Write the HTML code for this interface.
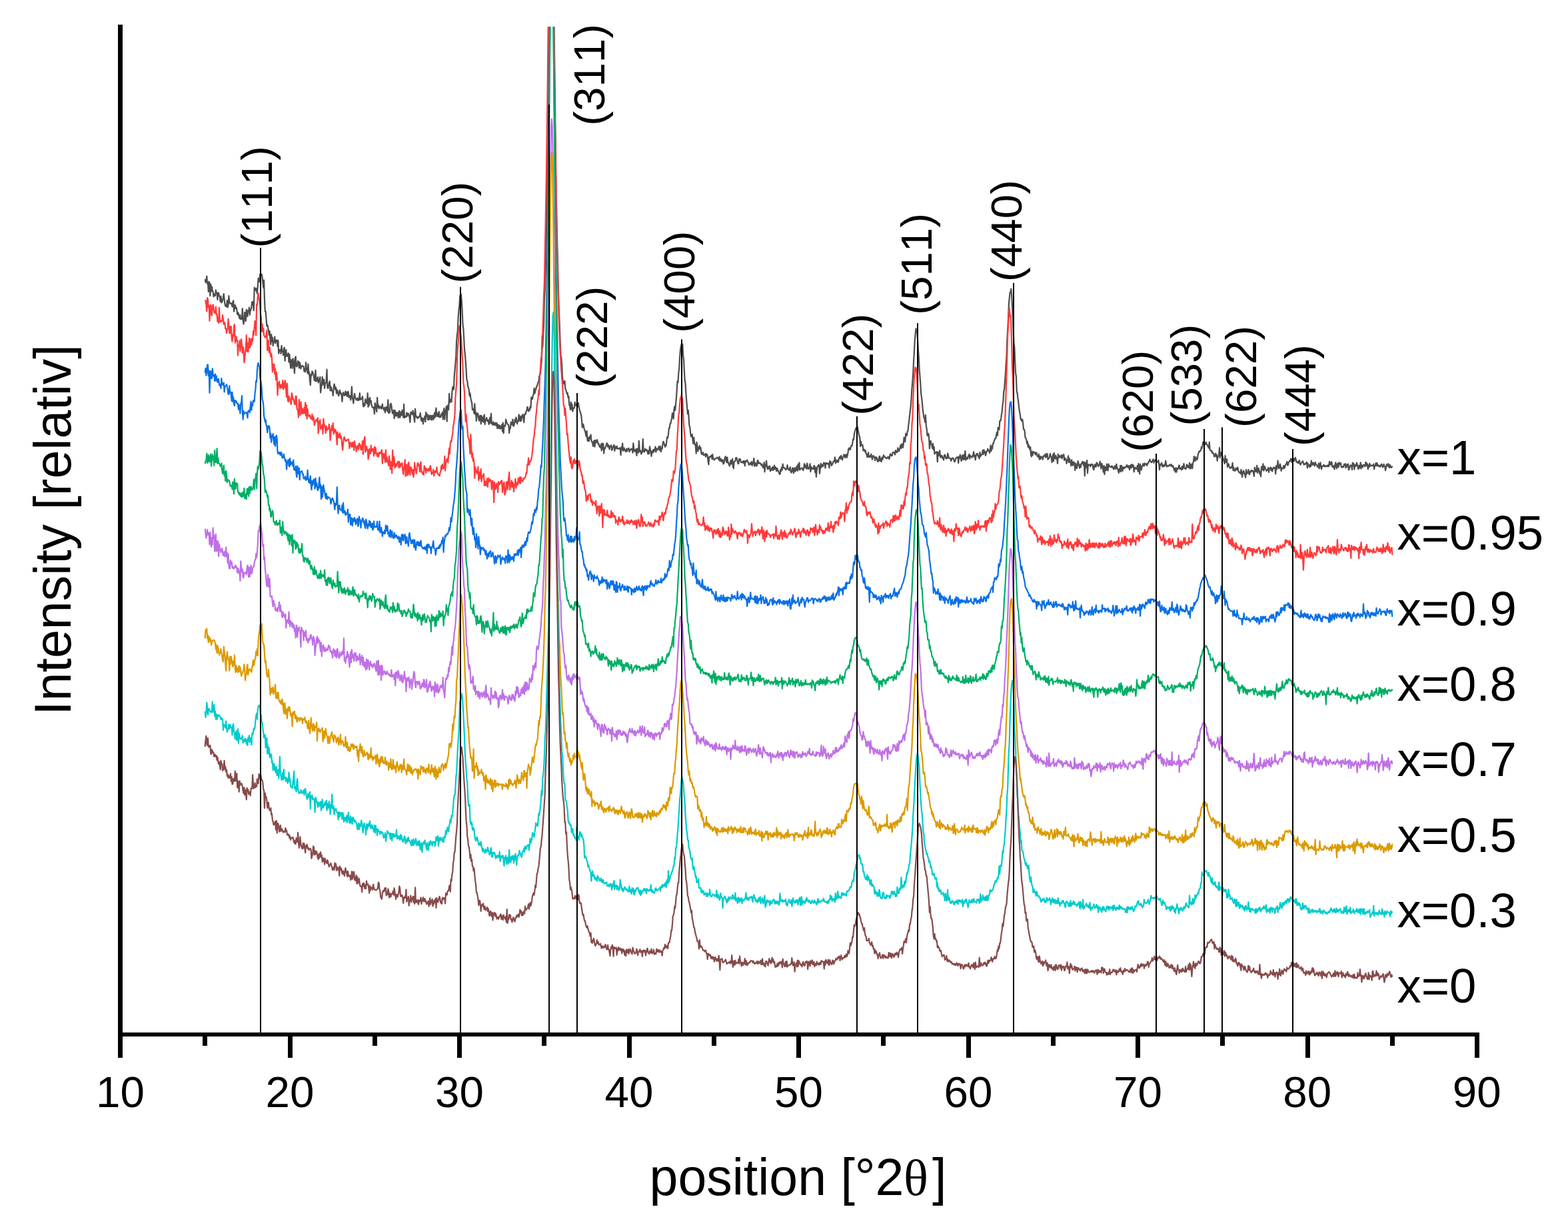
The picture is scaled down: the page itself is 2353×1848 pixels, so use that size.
<!DOCTYPE html><html><head><meta charset="utf-8"><title>XRD</title>
<style>html,body{margin:0;padding:0;background:#fff;overflow:hidden}svg{display:block;font-family:"Liberation Sans",Arial,sans-serif;font-kerning:none}text{font-kerning:none}</style></head><body>
<svg width="2353" height="1848" viewBox="0 0 2353 1848">
<rect width="2353" height="1848" fill="#fff"/>
<defs><clipPath id="pc"><rect x="0" y="40" width="2353" height="1520"/></clipPath></defs>
<g clip-path="url(#pc)" fill="none" stroke-width="2.2" stroke-linejoin="round">
<polyline points="307.7,419.1 308.6,424.0 309.4,420.6 310.3,414.5 311.1,426.0 312.0,424.0 312.8,437.9 313.7,422.7 314.5,425.3 315.4,444.1 316.2,426.7 317.1,437.5 317.9,430.3 318.8,436.5 319.6,437.4 320.5,445.5 321.3,441.6 322.2,442.7 323.0,444.0 323.9,435.4 324.7,440.7 325.6,439.9 326.4,449.8 327.3,439.4 328.1,440.0 329.0,444.3 329.8,445.7 330.7,452.9 331.5,444.7 332.4,454.4 333.2,453.3 334.1,450.2 334.9,446.7 335.8,441.0 336.6,449.5 337.5,456.8 338.3,459.4 339.2,457.9 340.0,460.7 340.9,450.9 341.7,461.3 342.6,457.6 343.4,444.2 344.3,453.4 345.1,455.4 346.0,455.8 346.8,455.1 347.7,456.6 348.5,460.5 349.4,453.5 350.2,451.3 351.1,467.7 351.9,462.1 352.8,457.8 353.6,463.0 354.5,461.3 355.3,464.8 356.2,472.2 357.0,469.1 357.9,470.5 358.7,475.7 359.6,478.1 360.4,472.9 361.3,479.3 362.1,477.3 363.0,478.9 363.8,463.1 364.7,481.2 365.5,486.5 366.4,481.5 367.2,468.8 368.1,473.3 368.9,481.9 369.8,464.9 370.6,469.9 371.5,475.0 372.3,466.2 373.2,468.3 374.0,461.6 374.9,472.7 375.7,465.3 376.6,465.1 377.4,460.1 378.3,453.1 379.1,453.0 380.0,458.2 380.8,466.2 381.7,431.7 382.5,435.3 383.4,435.6 384.2,432.7 385.1,436.9 385.9,440.6 386.8,430.2 387.6,417.9 388.5,421.3 389.3,422.9 390.2,411.5 391.0,411.5 391.9,411.5 392.7,411.5 393.6,415.9 394.4,424.5 395.3,431.8 396.1,420.7 397.0,450.3 397.8,467.5 398.7,467.6 399.5,478.3 400.4,489.4 401.2,487.8 402.1,491.7 402.9,495.7 403.8,503.2 404.6,497.1 405.5,508.8 406.3,517.2 407.2,502.1 408.0,512.6 408.9,506.7 409.7,519.0 410.6,512.1 411.4,512.0 412.3,505.7 413.1,515.4 414.0,510.8 414.8,513.0 415.7,510.7 416.5,519.8 417.4,511.2 418.2,530.7 419.1,526.7 419.9,525.1 420.8,524.9 421.6,530.9 422.5,518.9 423.3,527.2 424.2,526.3 425.0,533.2 425.9,523.7 426.7,521.7 427.6,541.7 428.4,531.0 429.3,525.1 430.1,535.0 431.0,534.5 431.8,532.4 432.7,530.2 433.5,543.7 434.4,532.2 435.2,541.2 436.1,552.4 436.9,540.2 437.8,541.1 438.6,552.8 439.5,538.3 440.3,540.9 441.2,551.1 442.0,560.3 442.9,537.5 443.7,535.3 444.6,549.6 445.4,550.3 446.3,547.4 447.1,542.0 448.0,543.1 448.8,552.5 449.7,544.0 450.5,546.9 451.4,553.5 452.2,550.6 453.1,549.7 453.9,548.8 454.8,550.0 455.6,550.2 456.5,557.5 457.3,554.4 458.2,558.2 459.0,544.1 459.9,554.5 460.7,554.3 461.6,560.3 462.4,546.5 463.3,561.7 464.1,558.8 465.0,570.9 465.8,578.2 466.7,562.1 467.5,564.1 468.4,557.4 469.2,558.8 470.1,561.0 470.9,564.8 471.8,571.2 472.6,571.3 473.5,555.8 474.3,572.5 475.2,568.2 476.0,571.7 476.9,566.1 477.7,574.5 478.6,571.7 479.4,569.6 480.3,565.9 481.1,589.4 482.0,581.7 482.8,578.8 483.7,565.8 484.5,574.5 485.4,577.3 486.2,569.6 487.1,582.9 487.9,576.3 488.8,574.5 489.6,573.4 490.5,554.7 491.3,580.9 492.2,583.1 493.0,579.5 493.9,575.3 494.7,572.3 495.6,586.4 496.4,580.4 497.3,582.8 498.1,587.1 499.0,587.5 499.8,594.0 500.7,581.5 501.5,576.5 502.4,579.6 503.2,584.9 504.1,581.9 504.9,590.7 505.8,585.3 506.6,586.8 507.5,592.1 508.3,594.3 509.2,588.7 510.0,585.8 510.9,591.1 511.7,590.0 512.6,593.0 513.4,603.0 514.3,592.8 515.1,589.0 516.0,592.4 516.8,593.8 517.7,591.2 518.5,587.4 519.4,593.4 520.2,588.8 521.1,595.1 521.9,588.0 522.8,588.3 523.6,596.7 524.5,594.0 525.3,594.9 526.2,600.5 527.0,594.4 527.9,580.5 528.7,596.6 529.6,599.9 530.4,605.5 531.3,596.4 532.1,590.8 533.0,596.6 533.8,598.1 534.7,600.6 535.5,599.2 536.4,597.7 537.2,601.3 538.1,597.9 538.9,600.5 539.8,590.1 540.6,600.1 541.5,598.1 542.3,598.9 543.2,599.1 544.0,595.1 544.9,608.5 545.7,610.5 546.6,605.9 547.4,608.8 548.3,599.2 549.1,602.4 550.0,604.2 550.8,605.9 551.7,590.2 552.5,611.0 553.4,598.6 554.2,608.3 555.1,596.8 555.9,603.9 556.8,601.8 557.6,607.8 558.5,610.8 559.3,612.0 560.2,611.3 561.0,612.1 561.9,621.4 562.7,605.1 563.6,608.9 564.4,612.0 565.3,618.1 566.1,596.9 567.0,611.2 567.8,607.8 568.7,613.4 569.5,610.2 570.4,611.5 571.2,610.3 572.1,613.6 572.9,612.6 573.8,606.5 574.6,612.8 575.5,613.1 576.3,615.9 577.2,611.8 578.0,619.3 578.9,614.8 579.7,610.8 580.6,611.9 581.4,617.6 582.3,600.3 583.1,620.0 584.0,618.2 584.8,619.7 585.7,607.3 586.5,605.6 587.4,608.9 588.2,616.4 589.1,620.7 589.9,618.4 590.8,615.7 591.6,628.1 592.5,616.2 593.3,618.6 594.2,624.7 595.0,619.3 595.9,624.0 596.7,619.6 597.6,627.1 598.4,618.7 599.3,616.7 600.1,626.9 601.0,623.2 601.8,618.6 602.7,623.4 603.5,615.9 604.4,620.2 605.2,626.5 606.1,606.9 606.9,627.3 607.8,625.2 608.6,625.3 609.5,626.0 610.3,619.6 611.2,624.6 612.0,620.7 612.9,620.9 613.7,623.3 614.6,627.1 615.4,633.9 616.3,619.2 617.1,618.7 618.0,620.3 618.8,622.4 619.7,616.4 620.5,619.9 621.4,627.5 622.2,633.7 623.1,613.9 623.9,624.0 624.8,626.0 625.6,625.3 626.5,628.2 627.3,626.7 628.2,627.0 629.0,624.9 629.9,625.1 630.7,619.8 631.6,627.0 632.4,631.9 633.3,627.4 634.1,628.3 635.0,636.3 635.8,629.2 636.7,628.0 637.5,624.7 638.4,633.2 639.2,618.9 640.1,624.5 640.9,621.9 641.8,629.6 642.6,623.2 643.5,630.5 644.3,626.9 645.2,623.8 646.0,629.1 646.9,623.8 647.7,630.7 648.6,625.5 649.4,623.6 650.3,629.9 651.1,627.6 652.0,619.9 652.8,626.6 653.7,617.0 654.5,612.7 655.4,625.2 656.2,624.2 657.1,620.4 657.9,625.3 658.8,617.8 659.6,626.4 660.5,625.3 661.3,626.3 662.2,621.6 663.0,623.3 663.9,619.1 664.7,629.4 665.6,617.1 666.4,612.9 667.3,629.8 668.1,616.9 669.0,616.6 669.8,610.2 670.7,632.6 671.5,610.5 672.4,607.9 673.2,615.1 674.1,590.8 674.9,604.5 675.8,599.9 676.6,599.8 677.5,603.5 678.3,589.9 679.2,581.4 680.0,580.5 680.9,584.6 681.7,565.7 682.6,555.1 683.4,545.7 684.3,535.3 685.1,512.1 686.0,502.9 686.8,496.1 687.7,475.9 688.5,465.4 689.4,459.1 690.2,443.8 691.1,447.6 691.9,441.5 692.8,452.2 693.6,465.8 694.5,487.0 695.3,493.0 696.2,507.8 697.0,524.1 697.9,531.8 698.7,542.1 699.6,555.1 700.4,570.1 701.3,571.9 702.1,580.0 703.0,582.0 703.8,585.6 704.7,594.3 705.5,590.3 706.4,597.9 707.2,601.9 708.1,604.4 708.9,615.1 709.8,613.7 710.6,615.0 711.5,620.6 712.3,606.2 713.2,622.0 714.0,618.6 714.9,631.9 715.7,620.8 716.6,620.4 717.4,621.4 718.3,628.5 719.1,631.7 720.0,624.7 720.8,623.8 721.7,636.4 722.5,624.1 723.4,626.0 724.2,632.6 725.1,633.6 725.9,625.8 726.8,622.7 727.6,637.2 728.5,630.7 729.3,630.7 730.2,627.1 731.0,631.9 731.9,630.5 732.7,632.3 733.6,637.0 734.4,630.3 735.3,626.8 736.1,635.2 737.0,620.8 737.8,636.2 738.7,634.8 739.5,638.0 740.4,633.3 741.2,636.2 742.1,638.3 742.9,635.2 743.8,634.7 744.6,639.1 745.5,635.1 746.3,643.1 747.2,637.5 748.0,638.1 748.9,643.1 749.7,638.6 750.6,643.5 751.4,643.4 752.3,639.9 753.1,637.6 754.0,647.7 754.8,634.7 755.7,650.5 756.5,638.9 757.4,638.8 758.2,639.6 759.1,629.5 759.9,632.2 760.8,635.1 761.6,636.9 762.5,637.3 763.3,638.4 764.2,650.2 765.0,641.8 765.9,642.9 766.7,633.8 767.6,636.0 768.4,637.6 769.3,629.7 770.1,638.9 771.0,639.8 771.8,636.5 772.7,629.5 773.5,633.9 774.4,626.5 775.2,629.9 776.1,636.3 776.9,633.1 777.8,632.2 778.6,622.3 779.5,625.2 780.3,632.2 781.2,625.2 782.0,632.0 782.9,627.3 783.7,623.3 784.6,622.4 785.4,627.9 786.3,634.1 787.1,622.5 788.0,621.0 788.8,621.6 789.7,617.1 790.5,616.2 791.4,610.8 792.2,612.4 793.1,617.5 793.9,615.1 794.8,616.1 795.6,610.4 796.5,612.4 797.3,596.3 798.2,598.0 799.0,599.2 799.9,593.2 800.7,591.6 801.6,582.8 802.4,590.7 803.3,587.2 804.1,584.6 805.0,580.4 805.8,580.0 806.7,576.7 807.5,573.9 808.4,573.6 809.2,564.5 810.1,563.0 810.9,561.1 811.8,550.7 812.6,543.8 813.5,522.8 814.3,520.4 815.2,502.5 816.0,487.8 816.9,452.0 817.7,435.5 818.6,409.0 819.4,371.9 820.3,330.6 821.1,281.6 822.0,233.4 822.8,176.5 823.7,98.1 824.5,20.9 825.4,-37.4 826.2,-90.3 827.1,-131.2 827.9,-147.6 828.8,-138.0 829.6,-104.0 830.5,-35.4 831.3,25.7 832.2,94.4 833.0,161.2 833.9,230.8 834.7,292.9 835.6,334.8 836.4,371.1 837.3,408.6 838.1,445.4 839.0,469.2 839.8,489.3 840.7,515.4 841.5,533.4 842.4,538.0 843.2,547.8 844.1,567.5 844.9,571.8 845.8,576.1 846.6,573.6 847.5,572.0 848.3,583.4 849.2,584.9 850.0,588.0 850.9,591.3 851.7,590.0 852.6,596.9 853.4,595.0 854.3,607.9 855.1,609.4 856.0,614.8 856.8,603.6 857.7,614.4 858.5,606.8 859.4,617.6 860.2,612.5 861.1,613.1 861.9,611.9 862.8,603.7 863.6,609.1 864.5,606.7 865.3,606.3 866.2,610.3 867.0,610.3 867.9,604.8 868.7,610.7 869.6,614.7 870.4,617.6 871.3,620.0 872.1,623.1 873.0,630.6 873.8,641.7 874.7,636.5 875.5,637.9 876.4,642.5 877.2,645.8 878.1,647.6 878.9,651.2 879.8,655.2 880.6,646.8 881.5,660.8 882.3,662.1 883.2,657.0 884.0,662.0 884.9,655.4 885.7,658.4 886.6,652.5 887.4,661.2 888.3,663.7 889.1,664.1 890.0,669.9 890.8,662.9 891.7,661.3 892.5,670.6 893.4,661.0 894.2,664.4 895.1,664.0 895.9,660.1 896.8,662.6 897.6,666.6 898.5,666.2 899.3,670.0 900.2,671.0 901.0,671.8 901.9,666.9 902.7,676.5 903.6,665.5 904.4,674.0 905.3,666.1 906.1,680.6 907.0,672.6 907.8,673.6 908.7,671.2 909.5,669.2 910.4,665.7 911.2,665.3 912.1,670.7 912.9,668.0 913.8,670.9 914.6,674.4 915.5,669.7 916.3,670.0 917.2,668.3 918.0,675.8 918.9,674.9 919.7,670.8 920.6,670.0 921.4,667.9 922.3,677.0 923.1,670.0 924.0,673.7 924.8,672.4 925.7,669.8 926.5,673.7 927.4,673.7 928.2,673.2 929.1,673.7 929.9,672.3 930.8,673.6 931.6,683.1 932.5,671.2 933.3,674.9 934.2,665.7 935.0,676.7 935.9,675.7 936.7,672.5 937.6,676.2 938.4,676.9 939.3,678.1 940.1,673.8 941.0,677.4 941.8,674.0 942.7,674.2 943.5,672.7 944.4,678.3 945.2,675.2 946.1,675.9 946.9,674.1 947.8,673.6 948.6,674.5 949.5,679.7 950.3,665.3 951.2,673.1 952.0,677.1 952.9,677.9 953.7,675.6 954.6,674.2 955.4,683.9 956.3,673.7 957.1,678.3 958.0,679.5 958.8,661.8 959.7,674.1 960.5,678.3 961.4,676.3 962.2,681.6 963.1,679.5 963.9,678.6 964.8,659.1 965.6,676.1 966.5,678.4 967.3,678.4 968.2,673.5 969.0,675.9 969.9,676.1 970.7,675.2 971.6,678.5 972.4,681.4 973.3,676.3 974.1,681.2 975.0,670.4 975.8,673.9 976.7,678.4 977.5,684.8 978.4,677.7 979.2,679.9 980.1,675.4 980.9,678.6 981.8,674.6 982.6,676.4 983.5,670.6 984.3,678.6 985.2,673.3 986.0,675.0 986.9,675.4 987.7,673.7 988.6,670.2 989.4,674.0 990.3,676.4 991.1,669.8 992.0,678.1 992.8,672.5 993.7,673.7 994.5,666.8 995.4,662.8 996.2,664.7 997.1,667.1 997.9,670.8 998.8,668.0 999.6,669.1 1000.5,661.3 1001.3,656.0 1002.2,657.1 1003.0,652.1 1003.9,642.4 1004.7,642.6 1005.6,635.8 1006.4,635.8 1007.3,631.2 1008.1,628.0 1009.0,620.2 1009.8,621.8 1010.7,628.6 1011.5,614.8 1012.4,610.0 1013.2,616.0 1014.1,606.7 1014.9,598.0 1015.8,584.1 1016.6,572.4 1017.5,574.1 1018.3,559.5 1019.2,554.1 1020.0,537.5 1020.9,526.7 1021.7,520.5 1022.6,516.9 1023.4,521.1 1024.3,516.9 1025.1,532.8 1026.0,539.8 1026.8,557.1 1027.7,571.3 1028.5,575.0 1029.4,590.5 1030.2,601.0 1031.1,611.6 1031.9,621.3 1032.8,616.2 1033.6,626.8 1034.5,639.6 1035.3,641.4 1036.2,650.7 1037.0,655.3 1037.9,654.7 1038.7,652.1 1039.6,660.4 1040.4,666.0 1041.3,656.9 1042.1,666.6 1043.0,666.4 1043.8,669.7 1044.7,680.6 1045.5,663.8 1046.4,670.6 1047.2,677.3 1048.1,671.5 1048.9,674.0 1049.8,669.1 1050.6,674.1 1051.5,672.1 1052.3,679.6 1053.2,682.0 1054.0,680.1 1054.9,679.1 1055.7,683.3 1056.6,683.4 1057.4,682.8 1058.3,681.4 1059.1,685.9 1060.0,681.3 1060.8,682.0 1061.7,683.8 1062.5,692.0 1063.4,697.3 1064.2,686.2 1065.1,686.5 1065.9,685.0 1066.8,685.8 1067.6,683.5 1068.5,688.8 1069.3,682.1 1070.2,689.0 1071.0,689.4 1071.9,690.6 1072.7,688.7 1073.6,688.3 1074.4,688.4 1075.3,687.6 1076.1,686.6 1077.0,687.4 1077.8,688.6 1078.7,690.2 1079.5,685.5 1080.4,692.2 1081.2,690.9 1082.1,688.8 1082.9,693.1 1083.8,692.2 1084.6,690.4 1085.5,696.5 1086.3,695.6 1087.2,690.5 1088.0,686.7 1088.9,685.2 1089.7,691.9 1090.6,694.3 1091.4,686.6 1092.3,694.6 1093.1,694.1 1094.0,697.8 1094.8,699.6 1095.7,695.9 1096.5,691.1 1097.4,696.6 1098.2,693.4 1099.1,688.9 1099.9,699.7 1100.8,703.2 1101.6,693.1 1102.5,692.7 1103.3,692.1 1104.2,687.5 1105.0,686.9 1105.9,688.7 1106.7,692.7 1107.6,696.2 1108.4,695.7 1109.3,689.0 1110.1,688.8 1111.0,689.6 1111.8,693.8 1112.7,694.1 1113.5,693.5 1114.4,693.0 1115.2,695.2 1116.1,691.9 1116.9,692.6 1117.8,699.4 1118.6,692.2 1119.5,693.0 1120.3,691.5 1121.2,690.6 1122.0,693.7 1122.9,693.8 1123.7,697.9 1124.6,697.4 1125.4,696.1 1126.3,694.7 1127.1,697.5 1128.0,693.1 1128.8,698.9 1129.7,695.8 1130.5,693.8 1131.4,688.0 1132.2,699.9 1133.1,694.8 1133.9,695.8 1134.8,699.2 1135.6,699.6 1136.5,692.6 1137.3,691.0 1138.2,695.8 1139.0,694.3 1139.9,695.5 1140.7,695.2 1141.6,696.4 1142.4,698.4 1143.3,696.7 1144.1,698.7 1145.0,702.2 1145.8,701.5 1146.7,694.2 1147.5,708.4 1148.4,698.1 1149.2,699.2 1150.1,691.9 1150.9,700.8 1151.8,704.2 1152.6,700.6 1153.5,703.8 1154.3,701.3 1155.2,699.5 1156.0,707.3 1156.9,704.1 1157.7,705.9 1158.6,702.2 1159.4,701.2 1160.3,706.0 1161.1,703.7 1162.0,698.6 1162.8,704.2 1163.7,701.1 1164.5,703.7 1165.4,707.4 1166.2,702.9 1167.1,705.8 1167.9,707.0 1168.8,709.0 1169.6,711.3 1170.5,712.0 1171.3,705.1 1172.2,707.4 1173.0,701.5 1173.9,705.1 1174.7,696.6 1175.6,702.0 1176.4,701.8 1177.3,703.1 1178.1,703.0 1179.0,705.1 1179.8,704.8 1180.7,703.8 1181.5,698.1 1182.4,703.7 1183.2,704.1 1184.1,705.9 1184.9,704.4 1185.8,701.2 1186.6,708.1 1187.5,709.5 1188.3,707.9 1189.2,702.6 1190.0,702.9 1190.9,710.4 1191.7,704.7 1192.6,702.3 1193.4,707.8 1194.3,702.3 1195.1,705.8 1196.0,699.5 1196.8,706.9 1197.7,696.8 1198.5,704.5 1199.4,694.5 1200.2,705.6 1201.1,703.8 1201.9,703.5 1202.8,703.2 1203.6,702.3 1204.5,704.2 1205.3,706.0 1206.2,703.2 1207.0,696.1 1207.9,701.5 1208.7,698.3 1209.6,702.5 1210.4,703.8 1211.3,695.5 1212.1,700.5 1213.0,704.1 1213.8,702.2 1214.7,703.0 1215.5,696.4 1216.4,708.2 1217.2,700.7 1218.1,704.3 1218.9,702.5 1219.8,702.8 1220.6,704.2 1221.5,699.2 1222.3,699.4 1223.2,709.1 1224.0,701.8 1224.9,715.9 1225.7,705.6 1226.6,700.5 1227.4,700.0 1228.3,697.8 1229.1,698.8 1230.0,711.0 1230.8,702.7 1231.7,695.8 1232.5,701.7 1233.4,697.5 1234.2,700.2 1235.1,700.0 1235.9,694.8 1236.8,695.8 1237.6,695.1 1238.5,702.6 1239.3,695.1 1240.2,696.2 1241.0,695.1 1241.9,696.6 1242.7,696.7 1243.6,695.3 1244.4,702.3 1245.3,691.9 1246.1,695.4 1247.0,693.6 1247.8,699.1 1248.7,697.2 1249.5,696.5 1250.4,692.9 1251.2,692.6 1252.1,692.4 1252.9,686.3 1253.8,695.5 1254.6,690.7 1255.5,693.5 1256.3,691.3 1257.2,691.1 1258.0,694.0 1258.9,688.3 1259.7,687.3 1260.6,685.3 1261.4,688.8 1262.3,683.9 1263.1,686.6 1264.0,690.5 1264.8,687.0 1265.7,685.7 1266.5,682.3 1267.4,683.0 1268.2,687.1 1269.1,683.2 1269.9,682.2 1270.8,686.9 1271.6,683.8 1272.5,679.5 1273.3,674.0 1274.2,672.5 1275.0,674.7 1275.9,674.9 1276.7,671.5 1277.6,668.8 1278.4,669.4 1279.3,665.4 1280.1,659.7 1281.0,660.1 1281.8,652.1 1282.7,647.9 1283.5,645.9 1284.4,642.6 1285.2,642.9 1286.1,644.5 1286.9,640.8 1287.8,647.0 1288.6,650.5 1289.5,655.3 1290.3,656.3 1291.2,670.1 1292.0,662.9 1292.9,668.3 1293.7,667.9 1294.6,668.2 1295.4,676.4 1296.3,675.3 1297.1,674.8 1298.0,678.1 1298.8,676.5 1299.7,681.1 1300.5,682.0 1301.4,686.4 1302.2,683.5 1303.1,679.3 1303.9,686.2 1304.8,684.6 1305.6,686.3 1306.5,684.4 1307.3,681.7 1308.2,686.6 1309.0,689.8 1309.9,684.6 1310.7,684.2 1311.6,685.5 1312.4,687.3 1313.3,691.2 1314.1,686.2 1315.0,687.8 1315.8,687.0 1316.7,692.7 1317.5,690.5 1318.4,692.7 1319.2,686.3 1320.1,684.8 1320.9,692.0 1321.8,688.9 1322.6,693.1 1323.5,686.5 1324.3,689.8 1325.2,687.0 1326.0,683.2 1326.9,685.2 1327.7,686.3 1328.6,686.4 1329.4,687.1 1330.3,688.2 1331.1,688.1 1332.0,686.6 1332.8,685.7 1333.7,687.5 1334.5,689.2 1335.4,683.5 1336.2,681.4 1337.1,682.9 1337.9,684.3 1338.8,683.9 1339.6,679.4 1340.5,678.6 1341.3,679.1 1342.2,680.1 1343.0,682.6 1343.9,676.1 1344.7,679.4 1345.6,677.3 1346.4,678.9 1347.3,672.3 1348.1,675.5 1349.0,677.3 1349.8,674.8 1350.7,671.5 1351.5,668.1 1352.4,673.1 1353.2,666.9 1354.1,666.4 1354.9,672.0 1355.8,666.4 1356.6,656.7 1357.5,659.8 1358.3,663.2 1359.2,650.9 1360.0,653.8 1360.9,653.8 1361.7,647.4 1362.6,646.4 1363.4,637.4 1364.3,631.1 1365.1,623.4 1366.0,615.8 1366.8,609.2 1367.7,595.9 1368.5,582.4 1369.4,572.2 1370.2,561.0 1371.1,541.7 1371.9,528.1 1372.8,511.4 1373.6,501.6 1374.5,493.3 1375.3,498.4 1376.2,497.3 1377.0,508.4 1377.9,524.5 1378.7,535.9 1379.6,553.4 1380.4,564.1 1381.3,576.8 1382.1,590.1 1383.0,596.6 1383.8,603.5 1384.7,614.1 1385.5,619.5 1386.4,626.9 1387.2,627.6 1388.1,633.9 1388.9,623.1 1389.8,638.9 1390.6,643.4 1391.5,654.0 1392.3,654.0 1393.2,650.9 1394.0,655.3 1394.9,673.4 1395.7,664.2 1396.6,661.8 1397.4,666.1 1398.3,668.3 1399.1,672.8 1400.0,666.2 1400.8,675.2 1401.7,670.8 1402.5,681.6 1403.4,680.2 1404.2,678.9 1405.1,679.3 1405.9,678.1 1406.8,693.3 1407.6,678.9 1408.5,683.9 1409.3,682.0 1410.2,676.3 1411.0,686.4 1411.9,686.4 1412.7,683.8 1413.6,684.2 1414.4,688.1 1415.3,686.9 1416.1,690.6 1417.0,683.7 1417.8,682.6 1418.7,685.2 1419.5,688.2 1420.4,687.1 1421.2,688.4 1422.1,680.7 1422.9,683.0 1423.8,687.7 1424.6,687.8 1425.5,688.2 1426.3,688.2 1427.2,691.9 1428.0,690.2 1428.9,687.5 1429.7,687.5 1430.6,688.1 1431.4,690.2 1432.3,693.5 1433.1,692.2 1434.0,688.9 1434.8,688.0 1435.7,686.4 1436.5,686.9 1437.4,686.2 1438.2,695.1 1439.1,685.5 1439.9,687.9 1440.8,682.7 1441.6,685.2 1442.5,692.1 1443.3,690.3 1444.2,683.6 1445.0,689.3 1445.9,682.9 1446.7,690.0 1447.6,687.1 1448.4,677.2 1449.3,690.8 1450.1,687.9 1451.0,687.2 1451.8,688.9 1452.7,685.2 1453.5,684.1 1454.4,681.9 1455.2,688.6 1456.1,683.9 1456.9,685.5 1457.8,685.2 1458.6,686.8 1459.5,684.9 1460.3,682.3 1461.2,678.2 1462.0,685.8 1462.9,683.6 1463.7,690.4 1464.6,684.5 1465.4,681.4 1466.3,682.9 1467.1,680.9 1468.0,685.2 1468.8,686.1 1469.7,688.5 1470.5,678.8 1471.4,685.1 1472.2,682.8 1473.1,682.9 1473.9,680.9 1474.8,675.8 1475.6,682.1 1476.5,675.3 1477.3,679.9 1478.2,678.0 1479.0,684.0 1479.9,680.5 1480.7,677.7 1481.6,676.4 1482.4,673.7 1483.3,676.9 1484.1,676.7 1485.0,680.0 1485.8,675.7 1486.7,668.4 1487.5,677.2 1488.4,670.2 1489.2,673.6 1490.1,665.5 1490.9,665.6 1491.8,662.3 1492.6,659.6 1493.5,657.9 1494.3,658.0 1495.2,652.7 1496.0,648.9 1496.9,653.7 1497.7,641.8 1498.6,643.1 1499.4,645.2 1500.3,631.9 1501.1,631.9 1502.0,630.3 1502.8,622.8 1503.7,618.4 1504.5,608.1 1505.4,603.4 1506.2,587.9 1507.1,584.3 1507.9,573.6 1508.8,562.6 1509.6,547.4 1510.5,535.7 1511.3,510.9 1512.2,495.1 1513.0,479.9 1513.9,456.4 1514.7,448.1 1515.6,439.4 1516.4,438.0 1517.3,433.5 1518.1,442.9 1519.0,459.8 1519.8,476.7 1520.7,497.6 1521.5,515.5 1522.4,522.0 1523.2,542.2 1524.1,560.1 1524.9,565.3 1525.8,588.4 1526.6,589.9 1527.5,598.2 1528.3,603.5 1529.2,612.5 1530.0,618.0 1530.9,623.0 1531.7,629.7 1532.6,629.1 1533.4,632.2 1534.3,629.7 1535.1,635.4 1536.0,644.3 1536.8,644.3 1537.7,647.1 1538.5,657.0 1539.4,657.5 1540.2,660.0 1541.1,666.0 1541.9,662.9 1542.8,671.2 1543.6,667.5 1544.5,671.9 1545.3,674.7 1546.2,671.0 1547.0,682.9 1547.9,685.5 1548.7,677.7 1549.6,683.5 1550.4,678.3 1551.3,678.4 1552.1,679.7 1553.0,679.1 1553.8,682.5 1554.7,679.8 1555.5,679.4 1556.4,684.4 1557.2,685.3 1558.1,686.0 1558.9,681.8 1559.8,689.6 1560.6,685.0 1561.5,689.1 1562.3,685.3 1563.2,686.8 1564.0,686.3 1564.9,689.8 1565.7,684.4 1566.6,685.0 1567.4,685.0 1568.3,681.8 1569.1,686.8 1570.0,685.6 1570.8,680.9 1571.7,681.7 1572.5,689.9 1573.4,687.9 1574.2,688.2 1575.1,685.2 1575.9,681.1 1576.8,685.3 1577.6,685.7 1578.5,694.1 1579.3,687.6 1580.2,682.2 1581.0,692.3 1581.9,680.2 1582.7,686.6 1583.6,688.4 1584.4,684.0 1585.3,689.0 1586.1,687.2 1587.0,696.0 1587.8,681.9 1588.7,687.5 1589.5,684.3 1590.4,684.3 1591.2,686.3 1592.1,686.9 1592.9,683.2 1593.8,688.3 1594.6,685.1 1595.5,683.0 1596.3,682.1 1597.2,691.1 1598.0,687.5 1598.9,688.2 1599.7,690.3 1600.6,695.8 1601.4,692.1 1602.3,689.6 1603.1,684.4 1604.0,694.2 1604.8,688.4 1605.7,692.2 1606.5,694.5 1607.4,699.2 1608.2,690.4 1609.1,695.9 1609.9,698.7 1610.8,693.5 1611.6,693.7 1612.5,697.6 1613.3,706.0 1614.2,695.7 1615.0,700.8 1615.9,703.2 1616.7,698.8 1617.6,692.1 1618.4,695.1 1619.3,698.9 1620.1,702.9 1621.0,697.8 1621.8,701.3 1622.7,695.8 1623.5,696.2 1624.4,692.8 1625.2,694.9 1626.1,698.6 1626.9,693.6 1627.8,714.4 1628.6,694.7 1629.5,702.1 1630.3,696.6 1631.2,691.2 1632.0,710.3 1632.9,697.3 1633.7,698.3 1634.6,697.7 1635.4,697.8 1636.3,700.4 1637.1,696.9 1638.0,698.2 1638.8,697.1 1639.7,697.5 1640.5,703.5 1641.4,705.3 1642.2,699.2 1643.1,697.3 1643.9,700.8 1644.8,700.6 1645.6,694.5 1646.5,694.9 1647.3,698.3 1648.2,700.2 1649.0,698.6 1649.9,696.7 1650.7,692.5 1651.6,699.8 1652.4,703.5 1653.3,695.9 1654.1,698.8 1655.0,703.0 1655.8,708.7 1656.7,699.0 1657.5,712.1 1658.4,701.1 1659.2,703.6 1660.1,706.1 1660.9,696.6 1661.8,701.9 1662.6,706.3 1663.5,696.6 1664.3,700.1 1665.2,699.6 1666.0,700.8 1666.9,700.6 1667.7,701.7 1668.6,699.4 1669.4,701.6 1670.3,701.4 1671.1,704.4 1672.0,701.9 1672.8,699.7 1673.7,704.0 1674.5,699.5 1675.4,696.8 1676.2,703.5 1677.1,703.2 1677.9,706.0 1678.8,710.0 1679.6,704.2 1680.5,707.3 1681.3,698.9 1682.2,708.1 1683.0,699.2 1683.9,701.4 1684.7,706.9 1685.6,701.8 1686.4,701.3 1687.3,703.2 1688.1,701.4 1689.0,701.4 1689.8,701.5 1690.7,698.2 1691.5,698.3 1692.4,701.7 1693.2,701.7 1694.1,699.2 1694.9,705.2 1695.8,700.3 1696.6,698.4 1697.5,702.7 1698.3,697.1 1699.2,700.9 1700.0,697.9 1700.9,699.1 1701.7,708.3 1702.6,702.8 1703.4,701.6 1704.3,703.8 1705.1,703.5 1706.0,704.0 1706.8,699.0 1707.7,708.0 1708.5,695.9 1709.4,703.8 1710.2,711.4 1711.1,696.9 1711.9,702.9 1712.8,705.5 1713.6,699.9 1714.5,699.8 1715.3,696.0 1716.2,699.3 1717.0,699.4 1717.9,695.4 1718.7,697.5 1719.6,697.4 1720.4,696.2 1721.3,698.9 1722.1,696.0 1723.0,695.6 1723.8,692.7 1724.7,692.5 1725.5,689.5 1726.4,693.1 1727.2,693.7 1728.1,694.4 1728.9,692.7 1729.8,691.0 1730.6,689.5 1731.5,694.9 1732.3,692.9 1733.2,690.6 1734.0,690.8 1734.9,692.9 1735.7,692.5 1736.6,694.0 1737.4,693.0 1738.3,690.9 1739.1,695.5 1740.0,705.2 1740.8,697.6 1741.7,696.7 1742.5,697.8 1743.4,694.9 1744.2,700.3 1745.1,698.5 1745.9,700.5 1746.8,698.0 1747.6,699.8 1748.5,696.5 1749.3,691.9 1750.2,698.1 1751.0,700.6 1751.9,698.9 1752.7,699.7 1753.6,699.8 1754.4,698.5 1755.3,697.5 1756.1,697.3 1757.0,699.5 1757.8,697.3 1758.7,699.7 1759.5,700.8 1760.4,699.4 1761.2,702.8 1762.1,706.2 1762.9,703.1 1763.8,708.5 1764.6,702.3 1765.5,708.7 1766.3,703.2 1767.2,704.4 1768.0,703.5 1768.9,699.4 1769.7,698.4 1770.6,704.0 1771.4,703.6 1772.3,702.5 1773.1,705.5 1774.0,700.0 1774.8,704.2 1775.7,701.5 1776.5,696.0 1777.4,702.3 1778.2,703.5 1779.1,704.3 1779.9,703.4 1780.8,697.5 1781.6,697.9 1782.5,701.5 1783.3,699.4 1784.2,702.4 1785.0,694.9 1785.9,703.5 1786.7,703.5 1787.6,696.7 1788.4,700.7 1789.3,703.3 1790.1,695.4 1791.0,692.6 1791.8,685.1 1792.7,689.5 1793.5,692.4 1794.4,686.2 1795.2,689.3 1796.1,690.2 1796.9,688.9 1797.8,681.7 1798.6,680.1 1799.5,677.4 1800.3,678.3 1801.2,676.6 1802.0,676.1 1802.9,671.1 1803.7,672.9 1804.6,668.1 1805.4,663.5 1806.3,664.6 1807.1,664.9 1808.0,666.5 1808.8,667.0 1809.7,663.5 1810.5,666.1 1811.4,667.9 1812.2,668.7 1813.1,671.1 1813.9,672.6 1814.8,663.5 1815.6,675.1 1816.5,676.2 1817.3,677.0 1818.2,676.3 1819.0,680.1 1819.9,679.3 1820.7,680.4 1821.6,682.7 1822.4,685.6 1823.3,683.4 1824.1,680.8 1825.0,685.3 1825.8,682.6 1826.7,691.8 1827.5,686.1 1828.4,685.2 1829.2,681.4 1830.1,672.0 1830.9,687.1 1831.8,679.2 1832.6,679.7 1833.5,683.5 1834.3,684.3 1835.2,687.5 1836.0,690.0 1836.9,693.0 1837.7,696.0 1838.6,684.1 1839.4,693.6 1840.3,693.5 1841.1,689.4 1842.0,700.9 1842.8,698.1 1843.7,696.4 1844.5,700.2 1845.4,701.9 1846.2,703.0 1847.1,702.2 1847.9,700.7 1848.8,702.0 1849.6,694.8 1850.5,706.0 1851.3,701.6 1852.2,706.3 1853.0,707.0 1853.9,705.9 1854.7,702.9 1855.6,702.8 1856.4,705.4 1857.3,701.5 1858.1,706.3 1859.0,708.9 1859.8,708.5 1860.7,709.5 1861.5,711.2 1862.4,705.0 1863.2,709.5 1864.1,716.0 1864.9,710.6 1865.8,706.7 1866.6,707.5 1867.5,711.5 1868.3,712.9 1869.2,716.7 1870.0,705.0 1870.9,711.4 1871.7,710.1 1872.6,709.2 1873.4,705.2 1874.3,711.8 1875.1,712.2 1876.0,707.5 1876.8,708.8 1877.7,705.8 1878.5,707.5 1879.4,706.7 1880.2,706.9 1881.1,710.1 1881.9,714.9 1882.8,701.8 1883.6,705.2 1884.5,707.8 1885.3,707.8 1886.2,698.9 1887.0,710.0 1887.9,705.9 1888.7,702.9 1889.6,706.8 1890.4,711.6 1891.3,708.1 1892.1,715.4 1893.0,701.2 1893.8,700.2 1894.7,705.3 1895.5,696.3 1896.4,706.7 1897.2,702.3 1898.1,700.2 1898.9,704.3 1899.8,704.9 1900.6,707.2 1901.5,705.9 1902.3,704.9 1903.2,702.0 1904.0,709.0 1904.9,703.9 1905.7,703.7 1906.6,701.4 1907.4,705.9 1908.3,702.7 1909.1,707.7 1910.0,704.7 1910.8,702.9 1911.7,701.4 1912.5,702.7 1913.4,702.1 1914.2,711.4 1915.1,699.4 1915.9,704.4 1916.8,701.4 1917.6,691.6 1918.5,698.6 1919.3,703.3 1920.2,702.0 1921.0,696.7 1921.9,700.8 1922.7,707.0 1923.6,702.7 1924.4,703.0 1925.3,703.3 1926.1,699.1 1927.0,702.9 1927.8,702.5 1928.7,698.4 1929.5,697.1 1930.4,696.5 1931.2,693.0 1932.1,698.3 1932.9,698.2 1933.8,693.5 1934.6,693.6 1935.5,691.5 1936.3,691.1 1937.2,688.5 1938.0,693.6 1938.9,691.2 1939.7,688.3 1940.6,688.0 1941.4,690.6 1942.3,692.1 1943.1,688.2 1944.0,686.9 1944.8,690.4 1945.7,694.1 1946.5,693.2 1947.4,693.5 1948.2,695.5 1949.1,692.7 1949.9,691.1 1950.8,696.5 1951.6,697.7 1952.5,695.3 1953.3,694.7 1954.2,692.7 1955.0,692.3 1955.9,694.9 1956.7,697.7 1957.6,696.5 1958.4,697.1 1959.3,696.0 1960.1,694.6 1961.0,693.8 1961.8,702.5 1962.7,695.7 1963.5,699.3 1964.4,698.6 1965.2,701.3 1966.1,697.2 1966.9,700.4 1967.8,691.6 1968.6,697.1 1969.5,698.2 1970.3,694.6 1971.2,695.2 1972.0,697.7 1972.9,699.5 1973.7,693.9 1974.6,697.2 1975.4,697.5 1976.3,698.8 1977.1,700.7 1978.0,701.2 1978.8,695.6 1979.7,703.3 1980.5,700.3 1981.4,694.3 1982.2,699.1 1983.1,704.2 1983.9,700.1 1984.8,699.9 1985.6,699.4 1986.5,697.8 1987.3,700.4 1988.2,698.8 1989.0,700.2 1989.9,700.2 1990.7,699.4 1991.6,699.1 1992.4,700.4 1993.3,698.0 1994.1,700.2 1995.0,692.8 1995.8,696.9 1996.7,697.7 1997.5,693.9 1998.4,693.5 1999.2,700.3 2000.1,701.5 2000.9,701.2 2001.8,698.9 2002.6,704.5 2003.5,697.9 2004.3,694.3 2005.2,699.7 2006.0,703.4 2006.9,696.3 2007.7,695.7 2008.6,701.4 2009.4,694.3 2010.3,696.2 2011.1,697.5 2012.0,695.1 2012.8,701.2 2013.7,701.7 2014.5,701.4 2015.4,699.9 2016.2,701.2 2017.1,696.8 2017.9,697.9 2018.8,696.2 2019.6,702.5 2020.5,699.0 2021.3,697.3 2022.2,700.7 2023.0,696.5 2023.9,705.3 2024.7,704.0 2025.6,700.6 2026.4,698.4 2027.3,698.5 2028.1,699.5 2029.0,705.1 2029.8,694.7 2030.7,698.5 2031.5,696.1 2032.4,704.6 2033.2,698.0 2034.1,699.3 2034.9,699.7 2035.8,694.6 2036.6,697.1 2037.5,700.3 2038.3,704.4 2039.2,698.9 2040.0,702.8 2040.9,701.2 2041.7,694.3 2042.6,703.6 2043.4,698.2 2044.3,699.2 2045.1,701.5 2046.0,697.9 2046.8,698.1 2047.7,698.0 2048.5,700.4 2049.4,694.0 2050.2,694.4 2051.1,699.4 2051.9,696.3 2052.8,704.2 2053.6,698.7 2054.5,701.4 2055.3,695.7 2056.2,699.8 2057.0,699.3 2057.9,698.4 2058.7,699.0 2059.6,699.3 2060.4,698.8 2061.3,696.6 2062.1,704.4 2063.0,699.5 2063.8,698.9 2064.7,695.1 2065.5,699.5 2066.4,695.1 2067.2,698.4 2068.1,699.6 2068.9,698.4 2069.8,700.4 2070.6,699.2 2071.5,700.7 2072.3,697.8 2073.2,696.6 2074.0,698.2 2074.9,701.4 2075.7,700.5 2076.6,696.8 2077.4,699.2 2078.3,700.8 2079.1,706.3 2080.0,701.4 2080.8,697.2 2081.7,699.7 2082.5,697.7 2083.4,696.1 2084.2,700.9 2085.1,702.0 2085.9,697.8 2086.8,700.8 2087.6,702.0 2088.5,701.6 2089.3,699.6" stroke="#4D4D4D"/>
<polyline points="307.7,450.3 308.6,451.7 309.4,457.5 310.3,467.5 311.1,447.1 312.0,449.3 312.8,461.5 313.7,458.7 314.5,481.7 315.4,458.5 316.2,457.7 317.1,470.7 317.9,473.6 318.8,459.4 319.6,457.3 320.5,461.6 321.3,469.2 322.2,469.8 323.0,470.1 323.9,460.6 324.7,472.3 325.6,471.7 326.4,482.7 327.3,476.3 328.1,485.0 329.0,461.8 329.8,482.4 330.7,483.4 331.5,481.4 332.4,482.4 333.2,481.6 334.1,473.0 334.9,478.8 335.8,486.9 336.6,483.6 337.5,485.9 338.3,493.4 339.2,493.2 340.0,500.1 340.9,495.0 341.7,493.6 342.6,478.8 343.4,488.8 344.3,499.9 345.1,490.4 346.0,500.2 346.8,490.0 347.7,508.1 348.5,512.7 349.4,502.4 350.2,504.7 351.1,490.2 351.9,487.0 352.8,514.7 353.6,511.6 354.5,505.3 355.3,511.3 356.2,511.0 357.0,533.4 357.9,518.0 358.7,519.8 359.6,511.3 360.4,527.3 361.3,518.0 362.1,509.2 363.0,519.8 363.8,529.9 364.7,520.8 365.5,525.1 366.4,544.3 367.2,537.5 368.1,529.5 368.9,522.6 369.8,503.2 370.6,527.5 371.5,515.1 372.3,528.5 373.2,520.4 374.0,507.6 374.9,521.9 375.7,520.3 376.6,508.7 377.4,517.4 378.3,508.3 379.1,511.6 380.0,497.2 380.8,502.8 381.7,491.5 382.5,481.8 383.4,487.1 384.2,503.5 385.1,456.9 385.9,458.2 386.8,445.4 387.6,440.5 388.5,446.8 389.3,450.8 390.2,459.4 391.0,471.9 391.9,476.5 392.7,497.0 393.6,486.5 394.4,498.4 395.3,493.1 396.1,503.3 397.0,505.1 397.8,506.6 398.7,506.3 399.5,502.4 400.4,495.9 401.2,525.9 402.1,520.1 402.9,511.2 403.8,529.1 404.6,521.4 405.5,528.4 406.3,535.6 407.2,530.9 408.0,537.5 408.9,558.5 409.7,546.9 410.6,554.9 411.4,546.5 412.3,561.3 413.1,553.9 414.0,570.3 414.8,558.5 415.7,566.8 416.5,593.2 417.4,575.1 418.2,578.4 419.1,572.7 419.9,582.6 420.8,582.7 421.6,577.6 422.5,581.7 423.3,581.6 424.2,571.0 425.0,584.5 425.9,575.1 426.7,581.8 427.6,571.0 428.4,573.7 429.3,587.2 430.1,596.1 431.0,575.8 431.8,600.7 432.7,603.1 433.5,594.9 434.4,596.9 435.2,600.2 436.1,604.0 436.9,606.9 437.8,590.1 438.6,593.7 439.5,599.5 440.3,599.1 441.2,602.2 442.0,606.5 442.9,607.1 443.7,595.0 444.6,594.8 445.4,612.2 446.3,615.3 447.1,616.3 448.0,626.6 448.8,599.8 449.7,613.8 450.5,623.3 451.4,603.3 452.2,611.4 453.1,621.2 453.9,613.5 454.8,620.0 455.6,620.5 456.5,611.8 457.3,620.4 458.2,604.3 459.0,623.8 459.9,608.0 460.7,628.7 461.6,614.1 462.4,623.1 463.3,624.5 464.1,625.2 465.0,623.1 465.8,627.0 466.7,628.7 467.5,628.8 468.4,621.8 469.2,630.7 470.1,625.3 470.9,628.3 471.8,638.3 472.6,634.8 473.5,632.1 474.3,630.5 475.2,629.7 476.0,632.8 476.9,627.4 477.7,650.6 478.6,632.9 479.4,634.6 480.3,630.1 481.1,644.1 482.0,640.0 482.8,642.3 483.7,637.3 484.5,651.2 485.4,628.7 486.2,638.6 487.1,638.1 487.9,643.9 488.8,650.2 489.6,639.5 490.5,646.2 491.3,643.4 492.2,643.3 493.0,643.8 493.9,636.8 494.7,642.6 495.6,661.0 496.4,649.0 497.3,643.9 498.1,639.2 499.0,646.0 499.8,635.2 500.7,651.6 501.5,643.8 502.4,648.7 503.2,645.2 504.1,647.1 504.9,655.4 505.8,667.6 506.6,648.5 507.5,654.2 508.3,657.0 509.2,652.9 510.0,650.3 510.9,657.9 511.7,654.9 512.6,659.1 513.4,670.0 514.3,675.7 515.1,665.5 516.0,657.3 516.8,656.2 517.7,659.3 518.5,662.0 519.4,662.3 520.2,660.9 521.1,660.1 521.9,660.5 522.8,659.3 523.6,663.4 524.5,673.2 525.3,664.4 526.2,664.7 527.0,669.2 527.9,671.0 528.7,664.0 529.6,670.0 530.4,664.4 531.3,675.8 532.1,662.0 533.0,670.7 533.8,669.4 534.7,678.0 535.5,670.8 536.4,672.5 537.2,668.8 538.1,674.8 538.9,665.6 539.8,668.2 540.6,667.6 541.5,675.1 542.3,675.1 543.2,670.2 544.0,662.2 544.9,682.0 545.7,662.9 546.6,659.3 547.4,655.7 548.3,678.7 549.1,672.1 550.0,670.1 550.8,676.2 551.7,674.7 552.5,689.3 553.4,684.6 554.2,674.1 555.1,675.7 555.9,680.9 556.8,668.5 557.6,677.5 558.5,675.8 559.3,673.8 560.2,676.3 561.0,684.4 561.9,670.7 562.7,681.0 563.6,671.8 564.4,679.4 565.3,681.4 566.1,684.9 567.0,680.0 567.8,685.6 568.7,683.1 569.5,679.4 570.4,680.0 571.2,678.3 572.1,681.3 572.9,675.2 573.8,695.9 574.6,681.1 575.5,687.2 576.3,681.2 577.2,688.5 578.0,693.7 578.9,675.3 579.7,693.3 580.6,686.6 581.4,691.0 582.3,694.5 583.1,698.8 584.0,684.5 584.8,692.1 585.7,704.7 586.5,693.2 587.4,694.5 588.2,710.4 589.1,675.9 589.9,699.3 590.8,685.3 591.6,687.9 592.5,702.4 593.3,699.5 594.2,696.8 595.0,700.0 595.9,695.1 596.7,695.2 597.6,692.7 598.4,702.0 599.3,693.1 600.1,701.5 601.0,700.2 601.8,696.2 602.7,698.2 603.5,695.2 604.4,706.2 605.2,712.1 606.1,703.1 606.9,700.5 607.8,690.2 608.6,714.6 609.5,714.5 610.3,697.4 611.2,700.9 612.0,713.4 612.9,694.2 613.7,697.8 614.6,711.7 615.4,712.8 616.3,701.1 617.1,702.0 618.0,706.3 618.8,711.8 619.7,705.1 620.5,716.0 621.4,709.7 622.2,694.6 623.1,703.8 623.9,704.8 624.8,710.9 625.6,704.0 626.5,695.7 627.3,695.1 628.2,699.0 629.0,698.3 629.9,708.2 630.7,696.2 631.6,693.5 632.4,709.0 633.3,707.6 634.1,711.5 635.0,710.8 635.8,712.9 636.7,699.4 637.5,701.7 638.4,703.8 639.2,710.0 640.1,703.4 640.9,706.6 641.8,704.7 642.6,706.5 643.5,703.4 644.3,706.8 645.2,701.1 646.0,699.2 646.9,707.1 647.7,712.1 648.6,709.1 649.4,710.1 650.3,704.6 651.1,714.5 652.0,708.6 652.8,707.2 653.7,709.4 654.5,708.1 655.4,701.3 656.2,709.3 657.1,710.9 657.9,713.2 658.8,712.8 659.6,714.4 660.5,709.0 661.3,708.2 662.2,699.3 663.0,704.5 663.9,697.0 664.7,702.8 665.6,703.1 666.4,702.4 667.3,684.9 668.1,706.6 669.0,695.0 669.8,692.8 670.7,689.1 671.5,688.7 672.4,694.2 673.2,681.4 674.1,672.9 674.9,681.3 675.8,665.3 676.6,661.5 677.5,663.0 678.3,655.5 679.2,651.9 680.0,639.6 680.9,636.8 681.7,630.1 682.6,621.0 683.4,596.8 684.3,585.3 685.1,576.0 686.0,541.5 686.8,523.5 687.7,514.2 688.5,502.0 689.4,489.2 690.2,492.7 691.1,500.9 691.9,505.5 692.8,519.2 693.6,532.9 694.5,549.2 695.3,573.7 696.2,580.1 697.0,588.7 697.9,612.4 698.7,632.8 699.6,622.0 700.4,635.3 701.3,643.0 702.1,654.1 703.0,658.5 703.8,659.6 704.7,670.1 705.5,681.1 706.4,652.0 707.2,671.1 708.1,686.5 708.9,680.0 709.8,691.8 710.6,687.9 711.5,694.5 712.3,717.8 713.2,701.3 714.0,704.1 714.9,708.2 715.7,710.8 716.6,709.6 717.4,700.6 718.3,721.3 719.1,708.8 720.0,718.4 720.8,713.1 721.7,704.0 722.5,722.9 723.4,717.5 724.2,713.8 725.1,714.1 725.9,711.2 726.8,729.0 727.6,727.7 728.5,722.6 729.3,729.2 730.2,724.9 731.0,718.6 731.9,730.9 732.7,717.7 733.6,720.4 734.4,723.2 735.3,719.4 736.1,720.9 737.0,721.8 737.8,734.6 738.7,726.5 739.5,721.6 740.4,730.6 741.2,754.1 742.1,723.8 742.9,729.7 743.8,734.4 744.6,729.8 745.5,725.6 746.3,729.6 747.2,739.2 748.0,723.0 748.9,727.4 749.7,727.3 750.6,724.8 751.4,722.5 752.3,725.3 753.1,721.4 754.0,738.9 754.8,733.7 755.7,725.5 756.5,723.9 757.4,743.0 758.2,740.4 759.1,735.5 759.9,724.4 760.8,723.2 761.6,735.0 762.5,726.3 763.3,717.7 764.2,708.9 765.0,735.3 765.9,731.6 766.7,726.3 767.6,721.3 768.4,730.8 769.3,724.1 770.1,726.6 771.0,738.1 771.8,729.8 772.7,726.6 773.5,718.7 774.4,732.7 775.2,727.4 776.1,724.7 776.9,727.7 777.8,717.6 778.6,721.6 779.5,725.2 780.3,715.8 781.2,725.3 782.0,716.6 782.9,721.6 783.7,721.1 784.6,722.6 785.4,718.0 786.3,718.9 787.1,717.3 788.0,717.2 788.8,714.2 789.7,709.4 790.5,709.9 791.4,696.8 792.2,697.5 793.1,687.7 793.9,698.2 794.8,694.9 795.6,692.2 796.5,692.2 797.3,688.7 798.2,684.9 799.0,677.0 799.9,668.4 800.7,658.5 801.6,654.7 802.4,645.2 803.3,639.4 804.1,626.6 805.0,618.2 805.8,609.0 806.7,602.6 807.5,597.9 808.4,586.4 809.2,592.9 810.1,562.5 810.9,555.7 811.8,539.0 812.6,536.1 813.5,505.0 814.3,501.3 815.2,473.7 816.0,444.1 816.9,424.8 817.7,382.9 818.6,337.3 819.4,293.1 820.3,238.7 821.1,178.4 822.0,104.0 822.8,27.3 823.7,-51.3 824.5,-131.8 825.4,-197.4 826.2,-240.7 827.1,-245.1 827.9,-227.2 828.8,-174.7 829.6,-111.0 830.5,-22.5 831.3,37.4 832.2,128.5 833.0,191.4 833.9,253.7 834.7,313.6 835.6,358.4 836.4,390.3 837.3,432.3 838.1,460.9 839.0,487.3 839.8,510.8 840.7,529.8 841.5,541.7 842.4,558.2 843.2,568.3 844.1,576.9 844.9,593.1 845.8,609.1 846.6,609.3 847.5,623.4 848.3,613.0 849.2,627.0 850.0,635.3 850.9,652.7 851.7,651.0 852.6,664.2 853.4,674.5 854.3,682.6 855.1,690.9 856.0,695.3 856.8,686.2 857.7,701.7 858.5,703.6 859.4,700.1 860.2,691.6 861.1,694.9 861.9,689.0 862.8,696.3 863.6,691.9 864.5,691.7 865.3,695.4 866.2,690.1 867.0,704.1 867.9,697.9 868.7,691.7 869.6,694.0 870.4,701.5 871.3,706.7 872.1,708.1 873.0,714.4 873.8,713.4 874.7,725.5 875.5,721.5 876.4,725.6 877.2,733.5 878.1,735.3 878.9,739.4 879.8,752.4 880.6,746.6 881.5,744.2 882.3,750.6 883.2,744.1 884.0,742.2 884.9,742.5 885.7,741.9 886.6,751.3 887.4,754.0 888.3,750.3 889.1,758.5 890.0,754.5 890.8,753.5 891.7,755.4 892.5,755.6 893.4,759.1 894.2,751.9 895.1,764.5 895.9,770.9 896.8,760.5 897.6,759.8 898.5,760.9 899.3,774.5 900.2,759.7 901.0,770.3 901.9,768.8 902.7,756.1 903.6,767.7 904.4,791.9 905.3,765.2 906.1,773.5 907.0,765.9 907.8,773.4 908.7,772.0 909.5,772.5 910.4,774.3 911.2,766.0 912.1,774.7 912.9,773.1 913.8,776.6 914.6,774.4 915.5,774.8 916.3,777.1 917.2,766.8 918.0,776.6 918.9,770.1 919.7,770.2 920.6,775.5 921.4,773.6 922.3,776.3 923.1,774.7 924.0,785.3 924.8,780.4 925.7,782.6 926.5,782.3 927.4,787.9 928.2,778.2 929.1,776.3 929.9,782.5 930.8,780.2 931.6,783.3 932.5,781.7 933.3,779.8 934.2,775.2 935.0,785.3 935.9,781.6 936.7,787.8 937.6,784.4 938.4,785.5 939.3,785.2 940.1,783.6 941.0,780.6 941.8,785.8 942.7,782.5 943.5,782.2 944.4,786.6 945.2,785.3 946.1,781.7 946.9,784.3 947.8,780.7 948.6,782.2 949.5,784.2 950.3,787.5 951.2,782.9 952.0,781.9 952.9,787.2 953.7,787.1 954.6,781.0 955.4,792.9 956.3,786.4 957.1,782.5 958.0,780.2 958.8,784.9 959.7,789.5 960.5,790.5 961.4,786.1 962.2,772.4 963.1,783.6 963.9,776.3 964.8,790.2 965.6,786.7 966.5,783.8 967.3,783.5 968.2,785.5 969.0,789.9 969.9,788.6 970.7,789.4 971.6,787.7 972.4,787.1 973.3,783.9 974.1,785.4 975.0,789.6 975.8,787.0 976.7,784.8 977.5,789.6 978.4,787.9 979.2,788.3 980.1,791.2 980.9,786.2 981.8,788.8 982.6,781.6 983.5,780.6 984.3,782.8 985.2,783.5 986.0,783.1 986.9,781.5 987.7,783.0 988.6,788.4 989.4,775.2 990.3,780.8 991.1,775.1 992.0,775.8 992.8,774.2 993.7,769.2 994.5,774.6 995.4,781.5 996.2,774.9 997.1,769.7 997.9,771.9 998.8,770.2 999.6,763.4 1000.5,763.8 1001.3,758.5 1002.2,756.2 1003.0,750.4 1003.9,746.2 1004.7,746.0 1005.6,741.7 1006.4,737.3 1007.3,729.1 1008.1,720.1 1009.0,721.0 1009.8,722.6 1010.7,707.2 1011.5,710.9 1012.4,709.3 1013.2,704.6 1014.1,692.2 1014.9,677.5 1015.8,675.3 1016.6,654.2 1017.5,639.0 1018.3,623.6 1019.2,619.1 1020.0,607.5 1020.9,597.5 1021.7,598.3 1022.6,592.8 1023.4,595.9 1024.3,600.8 1025.1,620.2 1026.0,636.4 1026.8,648.1 1027.7,658.7 1028.5,673.9 1029.4,688.1 1030.2,694.9 1031.1,698.1 1031.9,707.2 1032.8,715.0 1033.6,721.7 1034.5,722.8 1035.3,726.5 1036.2,729.5 1037.0,737.4 1037.9,744.7 1038.7,745.4 1039.6,751.0 1040.4,755.0 1041.3,751.7 1042.1,763.4 1043.0,758.5 1043.8,767.2 1044.7,770.8 1045.5,779.0 1046.4,783.9 1047.2,779.5 1048.1,787.4 1048.9,784.8 1049.8,787.2 1050.6,786.9 1051.5,787.7 1052.3,788.9 1053.2,788.5 1054.0,787.3 1054.9,784.7 1055.7,776.2 1056.6,789.7 1057.4,785.1 1058.3,796.1 1059.1,789.6 1060.0,793.5 1060.8,793.9 1061.7,789.2 1062.5,796.3 1063.4,790.8 1064.2,796.1 1065.1,797.5 1065.9,792.7 1066.8,794.0 1067.6,792.9 1068.5,798.1 1069.3,799.9 1070.2,807.8 1071.0,796.2 1071.9,798.2 1072.7,795.3 1073.6,799.8 1074.4,801.8 1075.3,797.7 1076.1,795.2 1077.0,800.6 1077.8,793.5 1078.7,800.9 1079.5,805.6 1080.4,797.0 1081.2,806.6 1082.1,805.7 1082.9,800.1 1083.8,803.5 1084.6,791.4 1085.5,793.7 1086.3,798.4 1087.2,802.4 1088.0,801.1 1088.9,797.3 1089.7,801.0 1090.6,798.0 1091.4,804.5 1092.3,804.5 1093.1,791.5 1094.0,798.9 1094.8,810.3 1095.7,803.5 1096.5,806.1 1097.4,786.9 1098.2,801.9 1099.1,793.7 1099.9,795.7 1100.8,798.3 1101.6,799.8 1102.5,799.9 1103.3,797.0 1104.2,798.6 1105.0,799.1 1105.9,804.5 1106.7,808.6 1107.6,799.9 1108.4,802.0 1109.3,799.3 1110.1,799.6 1111.0,801.2 1111.8,804.2 1112.7,800.5 1113.5,804.9 1114.4,805.1 1115.2,803.1 1116.1,798.0 1116.9,794.8 1117.8,796.8 1118.6,799.7 1119.5,798.9 1120.3,796.3 1121.2,802.1 1122.0,815.6 1122.9,803.0 1123.7,803.2 1124.6,807.0 1125.4,803.7 1126.3,801.9 1127.1,798.8 1128.0,786.4 1128.8,796.1 1129.7,805.1 1130.5,799.6 1131.4,799.8 1132.2,798.1 1133.1,797.6 1133.9,804.2 1134.8,799.6 1135.6,797.8 1136.5,799.2 1137.3,795.5 1138.2,794.5 1139.0,800.4 1139.9,803.2 1140.7,796.0 1141.6,799.7 1142.4,799.8 1143.3,791.2 1144.1,799.4 1145.0,808.8 1145.8,796.1 1146.7,798.9 1147.5,812.9 1148.4,804.7 1149.2,798.2 1150.1,806.1 1150.9,796.2 1151.8,801.4 1152.6,800.3 1153.5,801.5 1154.3,802.6 1155.2,802.6 1156.0,806.6 1156.9,803.4 1157.7,803.5 1158.6,802.9 1159.4,803.1 1160.3,801.6 1161.1,808.5 1162.0,801.8 1162.8,801.3 1163.7,804.6 1164.5,789.8 1165.4,803.6 1166.2,805.6 1167.1,809.3 1167.9,803.6 1168.8,803.4 1169.6,809.6 1170.5,805.5 1171.3,800.1 1172.2,795.7 1173.0,802.2 1173.9,809.7 1174.7,799.1 1175.6,802.7 1176.4,804.9 1177.3,796.6 1178.1,806.2 1179.0,799.9 1179.8,803.2 1180.7,807.8 1181.5,805.7 1182.4,804.2 1183.2,801.1 1184.1,801.0 1184.9,799.0 1185.8,802.1 1186.6,794.6 1187.5,796.7 1188.3,798.9 1189.2,802.8 1190.0,799.9 1190.9,799.4 1191.7,796.8 1192.6,793.3 1193.4,799.6 1194.3,806.7 1195.1,804.8 1196.0,799.3 1196.8,801.6 1197.7,801.3 1198.5,794.5 1199.4,799.9 1200.2,798.4 1201.1,806.1 1201.9,799.8 1202.8,798.5 1203.6,796.7 1204.5,797.4 1205.3,793.2 1206.2,800.0 1207.0,794.6 1207.9,799.5 1208.7,799.4 1209.6,803.4 1210.4,797.6 1211.3,796.0 1212.1,795.7 1213.0,803.0 1213.8,804.3 1214.7,798.1 1215.5,800.4 1216.4,792.6 1217.2,793.8 1218.1,795.4 1218.9,793.4 1219.8,799.0 1220.6,795.5 1221.5,791.4 1222.3,803.6 1223.2,796.7 1224.0,787.6 1224.9,797.6 1225.7,797.3 1226.6,802.9 1227.4,795.0 1228.3,799.0 1229.1,799.4 1230.0,788.0 1230.8,793.7 1231.7,791.5 1232.5,796.5 1233.4,795.3 1234.2,798.1 1235.1,801.2 1235.9,796.5 1236.8,799.1 1237.6,800.3 1238.5,796.9 1239.3,792.9 1240.2,796.0 1241.0,793.5 1241.9,795.9 1242.7,785.1 1243.6,793.4 1244.4,797.9 1245.3,790.3 1246.1,792.3 1247.0,782.9 1247.8,792.0 1248.7,789.6 1249.5,792.4 1250.4,799.2 1251.2,788.8 1252.1,793.5 1252.9,784.0 1253.8,787.1 1254.6,782.7 1255.5,782.5 1256.3,784.9 1257.2,786.5 1258.0,788.9 1258.9,776.4 1259.7,778.9 1260.6,778.5 1261.4,768.7 1262.3,777.5 1263.1,773.5 1264.0,769.7 1264.8,771.1 1265.7,771.2 1266.5,770.2 1267.4,782.8 1268.2,766.2 1269.1,764.6 1269.9,755.0 1270.8,770.1 1271.6,761.2 1272.5,765.7 1273.3,761.9 1274.2,756.7 1275.0,755.8 1275.9,753.9 1276.7,752.8 1277.6,753.3 1278.4,742.7 1279.3,738.8 1280.1,743.8 1281.0,722.3 1281.8,725.4 1282.7,729.2 1283.5,722.3 1284.4,722.3 1285.2,724.7 1286.1,723.0 1286.9,730.3 1287.8,738.0 1288.6,729.0 1289.5,735.5 1290.3,738.5 1291.2,746.3 1292.0,749.7 1292.9,751.6 1293.7,752.4 1294.6,755.0 1295.4,759.0 1296.3,757.2 1297.1,753.1 1298.0,760.1 1298.8,760.0 1299.7,762.1 1300.5,772.2 1301.4,774.1 1302.2,768.7 1303.1,769.0 1303.9,771.3 1304.8,769.6 1305.6,768.4 1306.5,773.8 1307.3,777.4 1308.2,776.0 1309.0,778.8 1309.9,784.8 1310.7,779.5 1311.6,779.6 1312.4,785.3 1313.3,788.4 1314.1,791.4 1315.0,787.7 1315.8,791.0 1316.7,790.5 1317.5,801.4 1318.4,785.3 1319.2,799.4 1320.1,789.7 1320.9,793.1 1321.8,790.1 1322.6,788.3 1323.5,788.6 1324.3,787.7 1325.2,785.3 1326.0,792.9 1326.9,788.3 1327.7,786.4 1328.6,784.8 1329.4,782.2 1330.3,784.9 1331.1,789.8 1332.0,784.7 1332.8,787.9 1333.7,786.9 1334.5,787.1 1335.4,791.2 1336.2,782.0 1337.1,780.6 1337.9,780.2 1338.8,780.8 1339.6,784.4 1340.5,774.4 1341.3,782.0 1342.2,774.4 1343.0,781.6 1343.9,773.4 1344.7,774.8 1345.6,779.0 1346.4,780.6 1347.3,775.6 1348.1,775.5 1349.0,779.4 1349.8,772.9 1350.7,765.8 1351.5,774.9 1352.4,758.0 1353.2,762.9 1354.1,758.8 1354.9,764.3 1355.8,763.0 1356.6,752.4 1357.5,758.8 1358.3,747.2 1359.2,740.0 1360.0,743.1 1360.9,731.9 1361.7,732.7 1362.6,719.4 1363.4,714.8 1364.3,709.3 1365.1,694.3 1366.0,696.4 1366.8,666.5 1367.7,658.8 1368.5,636.9 1369.4,627.0 1370.2,602.7 1371.1,578.9 1371.9,566.4 1372.8,555.9 1373.6,551.5 1374.5,552.6 1375.3,558.7 1376.2,569.4 1377.0,588.6 1377.9,614.8 1378.7,606.9 1379.6,620.6 1380.4,635.9 1381.3,642.1 1382.1,649.5 1383.0,660.3 1383.8,664.4 1384.7,664.9 1385.5,676.4 1386.4,677.2 1387.2,688.9 1388.1,684.8 1388.9,698.1 1389.8,698.9 1390.6,696.3 1391.5,711.0 1392.3,711.5 1393.2,719.9 1394.0,727.7 1394.9,730.0 1395.7,744.3 1396.6,748.3 1397.4,754.4 1398.3,755.1 1399.1,767.3 1400.0,770.3 1400.8,778.4 1401.7,783.1 1402.5,786.3 1403.4,784.5 1404.2,786.1 1405.1,785.6 1405.9,787.0 1406.8,781.9 1407.6,785.5 1408.5,790.6 1409.3,789.7 1410.2,777.3 1411.0,792.9 1411.9,795.4 1412.7,787.9 1413.6,792.9 1414.4,798.6 1415.3,797.7 1416.1,788.5 1417.0,799.7 1417.8,792.9 1418.7,793.6 1419.5,804.8 1420.4,797.0 1421.2,795.8 1422.1,797.9 1422.9,793.3 1423.8,796.4 1424.6,795.0 1425.5,800.5 1426.3,796.7 1427.2,800.5 1428.0,794.3 1428.9,802.4 1429.7,797.2 1430.6,797.6 1431.4,812.8 1432.3,794.2 1433.1,796.5 1434.0,797.1 1434.8,786.3 1435.7,793.5 1436.5,792.5 1437.4,795.2 1438.2,803.9 1439.1,792.6 1439.9,794.5 1440.8,803.2 1441.6,803.4 1442.5,805.7 1443.3,800.1 1444.2,797.8 1445.0,800.0 1445.9,797.5 1446.7,795.0 1447.6,794.8 1448.4,791.2 1449.3,796.7 1450.1,792.7 1451.0,792.5 1451.8,798.8 1452.7,798.4 1453.5,794.2 1454.4,794.0 1455.2,789.9 1456.1,795.7 1456.9,797.5 1457.8,791.7 1458.6,790.1 1459.5,795.9 1460.3,790.2 1461.2,788.9 1462.0,801.2 1462.9,798.1 1463.7,783.2 1464.6,790.3 1465.4,794.8 1466.3,787.1 1467.1,792.1 1468.0,781.4 1468.8,789.8 1469.7,791.1 1470.5,795.7 1471.4,789.5 1472.2,791.6 1473.1,789.7 1473.9,790.6 1474.8,789.3 1475.6,790.6 1476.5,791.4 1477.3,790.6 1478.2,783.2 1479.0,781.9 1479.9,797.5 1480.7,782.1 1481.6,789.1 1482.4,781.1 1483.3,785.0 1484.1,781.0 1485.0,777.0 1485.8,778.8 1486.7,778.2 1487.5,784.5 1488.4,772.0 1489.2,782.1 1490.1,766.4 1490.9,776.7 1491.8,769.1 1492.6,768.7 1493.5,756.0 1494.3,764.5 1495.2,758.7 1496.0,757.6 1496.9,756.9 1497.7,755.4 1498.6,750.0 1499.4,739.0 1500.3,735.9 1501.1,729.3 1502.0,718.5 1502.8,715.6 1503.7,705.3 1504.5,693.9 1505.4,679.8 1506.2,667.9 1507.1,649.1 1507.9,639.7 1508.8,613.6 1509.6,590.1 1510.5,560.8 1511.3,536.5 1512.2,503.0 1513.0,488.7 1513.9,469.7 1514.7,461.9 1515.6,475.4 1516.4,473.0 1517.3,487.6 1518.1,513.9 1519.0,551.1 1519.8,565.5 1520.7,591.9 1521.5,624.9 1522.4,638.5 1523.2,650.5 1524.1,669.0 1524.9,686.3 1525.8,698.7 1526.6,707.6 1527.5,718.3 1528.3,715.3 1529.2,732.2 1530.0,732.1 1530.9,729.9 1531.7,742.1 1532.6,748.0 1533.4,744.4 1534.3,751.9 1535.1,755.0 1536.0,757.6 1536.8,763.0 1537.7,760.7 1538.5,775.8 1539.4,760.0 1540.2,774.1 1541.1,779.2 1541.9,776.3 1542.8,778.1 1543.6,777.7 1544.5,790.6 1545.3,791.1 1546.2,788.8 1547.0,793.2 1547.9,791.9 1548.7,791.3 1549.6,794.6 1550.4,796.0 1551.3,796.8 1552.1,801.4 1553.0,796.2 1553.8,800.2 1554.7,800.1 1555.5,805.2 1556.4,803.9 1557.2,813.6 1558.1,808.7 1558.9,809.9 1559.8,808.5 1560.6,809.8 1561.5,804.7 1562.3,810.4 1563.2,817.5 1564.0,806.3 1564.9,810.0 1565.7,815.1 1566.6,811.8 1567.4,811.0 1568.3,817.3 1569.1,814.4 1570.0,813.3 1570.8,814.2 1571.7,812.5 1572.5,812.7 1573.4,818.9 1574.2,809.5 1575.1,815.0 1575.9,804.4 1576.8,819.9 1577.6,812.2 1578.5,808.7 1579.3,817.5 1580.2,812.4 1581.0,815.6 1581.9,803.0 1582.7,808.9 1583.6,812.6 1584.4,809.8 1585.3,814.6 1586.1,810.1 1587.0,811.8 1587.8,801.6 1588.7,807.2 1589.5,806.5 1590.4,813.3 1591.2,811.9 1592.1,814.8 1592.9,813.5 1593.8,823.1 1594.6,818.1 1595.5,817.4 1596.3,818.7 1597.2,812.7 1598.0,817.1 1598.9,815.5 1599.7,816.0 1600.6,821.5 1601.4,814.1 1602.3,809.4 1603.1,823.7 1604.0,818.3 1604.8,814.5 1605.7,817.3 1606.5,813.0 1607.4,815.5 1608.2,821.6 1609.1,823.1 1609.9,817.7 1610.8,826.5 1611.6,817.8 1612.5,817.6 1613.3,814.2 1614.2,816.9 1615.0,814.1 1615.9,820.7 1616.7,808.1 1617.6,820.4 1618.4,818.2 1619.3,810.4 1620.1,816.5 1621.0,815.3 1621.8,814.6 1622.7,821.1 1623.5,819.4 1624.4,816.7 1625.2,818.2 1626.1,820.5 1626.9,818.9 1627.8,819.7 1628.6,827.0 1629.5,815.5 1630.3,820.7 1631.2,826.0 1632.0,816.8 1632.9,823.9 1633.7,822.0 1634.6,810.0 1635.4,819.8 1636.3,822.2 1637.1,815.8 1638.0,818.2 1638.8,821.0 1639.7,815.0 1640.5,821.4 1641.4,819.8 1642.2,815.3 1643.1,822.1 1643.9,818.6 1644.8,815.3 1645.6,816.0 1646.5,820.0 1647.3,820.0 1648.2,822.5 1649.0,815.3 1649.9,822.7 1650.7,815.2 1651.6,820.6 1652.4,817.3 1653.3,816.3 1654.1,819.4 1655.0,816.2 1655.8,821.9 1656.7,820.4 1657.5,821.6 1658.4,815.5 1659.2,820.9 1660.1,820.4 1660.9,817.7 1661.8,817.5 1662.6,814.9 1663.5,820.1 1664.3,813.0 1665.2,812.9 1666.0,821.5 1666.9,812.1 1667.7,811.6 1668.6,820.0 1669.4,816.7 1670.3,815.7 1671.1,813.7 1672.0,816.6 1672.8,813.4 1673.7,813.9 1674.5,819.1 1675.4,813.2 1676.2,813.1 1677.1,812.1 1677.9,820.5 1678.8,806.8 1679.6,816.8 1680.5,819.4 1681.3,817.2 1682.2,814.5 1683.0,812.8 1683.9,807.3 1684.7,815.6 1685.6,814.1 1686.4,816.5 1687.3,805.4 1688.1,816.1 1689.0,805.3 1689.8,819.2 1690.7,813.7 1691.5,808.9 1692.4,809.5 1693.2,811.9 1694.1,812.6 1694.9,812.6 1695.8,808.4 1696.6,818.7 1697.5,816.5 1698.3,809.1 1699.2,814.0 1700.0,801.8 1700.9,807.1 1701.7,813.0 1702.6,811.0 1703.4,811.1 1704.3,818.1 1705.1,806.3 1706.0,808.9 1706.8,808.1 1707.7,810.0 1708.5,803.7 1709.4,812.3 1710.2,807.9 1711.1,805.7 1711.9,805.9 1712.8,805.6 1713.6,805.7 1714.5,800.7 1715.3,807.4 1716.2,799.8 1717.0,803.2 1717.9,795.0 1718.7,801.0 1719.6,804.0 1720.4,799.5 1721.3,797.9 1722.1,799.3 1723.0,794.5 1723.8,792.9 1724.7,790.4 1725.5,793.9 1726.4,794.5 1727.2,786.0 1728.1,788.7 1728.9,793.6 1729.8,785.9 1730.6,792.4 1731.5,789.0 1732.3,792.8 1733.2,790.0 1734.0,800.7 1734.9,798.6 1735.7,790.9 1736.6,803.5 1737.4,794.7 1738.3,797.5 1739.1,800.2 1740.0,802.3 1740.8,807.5 1741.7,805.9 1742.5,811.4 1743.4,810.0 1744.2,811.1 1745.1,807.9 1745.9,802.3 1746.8,810.8 1747.6,818.7 1748.5,809.2 1749.3,816.2 1750.2,813.5 1751.0,812.2 1751.9,813.0 1752.7,813.1 1753.6,809.1 1754.4,817.9 1755.3,808.4 1756.1,811.6 1757.0,817.0 1757.8,813.9 1758.7,813.8 1759.5,809.0 1760.4,813.8 1761.2,819.7 1762.1,822.8 1762.9,820.8 1763.8,818.8 1764.6,819.3 1765.5,819.0 1766.3,820.6 1767.2,817.8 1768.0,807.5 1768.9,821.8 1769.7,813.8 1770.6,821.6 1771.4,821.7 1772.3,812.0 1773.1,823.3 1774.0,814.1 1774.8,816.5 1775.7,815.2 1776.5,807.5 1777.4,814.8 1778.2,807.5 1779.1,817.5 1779.9,815.6 1780.8,815.8 1781.6,813.7 1782.5,814.5 1783.3,818.1 1784.2,807.1 1785.0,812.2 1785.9,814.7 1786.7,814.0 1787.6,812.6 1788.4,814.2 1789.3,786.9 1790.1,807.3 1791.0,808.9 1791.8,808.4 1792.7,804.1 1793.5,802.4 1794.4,798.3 1795.2,800.3 1796.1,799.1 1796.9,792.7 1797.8,789.4 1798.6,796.5 1799.5,787.2 1800.3,785.6 1801.2,779.9 1802.0,776.0 1802.9,776.6 1803.7,772.4 1804.6,766.4 1805.4,770.3 1806.3,764.5 1807.1,766.2 1808.0,765.8 1808.8,764.1 1809.7,766.2 1810.5,771.1 1811.4,774.4 1812.2,773.6 1813.1,778.8 1813.9,783.7 1814.8,780.0 1815.6,783.5 1816.5,781.8 1817.3,786.2 1818.2,792.3 1819.0,787.9 1819.9,796.1 1820.7,796.8 1821.6,792.3 1822.4,793.3 1823.3,799.0 1824.1,794.9 1825.0,787.2 1825.8,793.6 1826.7,791.9 1827.5,789.5 1828.4,796.0 1829.2,800.6 1830.1,792.0 1830.9,790.3 1831.8,793.0 1832.6,789.1 1833.5,789.2 1834.3,788.7 1835.2,793.5 1836.0,795.3 1836.9,792.1 1837.7,796.1 1838.6,801.7 1839.4,800.7 1840.3,806.1 1841.1,800.3 1842.0,808.4 1842.8,800.5 1843.7,809.5 1844.5,816.4 1845.4,816.1 1846.2,810.2 1847.1,811.3 1847.9,819.0 1848.8,807.8 1849.6,811.3 1850.5,821.2 1851.3,815.4 1852.2,819.0 1853.0,818.6 1853.9,825.1 1854.7,814.9 1855.6,817.6 1856.4,822.2 1857.3,821.1 1858.1,821.1 1859.0,823.8 1859.8,822.6 1860.7,826.0 1861.5,823.4 1862.4,818.3 1863.2,821.8 1864.1,831.1 1864.9,827.9 1865.8,824.1 1866.6,826.2 1867.5,830.6 1868.3,839.5 1869.2,833.9 1870.0,831.4 1870.9,826.7 1871.7,824.4 1872.6,822.1 1873.4,826.5 1874.3,823.7 1875.1,821.8 1876.0,826.8 1876.8,827.4 1877.7,823.5 1878.5,823.7 1879.4,834.2 1880.2,831.5 1881.1,823.9 1881.9,824.0 1882.8,826.9 1883.6,829.7 1884.5,826.8 1885.3,825.2 1886.2,829.4 1887.0,826.2 1887.9,823.3 1888.7,823.8 1889.6,821.5 1890.4,827.4 1891.3,831.1 1892.1,826.7 1893.0,827.0 1893.8,828.8 1894.7,827.1 1895.5,825.1 1896.4,833.2 1897.2,836.7 1898.1,828.3 1898.9,826.8 1899.8,824.1 1900.6,833.4 1901.5,822.2 1902.3,823.1 1903.2,824.0 1904.0,821.4 1904.9,826.4 1905.7,834.4 1906.6,823.9 1907.4,824.7 1908.3,823.4 1909.1,828.1 1910.0,825.7 1910.8,826.1 1911.7,823.6 1912.5,826.1 1913.4,826.0 1914.2,825.9 1915.1,829.2 1915.9,822.2 1916.8,819.4 1917.6,819.8 1918.5,828.8 1919.3,823.2 1920.2,822.4 1921.0,818.6 1921.9,822.2 1922.7,822.8 1923.6,820.2 1924.4,821.7 1925.3,817.3 1926.1,819.2 1927.0,819.8 1927.8,820.6 1928.7,811.0 1929.5,815.1 1930.4,810.5 1931.2,814.1 1932.1,812.9 1932.9,812.2 1933.8,814.4 1934.6,818.2 1935.5,811.5 1936.3,817.6 1937.2,814.9 1938.0,821.7 1938.9,819.0 1939.7,824.2 1940.6,821.3 1941.4,827.2 1942.3,820.8 1943.1,828.3 1944.0,827.6 1944.8,836.9 1945.7,826.7 1946.5,832.5 1947.4,830.0 1948.2,836.9 1949.1,834.0 1949.9,836.1 1950.8,836.8 1951.6,817.5 1952.5,838.6 1953.3,836.3 1954.2,829.5 1955.0,836.7 1955.9,855.7 1956.7,839.0 1957.6,831.1 1958.4,827.0 1959.3,833.3 1960.1,832.2 1961.0,836.7 1961.8,824.9 1962.7,834.8 1963.5,832.6 1964.4,836.6 1965.2,831.4 1966.1,821.6 1966.9,836.2 1967.8,830.9 1968.6,829.1 1969.5,834.2 1970.3,838.0 1971.2,834.1 1972.0,830.1 1972.9,830.4 1973.7,830.8 1974.6,834.1 1975.4,831.9 1976.3,820.0 1977.1,828.4 1978.0,820.9 1978.8,823.7 1979.7,821.5 1980.5,826.7 1981.4,829.7 1982.2,829.2 1983.1,830.4 1983.9,827.1 1984.8,821.5 1985.6,827.3 1986.5,825.5 1987.3,824.9 1988.2,825.0 1989.0,826.9 1989.9,829.7 1990.7,822.8 1991.6,822.1 1992.4,821.5 1993.3,819.1 1994.1,829.2 1995.0,824.2 1995.8,830.1 1996.7,822.2 1997.5,831.0 1998.4,827.4 1999.2,825.2 2000.1,820.7 2000.9,825.9 2001.8,831.3 2002.6,820.5 2003.5,821.3 2004.3,829.6 2005.2,832.7 2006.0,828.0 2006.9,810.2 2007.7,822.9 2008.6,826.7 2009.4,829.8 2010.3,824.1 2011.1,825.1 2012.0,826.4 2012.8,817.4 2013.7,821.8 2014.5,823.3 2015.4,824.7 2016.2,826.7 2017.1,825.8 2017.9,822.3 2018.8,822.4 2019.6,822.0 2020.5,826.5 2021.3,823.7 2022.2,827.8 2023.0,827.9 2023.9,817.9 2024.7,818.3 2025.6,826.6 2026.4,823.8 2027.3,838.0 2028.1,818.8 2029.0,821.9 2029.8,824.9 2030.7,824.2 2031.5,820.6 2032.4,826.1 2033.2,821.0 2034.1,824.4 2034.9,822.0 2035.8,823.2 2036.6,825.2 2037.5,826.7 2038.3,823.5 2039.2,838.5 2040.0,821.2 2040.9,829.7 2041.7,823.7 2042.6,814.0 2043.4,824.7 2044.3,824.9 2045.1,825.0 2046.0,831.8 2046.8,824.6 2047.7,833.4 2048.5,827.4 2049.4,820.6 2050.2,824.8 2051.1,817.6 2051.9,827.0 2052.8,828.9 2053.6,824.3 2054.5,824.7 2055.3,829.1 2056.2,825.2 2057.0,827.2 2057.9,827.6 2058.7,826.3 2059.6,829.7 2060.4,827.2 2061.3,823.9 2062.1,829.6 2063.0,828.6 2063.8,828.8 2064.7,828.9 2065.5,826.2 2066.4,821.4 2067.2,825.3 2068.1,824.7 2068.9,827.9 2069.8,823.6 2070.6,827.2 2071.5,827.8 2072.3,822.6 2073.2,825.8 2074.0,830.8 2074.9,825.7 2075.7,817.4 2076.6,828.7 2077.4,822.6 2078.3,823.7 2079.1,828.6 2080.0,820.3 2080.8,824.3 2081.7,824.7 2082.5,814.8 2083.4,825.7 2084.2,827.2 2085.1,821.1 2085.9,830.4 2086.8,825.7 2087.6,825.0 2088.5,822.1 2089.3,833.4" stroke="#FF3A3A"/>
<polyline points="307.7,559.6 308.6,552.9 309.4,563.6 310.3,559.3 311.1,547.5 312.0,547.8 312.8,563.9 313.7,556.9 314.5,589.7 315.4,562.1 316.2,557.2 317.1,567.3 317.9,568.2 318.8,553.3 319.6,561.2 320.5,564.6 321.3,563.2 322.2,571.9 323.0,561.7 323.9,571.4 324.7,564.4 325.6,570.6 326.4,573.8 327.3,570.1 328.1,568.8 329.0,577.5 329.8,579.1 330.7,577.5 331.5,583.2 332.4,567.8 333.2,577.1 334.1,578.0 334.9,575.4 335.8,574.6 336.6,588.3 337.5,579.7 338.3,579.6 339.2,578.4 340.0,577.2 340.9,580.7 341.7,585.9 342.6,592.1 343.4,592.0 344.3,579.3 345.1,589.4 346.0,588.1 346.8,592.2 347.7,602.2 348.5,588.8 349.4,602.8 350.2,596.4 351.1,606.7 351.9,609.2 352.8,600.9 353.6,602.7 354.5,602.2 355.3,605.3 356.2,605.9 357.0,605.4 357.9,614.9 358.7,607.6 359.6,612.5 360.4,620.6 361.3,605.7 362.1,605.6 363.0,594.0 363.8,618.0 364.7,629.8 365.5,616.9 366.4,621.5 367.2,620.5 368.1,620.1 368.9,618.9 369.8,620.1 370.6,619.6 371.5,627.3 372.3,617.3 373.2,617.4 374.0,615.8 374.9,619.2 375.7,609.9 376.6,602.7 377.4,615.7 378.3,605.7 379.1,609.1 380.0,601.2 380.8,602.5 381.7,602.7 382.5,591.1 383.4,584.9 384.2,571.9 385.1,573.0 385.9,556.2 386.8,547.2 387.6,544.9 388.5,549.3 389.3,549.5 390.2,567.1 391.0,570.6 391.9,575.6 392.7,582.5 393.6,599.1 394.4,601.9 395.3,607.7 396.1,624.4 397.0,628.6 397.8,633.3 398.7,630.4 399.5,637.9 400.4,641.3 401.2,649.5 402.1,639.5 402.9,642.6 403.8,639.3 404.6,642.8 405.5,657.4 406.3,651.0 407.2,664.0 408.0,654.4 408.9,656.2 409.7,651.1 410.6,661.7 411.4,667.2 412.3,655.8 413.1,670.0 414.0,661.1 414.8,653.5 415.7,659.5 416.5,678.1 417.4,681.5 418.2,680.3 419.1,679.0 419.9,681.0 420.8,683.4 421.6,678.9 422.5,680.0 423.3,686.3 424.2,687.5 425.0,686.0 425.9,681.8 426.7,686.9 427.6,689.6 428.4,692.9 429.3,690.3 430.1,704.7 431.0,694.2 431.8,693.0 432.7,690.1 433.5,698.8 434.4,700.5 435.2,688.1 436.1,697.9 436.9,695.1 437.8,693.6 438.6,694.6 439.5,699.6 440.3,690.6 441.2,705.1 442.0,705.0 442.9,706.1 443.7,699.9 444.6,711.1 445.4,716.4 446.3,699.6 447.1,709.7 448.0,711.0 448.8,702.6 449.7,720.2 450.5,708.6 451.4,708.0 452.2,708.1 453.1,707.1 453.9,711.4 454.8,711.4 455.6,718.4 456.5,718.3 457.3,718.8 458.2,715.2 459.0,721.0 459.9,717.9 460.7,719.6 461.6,705.9 462.4,717.8 463.3,723.9 464.1,719.5 465.0,725.5 465.8,714.7 466.7,726.7 467.5,735.2 468.4,721.9 469.2,728.3 470.1,724.7 470.9,719.5 471.8,721.3 472.6,733.7 473.5,717.8 474.3,730.5 475.2,725.0 476.0,732.4 476.9,736.2 477.7,734.2 478.6,725.5 479.4,716.6 480.3,732.8 481.1,727.5 482.0,749.3 482.8,730.3 483.7,746.5 484.5,740.5 485.4,728.2 486.2,734.4 487.1,737.7 487.9,743.2 488.8,748.3 489.6,740.8 490.5,746.0 491.3,749.5 492.2,745.5 493.0,747.0 493.9,747.0 494.7,747.4 495.6,748.9 496.4,756.5 497.3,753.3 498.1,749.2 499.0,747.7 499.8,749.8 500.7,752.2 501.5,757.0 502.4,765.0 503.2,755.9 504.1,758.2 504.9,753.8 505.8,731.4 506.6,757.3 507.5,770.9 508.3,760.4 509.2,758.6 510.0,763.1 510.9,765.4 511.7,765.2 512.6,766.5 513.4,758.3 514.3,769.6 515.1,754.9 516.0,769.8 516.8,769.9 517.7,767.1 518.5,773.4 519.4,771.7 520.2,770.2 521.1,771.6 521.9,764.7 522.8,783.6 523.6,772.4 524.5,773.6 525.3,772.2 526.2,787.6 527.0,778.4 527.9,777.5 528.7,789.3 529.6,781.5 530.4,778.5 531.3,782.7 532.1,777.0 533.0,780.5 533.8,787.5 534.7,784.5 535.5,779.7 536.4,778.4 537.2,790.2 538.1,787.7 538.9,775.3 539.8,780.3 540.6,780.4 541.5,792.3 542.3,784.1 543.2,781.3 544.0,777.9 544.9,778.6 545.7,784.8 546.6,782.4 547.4,790.1 548.3,793.0 549.1,779.6 550.0,782.6 550.8,788.9 551.7,793.4 552.5,787.1 553.4,789.4 554.2,781.5 555.1,789.3 555.9,783.3 556.8,792.0 557.6,790.1 558.5,785.9 559.3,795.5 560.2,794.4 561.0,782.5 561.9,790.0 562.7,791.4 563.6,790.8 564.4,791.2 565.3,788.5 566.1,782.9 567.0,795.2 567.8,793.6 568.7,796.4 569.5,782.5 570.4,799.5 571.2,797.9 572.1,791.8 572.9,797.3 573.8,805.1 574.6,798.5 575.5,799.2 576.3,801.2 577.2,796.4 578.0,800.8 578.9,788.6 579.7,796.0 580.6,797.1 581.4,789.6 582.3,801.6 583.1,800.1 584.0,805.3 584.8,798.2 585.7,795.4 586.5,806.8 587.4,801.9 588.2,797.4 589.1,805.1 589.9,807.8 590.8,808.1 591.6,799.6 592.5,803.4 593.3,806.8 594.2,803.6 595.0,803.6 595.9,806.1 596.7,808.6 597.6,807.8 598.4,805.4 599.3,813.9 600.1,807.0 601.0,810.0 601.8,817.8 602.7,802.9 603.5,810.0 604.4,802.2 605.2,811.9 606.1,803.8 606.9,806.4 607.8,802.4 608.6,816.1 609.5,810.5 610.3,806.0 611.2,815.2 612.0,814.5 612.9,819.7 613.7,803.0 614.6,800.0 615.4,807.6 616.3,811.6 617.1,816.1 618.0,811.0 618.8,815.3 619.7,811.1 620.5,810.4 621.4,821.5 622.2,810.7 623.1,821.5 623.9,825.6 624.8,817.6 625.6,813.5 626.5,817.8 627.3,813.1 628.2,819.0 629.0,814.4 629.9,819.7 630.7,815.0 631.6,811.5 632.4,820.1 633.3,820.6 634.1,823.3 635.0,823.3 635.8,822.2 636.7,824.4 637.5,821.1 638.4,821.9 639.2,825.6 640.1,818.4 640.9,830.7 641.8,816.8 642.6,822.0 643.5,817.6 644.3,820.5 645.2,822.2 646.0,821.4 646.9,830.9 647.7,821.4 648.6,821.8 649.4,817.5 650.3,812.2 651.1,822.9 652.0,823.0 652.8,824.4 653.7,833.1 654.5,827.2 655.4,822.5 656.2,823.3 657.1,822.7 657.9,823.2 658.8,819.7 659.6,823.2 660.5,817.5 661.3,819.6 662.2,816.4 663.0,811.4 663.9,815.5 664.7,806.5 665.6,828.9 666.4,815.4 667.3,809.3 668.1,804.2 669.0,805.4 669.8,802.2 670.7,802.2 671.5,802.4 672.4,799.8 673.2,797.8 674.1,792.0 674.9,796.4 675.8,789.4 676.6,777.4 677.5,783.5 678.3,775.3 679.2,769.3 680.0,761.2 680.9,755.5 681.7,750.0 682.6,739.7 683.4,729.1 684.3,707.3 685.1,699.1 686.0,685.4 686.8,675.4 687.7,653.5 688.5,635.5 689.4,627.9 690.2,621.2 691.1,615.1 691.9,615.1 692.8,634.7 693.6,644.4 694.5,640.1 695.3,670.6 696.2,686.0 697.0,703.8 697.9,715.4 698.7,731.2 699.6,736.9 700.4,740.8 701.3,769.0 702.1,763.9 703.0,764.7 703.8,771.3 704.7,773.7 705.5,765.3 706.4,780.3 707.2,788.7 708.1,778.2 708.9,792.6 709.8,802.2 710.6,792.4 711.5,799.8 712.3,810.3 713.2,807.6 714.0,822.0 714.9,801.3 715.7,807.9 716.6,817.7 717.4,823.6 718.3,805.7 719.1,815.1 720.0,819.5 720.8,832.5 721.7,821.4 722.5,825.0 723.4,822.6 724.2,822.7 725.1,822.1 725.9,826.1 726.8,824.5 727.6,827.9 728.5,832.6 729.3,826.5 730.2,833.6 731.0,838.8 731.9,831.9 732.7,830.6 733.6,835.6 734.4,828.7 735.3,828.4 736.1,827.2 737.0,836.2 737.8,834.2 738.7,832.5 739.5,829.2 740.4,836.1 741.2,837.2 742.1,846.5 742.9,835.3 743.8,834.5 744.6,844.9 745.5,837.3 746.3,838.6 747.2,833.5 748.0,835.5 748.9,836.3 749.7,835.8 750.6,833.4 751.4,847.1 752.3,842.3 753.1,838.9 754.0,836.4 754.8,839.3 755.7,838.5 756.5,840.7 757.4,838.2 758.2,845.5 759.1,834.5 759.9,836.0 760.8,835.5 761.6,844.9 762.5,825.6 763.3,838.0 764.2,844.4 765.0,833.0 765.9,841.1 766.7,836.0 767.6,839.6 768.4,839.6 769.3,835.8 770.1,836.0 771.0,842.4 771.8,831.5 772.7,834.1 773.5,831.5 774.4,831.6 775.2,833.7 776.1,830.0 776.9,826.2 777.8,833.4 778.6,824.8 779.5,827.3 780.3,828.8 781.2,821.9 782.0,836.8 782.9,824.7 783.7,818.5 784.6,821.8 785.4,818.4 786.3,821.0 787.1,816.8 788.0,813.1 788.8,818.8 789.7,814.7 790.5,807.7 791.4,812.5 792.2,802.7 793.1,798.8 793.9,799.1 794.8,800.3 795.6,798.7 796.5,795.1 797.3,790.4 798.2,783.3 799.0,786.5 799.9,779.0 800.7,770.8 801.6,774.0 802.4,765.2 803.3,768.9 804.1,769.0 805.0,761.6 805.8,764.9 806.7,752.0 807.5,746.1 808.4,733.8 809.2,731.7 810.1,721.0 810.9,712.1 811.8,698.3 812.6,701.5 813.5,682.1 814.3,668.0 815.2,647.2 816.0,627.8 816.9,597.9 817.7,575.0 818.6,543.7 819.4,501.0 820.3,452.8 821.1,402.0 822.0,323.1 822.8,268.9 823.7,194.4 824.5,109.5 825.4,32.8 826.2,-30.4 827.1,-80.0 827.9,-101.5 828.8,-86.7 829.6,-48.4 830.5,32.3 831.3,117.6 832.2,205.8 833.0,280.9 833.9,350.7 834.7,418.3 835.6,474.6 836.4,518.5 837.3,558.8 838.1,600.6 839.0,633.4 839.8,656.8 840.7,690.0 841.5,704.8 842.4,722.3 843.2,737.2 844.1,745.5 844.9,753.5 845.8,778.7 846.6,782.0 847.5,778.1 848.3,784.2 849.2,793.2 850.0,804.1 850.9,805.4 851.7,810.8 852.6,802.5 853.4,813.7 854.3,812.9 855.1,811.7 856.0,805.0 856.8,814.0 857.7,805.0 858.5,813.1 859.4,809.4 860.2,812.7 861.1,813.7 861.9,805.5 862.8,811.0 863.6,808.9 864.5,802.9 865.3,792.0 866.2,807.2 867.0,807.1 867.9,810.5 868.7,807.7 869.6,798.4 870.4,817.3 871.3,818.2 872.1,823.1 873.0,828.3 873.8,828.1 874.7,837.4 875.5,839.6 876.4,848.6 877.2,847.5 878.1,852.2 878.9,852.0 879.8,857.2 880.6,854.9 881.5,865.4 882.3,863.6 883.2,870.8 884.0,863.2 884.9,860.0 885.7,857.3 886.6,859.4 887.4,870.0 888.3,862.4 889.1,864.6 890.0,866.0 890.8,873.0 891.7,863.2 892.5,868.0 893.4,867.3 894.2,866.8 895.1,868.6 895.9,864.7 896.8,867.5 897.6,868.5 898.5,872.2 899.3,878.7 900.2,872.2 901.0,872.3 901.9,875.6 902.7,872.2 903.6,866.3 904.4,874.6 905.3,873.4 906.1,869.6 907.0,872.3 907.8,871.0 908.7,871.2 909.5,876.0 910.4,870.4 911.2,884.1 912.1,874.5 912.9,874.8 913.8,879.5 914.6,883.6 915.5,878.7 916.3,872.4 917.2,877.2 918.0,872.4 918.9,877.9 919.7,872.1 920.6,873.6 921.4,885.5 922.3,877.9 923.1,882.6 924.0,888.9 924.8,873.1 925.7,874.5 926.5,889.2 927.4,880.2 928.2,881.0 929.1,882.1 929.9,875.9 930.8,885.9 931.6,886.8 932.5,882.6 933.3,879.5 934.2,877.6 935.0,881.4 935.9,881.8 936.7,886.0 937.6,879.9 938.4,885.3 939.3,885.5 940.1,884.7 941.0,879.8 941.8,886.9 942.7,888.8 943.5,880.5 944.4,881.6 945.2,882.1 946.1,883.2 946.9,883.4 947.8,892.6 948.6,884.6 949.5,887.4 950.3,885.6 951.2,889.5 952.0,883.0 952.9,888.1 953.7,888.1 954.6,883.2 955.4,880.2 956.3,884.4 957.1,885.9 958.0,884.9 958.8,880.1 959.7,881.9 960.5,885.8 961.4,884.7 962.2,887.0 963.1,881.3 963.9,879.6 964.8,886.9 965.6,893.8 966.5,880.4 967.3,884.7 968.2,879.8 969.0,882.0 969.9,886.2 970.7,879.2 971.6,883.4 972.4,880.1 973.3,879.4 974.1,879.5 975.0,881.3 975.8,875.9 976.7,871.8 977.5,877.5 978.4,875.8 979.2,876.4 980.1,879.7 980.9,878.3 981.8,879.9 982.6,877.2 983.5,875.3 984.3,870.7 985.2,875.7 986.0,876.8 986.9,874.0 987.7,871.5 988.6,874.6 989.4,873.7 990.3,874.5 991.1,874.2 992.0,868.1 992.8,874.9 993.7,871.0 994.5,871.5 995.4,868.9 996.2,870.5 997.1,869.1 997.9,861.0 998.8,867.3 999.6,863.4 1000.5,865.4 1001.3,861.2 1002.2,854.5 1003.0,853.5 1003.9,856.4 1004.7,841.6 1005.6,851.4 1006.4,851.4 1007.3,844.7 1008.1,841.5 1009.0,839.7 1009.8,832.2 1010.7,833.9 1011.5,825.3 1012.4,816.4 1013.2,812.9 1014.1,803.4 1014.9,787.6 1015.8,774.5 1016.6,757.4 1017.5,752.7 1018.3,733.0 1019.2,722.7 1020.0,711.4 1020.9,702.4 1021.7,696.8 1022.6,697.7 1023.4,702.9 1024.3,716.0 1025.1,730.9 1026.0,744.9 1026.8,757.5 1027.7,773.3 1028.5,784.5 1029.4,792.8 1030.2,807.6 1031.1,812.4 1031.9,819.3 1032.8,818.2 1033.6,834.3 1034.5,840.4 1035.3,842.3 1036.2,847.7 1037.0,845.6 1037.9,853.0 1038.7,853.2 1039.6,863.9 1040.4,845.3 1041.3,859.5 1042.1,861.5 1043.0,861.6 1043.8,867.3 1044.7,856.2 1045.5,876.2 1046.4,870.6 1047.2,870.0 1048.1,877.1 1048.9,875.5 1049.8,872.2 1050.6,879.4 1051.5,879.3 1052.3,881.6 1053.2,875.8 1054.0,870.1 1054.9,882.9 1055.7,879.6 1056.6,884.5 1057.4,883.0 1058.3,880.0 1059.1,886.2 1060.0,885.3 1060.8,885.8 1061.7,882.6 1062.5,881.1 1063.4,886.9 1064.2,887.2 1065.1,885.0 1065.9,884.1 1066.8,885.9 1067.6,884.6 1068.5,890.9 1069.3,888.4 1070.2,891.3 1071.0,891.8 1071.9,893.9 1072.7,896.4 1073.6,900.8 1074.4,888.2 1075.3,899.5 1076.1,896.5 1077.0,902.6 1077.8,900.7 1078.7,896.8 1079.5,896.7 1080.4,903.4 1081.2,899.1 1082.1,893.7 1082.9,897.9 1083.8,900.8 1084.6,901.3 1085.5,893.3 1086.3,902.0 1087.2,897.1 1088.0,903.2 1088.9,897.8 1089.7,902.4 1090.6,896.5 1091.4,902.0 1092.3,896.7 1093.1,897.0 1094.0,897.0 1094.8,898.7 1095.7,898.3 1096.5,902.1 1097.4,897.4 1098.2,892.6 1099.1,895.7 1099.9,898.8 1100.8,895.6 1101.6,896.4 1102.5,894.1 1103.3,897.8 1104.2,897.8 1105.0,900.5 1105.9,896.9 1106.7,887.9 1107.6,897.9 1108.4,899.3 1109.3,898.4 1110.1,896.9 1111.0,894.2 1111.8,893.2 1112.7,900.4 1113.5,890.9 1114.4,897.0 1115.2,892.4 1116.1,897.7 1116.9,894.3 1117.8,895.9 1118.6,899.4 1119.5,899.8 1120.3,899.3 1121.2,910.1 1122.0,903.7 1122.9,896.5 1123.7,898.7 1124.6,904.7 1125.4,899.7 1126.3,889.4 1127.1,899.0 1128.0,898.1 1128.8,898.2 1129.7,899.4 1130.5,899.8 1131.4,900.1 1132.2,895.8 1133.1,904.6 1133.9,894.5 1134.8,900.3 1135.6,906.0 1136.5,895.5 1137.3,906.2 1138.2,899.4 1139.0,901.8 1139.9,898.4 1140.7,900.4 1141.6,893.0 1142.4,905.9 1143.3,899.2 1144.1,897.4 1145.0,895.9 1145.8,900.1 1146.7,905.9 1147.5,901.5 1148.4,905.4 1149.2,897.2 1150.1,903.8 1150.9,900.3 1151.8,908.9 1152.6,905.6 1153.5,908.2 1154.3,906.5 1155.2,902.1 1156.0,900.4 1156.9,900.3 1157.7,900.0 1158.6,903.7 1159.4,908.1 1160.3,897.5 1161.1,905.8 1162.0,904.1 1162.8,902.0 1163.7,903.5 1164.5,905.0 1165.4,907.5 1166.2,903.2 1167.1,901.7 1167.9,904.1 1168.8,900.0 1169.6,906.5 1170.5,900.6 1171.3,902.9 1172.2,903.9 1173.0,905.8 1173.9,906.4 1174.7,902.4 1175.6,901.9 1176.4,907.6 1177.3,902.4 1178.1,906.4 1179.0,904.5 1179.8,902.5 1180.7,906.4 1181.5,902.3 1182.4,909.5 1183.2,902.3 1184.1,904.9 1184.9,899.4 1185.8,913.0 1186.6,914.3 1187.5,907.3 1188.3,898.0 1189.2,906.5 1190.0,893.4 1190.9,904.0 1191.7,902.9 1192.6,901.5 1193.4,905.9 1194.3,904.9 1195.1,904.3 1196.0,903.0 1196.8,902.9 1197.7,896.9 1198.5,903.9 1199.4,909.6 1200.2,905.5 1201.1,904.4 1201.9,899.7 1202.8,904.6 1203.6,896.9 1204.5,899.5 1205.3,900.6 1206.2,899.9 1207.0,907.3 1207.9,911.3 1208.7,903.7 1209.6,902.5 1210.4,900.5 1211.3,897.3 1212.1,897.8 1213.0,904.3 1213.8,901.7 1214.7,900.9 1215.5,901.4 1216.4,901.4 1217.2,899.6 1218.1,898.1 1218.9,899.0 1219.8,898.3 1220.6,906.2 1221.5,901.1 1222.3,898.9 1223.2,898.5 1224.0,899.4 1224.9,899.8 1225.7,902.0 1226.6,901.0 1227.4,903.2 1228.3,899.3 1229.1,899.2 1230.0,899.2 1230.8,904.1 1231.7,903.3 1232.5,899.6 1233.4,900.4 1234.2,898.1 1235.1,896.6 1235.9,899.2 1236.8,894.6 1237.6,898.5 1238.5,895.6 1239.3,902.6 1240.2,902.6 1241.0,896.9 1241.9,898.5 1242.7,901.0 1243.6,896.5 1244.4,896.1 1245.3,900.7 1246.1,899.9 1247.0,898.6 1247.8,894.1 1248.7,899.2 1249.5,893.4 1250.4,890.5 1251.2,900.8 1252.1,899.8 1252.9,897.2 1253.8,896.5 1254.6,891.6 1255.5,893.5 1256.3,889.3 1257.2,888.2 1258.0,881.3 1258.9,894.0 1259.7,882.5 1260.6,887.0 1261.4,884.3 1262.3,884.4 1263.1,886.6 1264.0,883.5 1264.8,892.6 1265.7,882.1 1266.5,884.1 1267.4,881.2 1268.2,883.9 1269.1,875.3 1269.9,883.5 1270.8,874.0 1271.6,876.2 1272.5,875.7 1273.3,875.7 1274.2,874.0 1275.0,875.7 1275.9,865.8 1276.7,869.4 1277.6,861.9 1278.4,868.2 1279.3,865.0 1280.1,854.9 1281.0,843.8 1281.8,847.7 1282.7,845.5 1283.5,833.9 1284.4,839.5 1285.2,834.3 1286.1,831.9 1286.9,834.6 1287.8,840.2 1288.6,843.7 1289.5,843.3 1290.3,851.6 1291.2,852.2 1292.0,856.4 1292.9,855.6 1293.7,864.5 1294.6,866.2 1295.4,873.1 1296.3,875.2 1297.1,867.5 1298.0,873.9 1298.8,882.2 1299.7,883.7 1300.5,880.9 1301.4,883.7 1302.2,885.0 1303.1,881.1 1303.9,884.4 1304.8,903.8 1305.6,882.5 1306.5,889.5 1307.3,888.2 1308.2,889.2 1309.0,889.8 1309.9,891.1 1310.7,897.2 1311.6,892.5 1312.4,896.0 1313.3,897.0 1314.1,893.5 1315.0,894.3 1315.8,900.4 1316.7,898.4 1317.5,899.1 1318.4,896.2 1319.2,895.6 1320.1,901.9 1320.9,898.3 1321.8,906.4 1322.6,893.8 1323.5,898.8 1324.3,896.9 1325.2,904.1 1326.0,894.7 1326.9,895.8 1327.7,894.9 1328.6,891.2 1329.4,897.8 1330.3,894.0 1331.1,896.0 1332.0,893.9 1332.8,897.3 1333.7,897.9 1334.5,893.4 1335.4,893.8 1336.2,891.1 1337.1,899.0 1337.9,894.7 1338.8,894.3 1339.6,895.0 1340.5,890.5 1341.3,887.5 1342.2,883.4 1343.0,894.7 1343.9,894.4 1344.7,889.5 1345.6,890.5 1346.4,896.3 1347.3,891.0 1348.1,888.4 1349.0,891.3 1349.8,885.3 1350.7,884.8 1351.5,884.6 1352.4,883.2 1353.2,879.5 1354.1,876.9 1354.9,875.3 1355.8,873.3 1356.6,868.9 1357.5,866.1 1358.3,863.5 1359.2,854.1 1360.0,850.3 1360.9,848.2 1361.7,841.4 1362.6,836.1 1363.4,831.8 1364.3,820.9 1365.1,808.0 1366.0,796.9 1366.8,787.5 1367.7,769.8 1368.5,759.2 1369.4,740.4 1370.2,727.1 1371.1,717.9 1371.9,699.5 1372.8,690.1 1373.6,688.3 1374.5,686.3 1375.3,690.7 1376.2,702.3 1377.0,712.3 1377.9,728.2 1378.7,733.1 1379.6,750.5 1380.4,758.7 1381.3,769.8 1382.1,770.2 1383.0,777.7 1383.8,786.4 1384.7,788.4 1385.5,788.6 1386.4,795.0 1387.2,801.4 1388.1,803.4 1388.9,806.1 1389.8,799.7 1390.6,808.3 1391.5,818.2 1392.3,819.8 1393.2,823.8 1394.0,826.9 1394.9,840.3 1395.7,845.7 1396.6,853.1 1397.4,861.2 1398.3,860.3 1399.1,869.1 1400.0,872.4 1400.8,890.3 1401.7,882.6 1402.5,883.8 1403.4,887.2 1404.2,891.7 1405.1,888.5 1405.9,890.2 1406.8,891.8 1407.6,884.3 1408.5,889.4 1409.3,892.2 1410.2,900.3 1411.0,890.5 1411.9,900.8 1412.7,893.9 1413.6,896.0 1414.4,896.1 1415.3,901.1 1416.1,897.2 1417.0,895.6 1417.8,905.7 1418.7,900.1 1419.5,897.5 1420.4,900.0 1421.2,900.4 1422.1,902.4 1422.9,905.6 1423.8,899.2 1424.6,898.5 1425.5,894.3 1426.3,901.1 1427.2,908.4 1428.0,904.5 1428.9,900.0 1429.7,905.9 1430.6,904.6 1431.4,907.5 1432.3,901.3 1433.1,899.2 1434.0,905.6 1434.8,896.2 1435.7,902.2 1436.5,902.1 1437.4,896.9 1438.2,911.2 1439.1,899.3 1439.9,904.4 1440.8,905.7 1441.6,900.9 1442.5,900.5 1443.3,904.2 1444.2,900.9 1445.0,903.6 1445.9,902.2 1446.7,903.1 1447.6,901.3 1448.4,904.6 1449.3,905.4 1450.1,904.0 1451.0,896.3 1451.8,901.7 1452.7,905.0 1453.5,901.8 1454.4,903.1 1455.2,903.0 1456.1,901.9 1456.9,898.7 1457.8,903.4 1458.6,904.4 1459.5,905.6 1460.3,904.3 1461.2,907.1 1462.0,898.4 1462.9,902.7 1463.7,899.8 1464.6,898.2 1465.4,903.9 1466.3,905.9 1467.1,901.9 1468.0,901.6 1468.8,903.9 1469.7,900.2 1470.5,906.0 1471.4,900.0 1472.2,895.6 1473.1,900.5 1473.9,903.4 1474.8,900.0 1475.6,903.0 1476.5,895.6 1477.3,897.9 1478.2,897.1 1479.0,901.5 1479.9,903.1 1480.7,895.3 1481.6,897.1 1482.4,893.7 1483.3,897.8 1484.1,890.9 1485.0,890.3 1485.8,889.8 1486.7,885.0 1487.5,883.4 1488.4,882.4 1489.2,880.6 1490.1,889.2 1490.9,874.2 1491.8,873.5 1492.6,867.4 1493.5,868.0 1494.3,868.4 1495.2,870.3 1496.0,865.6 1496.9,866.5 1497.7,862.3 1498.6,846.6 1499.4,851.0 1500.3,847.7 1501.1,840.2 1502.0,843.0 1502.8,827.8 1503.7,823.4 1504.5,820.7 1505.4,810.8 1506.2,803.3 1507.1,786.8 1507.9,773.8 1508.8,759.9 1509.6,744.3 1510.5,722.5 1511.3,704.6 1512.2,678.2 1513.0,657.9 1513.9,633.6 1514.7,616.6 1515.6,606.1 1516.4,603.5 1517.3,603.4 1518.1,615.1 1519.0,632.4 1519.8,653.5 1520.7,682.8 1521.5,700.3 1522.4,721.6 1523.2,745.4 1524.1,763.1 1524.9,775.6 1525.8,794.4 1526.6,810.5 1527.5,811.3 1528.3,827.3 1529.2,829.5 1530.0,837.2 1530.9,841.7 1531.7,852.1 1532.6,855.8 1533.4,850.4 1534.3,860.5 1535.1,857.7 1536.0,866.1 1536.8,869.3 1537.7,873.2 1538.5,880.3 1539.4,882.6 1540.2,883.7 1541.1,886.1 1541.9,887.5 1542.8,889.5 1543.6,890.8 1544.5,894.9 1545.3,893.2 1546.2,894.5 1547.0,897.8 1547.9,897.8 1548.7,901.3 1549.6,901.3 1550.4,903.8 1551.3,900.6 1552.1,900.3 1553.0,903.9 1553.8,903.0 1554.7,903.5 1555.5,914.2 1556.4,902.9 1557.2,909.4 1558.1,907.9 1558.9,903.5 1559.8,906.5 1560.6,906.9 1561.5,908.3 1562.3,909.1 1563.2,916.5 1564.0,902.4 1564.9,907.6 1565.7,906.9 1566.6,901.9 1567.4,910.2 1568.3,913.5 1569.1,908.7 1570.0,909.2 1570.8,904.3 1571.7,906.8 1572.5,907.5 1573.4,900.4 1574.2,906.9 1575.1,908.0 1575.9,904.9 1576.8,904.0 1577.6,906.4 1578.5,908.6 1579.3,910.0 1580.2,911.9 1581.0,903.7 1581.9,911.1 1582.7,906.9 1583.6,908.4 1584.4,902.9 1585.3,905.0 1586.1,911.1 1587.0,907.5 1587.8,908.5 1588.7,908.5 1589.5,907.2 1590.4,909.2 1591.2,909.6 1592.1,909.6 1592.9,907.7 1593.8,911.2 1594.6,906.2 1595.5,908.4 1596.3,911.3 1597.2,915.5 1598.0,911.9 1598.9,911.9 1599.7,914.8 1600.6,913.7 1601.4,911.8 1602.3,923.0 1603.1,907.3 1604.0,907.1 1604.8,909.5 1605.7,908.4 1606.5,912.5 1607.4,912.0 1608.2,909.5 1609.1,911.8 1609.9,903.0 1610.8,913.4 1611.6,917.1 1612.5,908.6 1613.3,914.9 1614.2,902.1 1615.0,913.4 1615.9,912.7 1616.7,914.9 1617.6,914.2 1618.4,914.9 1619.3,914.6 1620.1,912.6 1621.0,927.3 1621.8,915.7 1622.7,908.6 1623.5,916.4 1624.4,916.3 1625.2,918.9 1626.1,918.8 1626.9,923.7 1627.8,920.7 1628.6,919.4 1629.5,921.2 1630.3,917.4 1631.2,918.1 1632.0,918.2 1632.9,920.3 1633.7,923.1 1634.6,917.6 1635.4,916.0 1636.3,919.1 1637.1,923.3 1638.0,919.6 1638.8,911.0 1639.7,919.8 1640.5,923.3 1641.4,917.2 1642.2,915.6 1643.1,914.0 1643.9,920.1 1644.8,908.5 1645.6,916.7 1646.5,917.7 1647.3,918.3 1648.2,916.6 1649.0,920.1 1649.9,916.5 1650.7,918.1 1651.6,916.5 1652.4,917.1 1653.3,919.0 1654.1,908.1 1655.0,914.2 1655.8,914.2 1656.7,913.9 1657.5,913.0 1658.4,918.3 1659.2,914.2 1660.1,916.5 1660.9,915.0 1661.8,915.5 1662.6,913.0 1663.5,918.7 1664.3,915.8 1665.2,916.5 1666.0,918.4 1666.9,917.7 1667.7,920.7 1668.6,917.6 1669.4,916.5 1670.3,908.9 1671.1,916.0 1672.0,924.6 1672.8,918.0 1673.7,918.4 1674.5,909.7 1675.4,921.3 1676.2,909.7 1677.1,920.0 1677.9,919.1 1678.8,917.0 1679.6,914.8 1680.5,917.2 1681.3,918.6 1682.2,919.5 1683.0,919.2 1683.9,913.5 1684.7,922.7 1685.6,916.1 1686.4,918.0 1687.3,913.5 1688.1,914.8 1689.0,912.9 1689.8,914.7 1690.7,909.6 1691.5,916.9 1692.4,915.3 1693.2,917.2 1694.1,916.2 1694.9,914.8 1695.8,912.8 1696.6,914.3 1697.5,917.3 1698.3,912.6 1699.2,920.0 1700.0,912.3 1700.9,916.0 1701.7,909.9 1702.6,911.4 1703.4,914.4 1704.3,920.7 1705.1,914.2 1706.0,914.6 1706.8,915.0 1707.7,911.6 1708.5,916.1 1709.4,914.9 1710.2,907.4 1711.1,924.8 1711.9,908.4 1712.8,914.2 1713.6,912.4 1714.5,907.2 1715.3,907.3 1716.2,910.5 1717.0,910.2 1717.9,913.3 1718.7,906.3 1719.6,903.8 1720.4,907.4 1721.3,906.5 1722.1,905.6 1723.0,900.1 1723.8,902.9 1724.7,904.8 1725.5,900.1 1726.4,905.8 1727.2,899.2 1728.1,900.7 1728.9,900.2 1729.8,899.3 1730.6,899.9 1731.5,903.6 1732.3,900.3 1733.2,902.2 1734.0,901.1 1734.9,902.7 1735.7,904.0 1736.6,908.4 1737.4,903.7 1738.3,905.6 1739.1,910.2 1740.0,902.6 1740.8,912.9 1741.7,918.2 1742.5,917.2 1743.4,908.8 1744.2,912.0 1745.1,916.0 1745.9,916.2 1746.8,911.6 1747.6,920.5 1748.5,915.4 1749.3,913.4 1750.2,920.0 1751.0,919.9 1751.9,922.7 1752.7,916.3 1753.6,917.5 1754.4,921.2 1755.3,912.4 1756.1,914.4 1757.0,915.8 1757.8,914.8 1758.7,903.7 1759.5,916.3 1760.4,915.7 1761.2,913.5 1762.1,919.6 1762.9,917.3 1763.8,915.4 1764.6,911.6 1765.5,919.3 1766.3,907.2 1767.2,910.5 1768.0,919.2 1768.9,923.2 1769.7,919.0 1770.6,915.6 1771.4,909.6 1772.3,915.8 1773.1,913.3 1774.0,917.6 1774.8,915.4 1775.7,915.0 1776.5,917.8 1777.4,916.7 1778.2,918.6 1779.1,917.6 1779.9,908.0 1780.8,909.9 1781.6,916.4 1782.5,917.7 1783.3,922.2 1784.2,918.2 1785.0,917.8 1785.9,927.7 1786.7,912.3 1787.6,911.8 1788.4,913.6 1789.3,917.2 1790.1,911.1 1791.0,913.5 1791.8,904.8 1792.7,908.5 1793.5,906.5 1794.4,903.4 1795.2,903.6 1796.1,900.3 1796.9,901.2 1797.8,898.2 1798.6,893.5 1799.5,888.1 1800.3,883.3 1801.2,880.2 1802.0,874.9 1802.9,874.3 1803.7,871.0 1804.6,869.8 1805.4,867.2 1806.3,869.0 1807.1,865.8 1808.0,863.1 1808.8,864.3 1809.7,867.0 1810.5,869.9 1811.4,871.2 1812.2,874.7 1813.1,878.7 1813.9,880.4 1814.8,882.2 1815.6,881.0 1816.5,885.1 1817.3,889.3 1818.2,892.4 1819.0,887.3 1819.9,894.0 1820.7,890.0 1821.6,891.1 1822.4,896.0 1823.3,897.6 1824.1,906.1 1825.0,894.7 1825.8,893.5 1826.7,903.6 1827.5,900.2 1828.4,894.0 1829.2,898.1 1830.1,893.8 1830.9,893.7 1831.8,891.0 1832.6,880.1 1833.5,884.0 1834.3,896.7 1835.2,898.2 1836.0,898.4 1836.9,887.5 1837.7,896.0 1838.6,908.6 1839.4,899.6 1840.3,904.2 1841.1,902.6 1842.0,907.6 1842.8,912.8 1843.7,914.9 1844.5,914.2 1845.4,915.8 1846.2,917.0 1847.1,917.3 1847.9,917.1 1848.8,918.1 1849.6,917.1 1850.5,924.8 1851.3,921.8 1852.2,916.1 1853.0,924.3 1853.9,922.2 1854.7,925.1 1855.6,926.5 1856.4,916.2 1857.3,923.2 1858.1,922.9 1859.0,928.7 1859.8,927.6 1860.7,928.2 1861.5,929.1 1862.4,928.9 1863.2,929.5 1864.1,937.6 1864.9,928.4 1865.8,929.6 1866.6,920.7 1867.5,928.3 1868.3,929.1 1869.2,930.0 1870.0,930.4 1870.9,926.0 1871.7,929.7 1872.6,929.7 1873.4,930.5 1874.3,928.0 1875.1,930.6 1876.0,933.4 1876.8,931.0 1877.7,930.0 1878.5,929.8 1879.4,927.3 1880.2,929.8 1881.1,928.5 1881.9,925.6 1882.8,929.1 1883.6,931.7 1884.5,931.7 1885.3,927.7 1886.2,934.4 1887.0,927.5 1887.9,927.9 1888.7,929.7 1889.6,937.0 1890.4,935.7 1891.3,931.5 1892.1,925.6 1893.0,930.5 1893.8,934.0 1894.7,925.6 1895.5,925.6 1896.4,929.0 1897.2,926.0 1898.1,927.4 1898.9,925.5 1899.8,933.1 1900.6,930.1 1901.5,929.8 1902.3,929.6 1903.2,931.7 1904.0,933.0 1904.9,926.8 1905.7,925.7 1906.6,924.3 1907.4,927.8 1908.3,922.5 1909.1,928.1 1910.0,925.8 1910.8,922.4 1911.7,927.8 1912.5,929.7 1913.4,933.6 1914.2,929.1 1915.1,919.0 1915.9,925.7 1916.8,921.4 1917.6,918.4 1918.5,921.7 1919.3,924.0 1920.2,921.7 1921.0,919.4 1921.9,912.8 1922.7,919.6 1923.6,912.0 1924.4,915.5 1925.3,916.0 1926.1,914.3 1927.0,908.4 1927.8,917.0 1928.7,909.5 1929.5,907.5 1930.4,907.8 1931.2,908.4 1932.1,908.6 1932.9,905.0 1933.8,905.8 1934.6,912.1 1935.5,907.3 1936.3,913.2 1937.2,912.3 1938.0,909.6 1938.9,912.6 1939.7,916.3 1940.6,912.5 1941.4,916.4 1942.3,922.3 1943.1,919.2 1944.0,920.0 1944.8,920.2 1945.7,922.0 1946.5,920.7 1947.4,921.1 1948.2,924.5 1949.1,924.8 1949.9,924.3 1950.8,927.3 1951.6,924.4 1952.5,916.6 1953.3,926.0 1954.2,922.3 1955.0,922.9 1955.9,927.1 1956.7,921.6 1957.6,920.4 1958.4,925.1 1959.3,922.0 1960.1,926.6 1961.0,927.0 1961.8,921.9 1962.7,922.0 1963.5,928.5 1964.4,926.1 1965.2,929.5 1966.1,925.2 1966.9,922.6 1967.8,924.0 1968.6,927.0 1969.5,925.8 1970.3,928.9 1971.2,930.1 1972.0,931.3 1972.9,929.9 1973.7,924.9 1974.6,922.2 1975.4,925.5 1976.3,931.7 1977.1,929.4 1978.0,922.2 1978.8,921.8 1979.7,927.0 1980.5,923.4 1981.4,928.7 1982.2,932.1 1983.1,928.0 1983.9,933.4 1984.8,926.7 1985.6,924.8 1986.5,926.6 1987.3,926.7 1988.2,927.1 1989.0,925.5 1989.9,928.5 1990.7,927.1 1991.6,926.9 1992.4,928.9 1993.3,928.3 1994.1,934.1 1995.0,921.7 1995.8,933.7 1996.7,926.4 1997.5,923.3 1998.4,931.4 1999.2,928.2 2000.1,921.7 2000.9,927.6 2001.8,923.6 2002.6,930.0 2003.5,920.7 2004.3,924.9 2005.2,923.3 2006.0,927.6 2006.9,921.6 2007.7,922.6 2008.6,924.0 2009.4,925.5 2010.3,926.7 2011.1,921.6 2012.0,923.7 2012.8,923.7 2013.7,928.4 2014.5,923.5 2015.4,920.0 2016.2,925.9 2017.1,923.4 2017.9,922.2 2018.8,920.6 2019.6,924.4 2020.5,927.7 2021.3,928.4 2022.2,919.1 2023.0,925.8 2023.9,919.8 2024.7,923.0 2025.6,925.4 2026.4,922.1 2027.3,931.9 2028.1,932.9 2029.0,928.3 2029.8,922.5 2030.7,925.8 2031.5,919.4 2032.4,924.6 2033.2,923.8 2034.1,923.7 2034.9,928.2 2035.8,922.4 2036.6,921.3 2037.5,924.6 2038.3,920.9 2039.2,923.4 2040.0,923.2 2040.9,926.8 2041.7,921.5 2042.6,922.4 2043.4,924.6 2044.3,924.8 2045.1,925.2 2046.0,906.5 2046.8,921.6 2047.7,919.3 2048.5,919.3 2049.4,928.3 2050.2,923.6 2051.1,925.0 2051.9,916.5 2052.8,921.0 2053.6,918.7 2054.5,924.9 2055.3,923.8 2056.2,927.4 2057.0,920.0 2057.9,923.0 2058.7,919.4 2059.6,920.7 2060.4,923.5 2061.3,920.5 2062.1,924.1 2063.0,920.3 2063.8,921.6 2064.7,924.9 2065.5,912.6 2066.4,920.2 2067.2,920.8 2068.1,921.6 2068.9,917.8 2069.8,916.6 2070.6,914.3 2071.5,915.5 2072.3,922.9 2073.2,919.6 2074.0,918.2 2074.9,918.3 2075.7,918.4 2076.6,917.4 2077.4,919.7 2078.3,917.6 2079.1,922.6 2080.0,923.9 2080.8,918.7 2081.7,914.1 2082.5,918.9 2083.4,918.1 2084.2,917.1 2085.1,921.1 2085.9,916.3 2086.8,917.1 2087.6,919.7 2088.5,916.5 2089.3,926.1" stroke="#0A70E4"/>
<polyline points="307.7,696.3 308.6,691.9 309.4,691.6 310.3,680.8 311.1,694.9 312.0,693.2 312.8,683.1 313.7,687.2 314.5,693.3 315.4,686.7 316.2,681.7 317.1,699.8 317.9,691.5 318.8,682.4 319.6,690.1 320.5,685.4 321.3,698.9 322.2,676.1 323.0,692.7 323.9,694.2 324.7,687.6 325.6,673.3 326.4,695.8 327.3,687.8 328.1,695.4 329.0,695.7 329.8,697.7 330.7,700.2 331.5,698.3 332.4,695.5 333.2,705.4 334.1,711.2 334.9,708.6 335.8,698.7 336.6,714.3 337.5,708.6 338.3,722.0 339.2,706.8 340.0,712.3 340.9,724.2 341.7,721.9 342.6,720.2 343.4,721.4 344.3,722.1 345.1,727.2 346.0,730.2 346.8,728.8 347.7,728.5 348.5,734.4 349.4,723.7 350.2,730.7 351.1,741.4 351.9,718.8 352.8,731.3 353.6,733.9 354.5,725.1 355.3,726.3 356.2,726.2 357.0,738.7 357.9,739.1 358.7,742.3 359.6,739.7 360.4,743.7 361.3,745.0 362.1,740.8 363.0,746.1 363.8,739.4 364.7,745.2 365.5,741.9 366.4,733.1 367.2,748.3 368.1,746.0 368.9,741.6 369.8,749.5 370.6,734.2 371.5,741.9 372.3,733.2 373.2,744.9 374.0,730.9 374.9,740.6 375.7,731.3 376.6,730.3 377.4,735.9 378.3,735.5 379.1,732.9 380.0,731.1 380.8,720.0 381.7,734.9 382.5,719.1 383.4,718.5 384.2,710.8 385.1,733.3 385.9,710.9 386.8,700.1 387.6,704.5 388.5,699.2 389.3,694.1 390.2,677.2 391.0,680.0 391.9,678.8 392.7,688.4 393.6,695.9 394.4,700.3 395.3,712.1 396.1,713.5 397.0,721.7 397.8,739.0 398.7,735.4 399.5,737.6 400.4,740.4 401.2,746.3 402.1,744.0 402.9,758.2 403.8,758.0 404.6,767.0 405.5,763.4 406.3,775.8 407.2,775.8 408.0,769.2 408.9,766.5 409.7,769.9 410.6,783.4 411.4,782.8 412.3,786.0 413.1,787.9 414.0,783.5 414.8,781.7 415.7,787.7 416.5,788.6 417.4,785.3 418.2,787.0 419.1,786.4 419.9,781.0 420.8,800.2 421.6,791.6 422.5,792.1 423.3,803.8 424.2,783.0 425.0,794.3 425.9,797.5 426.7,801.8 427.6,798.0 428.4,798.0 429.3,799.5 430.1,803.6 431.0,800.2 431.8,808.4 432.7,812.0 433.5,802.1 434.4,817.4 435.2,803.7 436.1,810.5 436.9,804.4 437.8,819.5 438.6,802.5 439.5,830.3 440.3,813.5 441.2,810.7 442.0,814.7 442.9,812.4 443.7,824.5 444.6,821.8 445.4,814.0 446.3,820.7 447.1,817.3 448.0,826.2 448.8,829.9 449.7,823.6 450.5,830.3 451.4,824.9 452.2,828.2 453.1,816.2 453.9,833.7 454.8,834.0 455.6,841.9 456.5,843.6 457.3,837.1 458.2,839.3 459.0,838.2 459.9,841.1 460.7,844.1 461.6,838.1 462.4,839.1 463.3,846.7 464.1,842.4 465.0,842.1 465.8,851.5 466.7,854.7 467.5,849.0 468.4,852.7 469.2,854.5 470.1,862.2 470.9,862.3 471.8,850.5 472.6,862.0 473.5,858.3 474.3,856.0 475.2,862.7 476.0,864.9 476.9,868.3 477.7,867.7 478.6,861.7 479.4,868.4 480.3,866.1 481.1,856.6 482.0,868.1 482.8,862.4 483.7,865.2 484.5,863.2 485.4,865.0 486.2,866.3 487.1,855.7 487.9,872.6 488.8,870.8 489.6,878.1 490.5,870.2 491.3,879.0 492.2,867.6 493.0,866.7 493.9,871.7 494.7,875.7 495.6,867.9 496.4,867.7 497.3,877.2 498.1,880.6 499.0,883.5 499.8,870.8 500.7,876.9 501.5,878.8 502.4,875.5 503.2,881.0 504.1,880.1 504.9,880.5 505.8,877.9 506.6,858.0 507.5,878.9 508.3,889.7 509.2,873.2 510.0,878.8 510.9,873.7 511.7,887.2 512.6,882.3 513.4,890.7 514.3,885.9 515.1,884.5 516.0,890.2 516.8,882.6 517.7,885.9 518.5,892.1 519.4,887.5 520.2,886.0 521.1,887.6 521.9,882.3 522.8,893.1 523.6,891.1 524.5,885.5 525.3,893.2 526.2,887.6 527.0,890.8 527.9,892.3 528.7,887.2 529.6,881.1 530.4,894.6 531.3,891.1 532.1,885.4 533.0,891.4 533.8,894.0 534.7,892.4 535.5,894.2 536.4,896.6 537.2,898.8 538.1,892.0 538.9,903.5 539.8,897.2 540.6,896.3 541.5,894.5 542.3,895.6 543.2,894.0 544.0,895.1 544.9,887.8 545.7,891.2 546.6,892.4 547.4,891.3 548.3,898.7 549.1,890.3 550.0,898.4 550.8,899.4 551.7,912.1 552.5,898.3 553.4,901.5 554.2,894.5 555.1,899.5 555.9,894.6 556.8,897.4 557.6,902.6 558.5,898.7 559.3,891.2 560.2,895.0 561.0,896.0 561.9,895.6 562.7,911.5 563.6,901.0 564.4,903.5 565.3,900.2 566.1,898.8 567.0,900.1 567.8,901.6 568.7,902.6 569.5,898.7 570.4,914.5 571.2,908.0 572.1,900.9 572.9,908.4 573.8,904.7 574.6,903.3 575.5,910.9 576.3,908.6 577.2,913.3 578.0,899.5 578.9,893.4 579.7,913.1 580.6,913.3 581.4,908.8 582.3,916.1 583.1,915.8 584.0,918.5 584.8,918.6 585.7,911.3 586.5,913.3 587.4,913.9 588.2,911.1 589.1,919.4 589.9,904.9 590.8,916.2 591.6,910.5 592.5,917.8 593.3,918.7 594.2,915.5 595.0,916.7 595.9,917.5 596.7,905.3 597.6,914.5 598.4,907.0 599.3,917.6 600.1,917.3 601.0,917.0 601.8,921.4 602.7,916.6 603.5,925.5 604.4,921.7 605.2,920.9 606.1,916.0 606.9,917.0 607.8,919.4 608.6,918.4 609.5,925.3 610.3,919.8 611.2,921.6 612.0,919.5 612.9,914.4 613.7,917.3 614.6,917.6 615.4,917.7 616.3,926.6 617.1,927.2 618.0,921.7 618.8,927.9 619.7,917.8 620.5,907.3 621.4,916.3 622.2,924.6 623.1,920.6 623.9,925.8 624.8,926.7 625.6,921.9 626.5,931.9 627.3,919.8 628.2,929.2 629.0,926.4 629.9,922.8 630.7,929.3 631.6,927.2 632.4,938.2 633.3,930.9 634.1,923.4 635.0,931.4 635.8,927.5 636.7,921.5 637.5,925.3 638.4,934.5 639.2,930.3 640.1,933.6 640.9,927.1 641.8,924.2 642.6,926.5 643.5,926.7 644.3,928.0 645.2,933.3 646.0,931.7 646.9,948.2 647.7,922.5 648.6,929.7 649.4,932.3 650.3,925.7 651.1,930.4 652.0,927.1 652.8,940.3 653.7,926.6 654.5,939.5 655.4,923.3 656.2,930.1 657.1,931.2 657.9,930.8 658.8,916.9 659.6,927.0 660.5,926.2 661.3,920.0 662.2,924.8 663.0,923.8 663.9,924.6 664.7,917.5 665.6,939.1 666.4,925.4 667.3,927.3 668.1,922.3 669.0,921.5 669.8,907.8 670.7,917.5 671.5,913.7 672.4,923.6 673.2,911.5 674.1,908.3 674.9,905.2 675.8,900.3 676.6,892.2 677.5,892.5 678.3,888.5 679.2,895.0 680.0,880.6 680.9,870.5 681.7,869.7 682.6,849.9 683.4,844.8 684.3,835.9 685.1,825.7 686.0,792.6 686.8,783.1 687.7,765.3 688.5,740.0 689.4,717.6 690.2,704.4 691.1,694.5 691.9,693.4 692.8,700.5 693.6,712.2 694.5,719.6 695.3,745.0 696.2,763.8 697.0,774.0 697.9,802.8 698.7,820.2 699.6,844.2 700.4,850.2 701.3,854.2 702.1,877.5 703.0,888.0 703.8,887.9 704.7,898.7 705.5,890.3 706.4,912.1 707.2,914.2 708.1,913.2 708.9,913.6 709.8,921.0 710.6,907.9 711.5,921.0 712.3,924.0 713.2,926.2 714.0,926.2 714.9,937.6 715.7,924.4 716.6,925.4 717.4,936.1 718.3,935.6 719.1,931.9 720.0,935.4 720.8,926.3 721.7,924.6 722.5,934.8 723.4,949.0 724.2,933.4 725.1,933.2 725.9,937.1 726.8,951.2 727.6,939.6 728.5,941.4 729.3,932.9 730.2,938.0 731.0,941.8 731.9,932.0 732.7,937.2 733.6,940.8 734.4,942.2 735.3,946.6 736.1,950.3 737.0,944.7 737.8,954.3 738.7,945.1 739.5,940.2 740.4,919.8 741.2,947.4 742.1,937.7 742.9,945.2 743.8,942.7 744.6,944.1 745.5,932.8 746.3,945.0 747.2,940.5 748.0,945.8 748.9,947.3 749.7,950.6 750.6,948.0 751.4,942.6 752.3,947.8 753.1,946.8 754.0,940.5 754.8,949.8 755.7,941.6 756.5,950.9 757.4,944.6 758.2,939.5 759.1,953.0 759.9,952.3 760.8,942.2 761.6,942.1 762.5,944.1 763.3,946.1 764.2,941.6 765.0,949.4 765.9,943.8 766.7,940.0 767.6,943.0 768.4,941.1 769.3,939.3 770.1,942.0 771.0,937.0 771.8,943.7 772.7,938.9 773.5,942.1 774.4,937.1 775.2,940.9 776.1,942.7 776.9,938.4 777.8,936.0 778.6,930.7 779.5,930.9 780.3,926.3 781.2,934.9 782.0,940.9 782.9,936.0 783.7,920.6 784.6,936.2 785.4,933.7 786.3,928.6 787.1,927.3 788.0,928.0 788.8,923.6 789.7,928.7 790.5,915.1 791.4,921.0 792.2,914.3 793.1,918.4 793.9,917.2 794.8,916.6 795.6,917.9 796.5,915.3 797.3,911.2 798.2,917.1 799.0,908.9 799.9,902.0 800.7,890.2 801.6,893.1 802.4,895.7 803.3,883.8 804.1,878.6 805.0,877.6 805.8,875.1 806.7,867.4 807.5,862.7 808.4,848.2 809.2,848.9 810.1,834.6 810.9,823.4 811.8,807.5 812.6,801.2 813.5,778.6 814.3,777.1 815.2,740.1 816.0,715.7 816.9,703.4 817.7,663.0 818.6,622.3 819.4,571.9 820.3,529.8 821.1,471.8 822.0,398.5 822.8,310.7 823.7,224.1 824.5,135.8 825.4,52.4 826.2,-24.3 827.1,-64.5 827.9,-101.5 828.8,-82.8 829.6,-35.8 830.5,43.1 831.3,127.6 832.2,223.4 833.0,311.2 833.9,400.7 834.7,475.2 835.6,531.2 836.4,583.0 837.3,631.2 838.1,661.6 839.0,704.4 839.8,731.0 840.7,770.2 841.5,786.6 842.4,803.4 843.2,812.4 844.1,836.9 844.9,824.7 845.8,857.6 846.6,871.5 847.5,872.0 848.3,882.7 849.2,881.9 850.0,891.0 850.9,897.9 851.7,901.9 852.6,900.8 853.4,904.8 854.3,907.6 855.1,909.7 856.0,912.3 856.8,910.5 857.7,908.5 858.5,911.3 859.4,914.8 860.2,912.8 861.1,915.9 861.9,908.7 862.8,903.3 863.6,909.0 864.5,907.7 865.3,903.2 866.2,903.9 867.0,904.2 867.9,910.9 868.7,909.3 869.6,909.8 870.4,913.4 871.3,925.8 872.1,927.5 873.0,932.9 873.8,931.9 874.7,945.7 875.5,948.9 876.4,950.8 877.2,955.8 878.1,953.7 878.9,966.8 879.8,966.7 880.6,966.4 881.5,969.2 882.3,972.3 883.2,965.5 884.0,977.4 884.9,974.4 885.7,976.9 886.6,985.5 887.4,978.5 888.3,979.3 889.1,977.4 890.0,982.1 890.8,981.0 891.7,978.2 892.5,978.5 893.4,969.7 894.2,980.4 895.1,974.6 895.9,983.1 896.8,984.3 897.6,985.8 898.5,987.8 899.3,979.3 900.2,990.9 901.0,984.5 901.9,990.3 902.7,981.4 903.6,990.6 904.4,986.3 905.3,981.5 906.1,984.7 907.0,989.1 907.8,988.5 908.7,990.3 909.5,985.7 910.4,988.0 911.2,987.6 912.1,991.0 912.9,999.6 913.8,990.5 914.6,996.9 915.5,994.4 916.3,992.7 917.2,1005.9 918.0,992.5 918.9,999.9 919.7,996.9 920.6,998.6 921.4,1000.7 922.3,992.0 923.1,996.3 924.0,994.4 924.8,1000.2 925.7,995.8 926.5,987.7 927.4,993.7 928.2,997.5 929.1,991.3 929.9,990.6 930.8,997.4 931.6,999.4 932.5,990.8 933.3,996.2 934.2,1008.5 935.0,997.5 935.9,997.5 936.7,1006.5 937.6,998.3 938.4,999.4 939.3,995.0 940.1,1000.5 941.0,998.2 941.8,995.1 942.7,1002.2 943.5,997.7 944.4,1005.9 945.2,1002.2 946.1,1003.3 946.9,997.9 947.8,998.5 948.6,1010.7 949.5,1007.4 950.3,1007.6 951.2,1002.7 952.0,1002.1 952.9,999.7 953.7,1001.2 954.6,998.5 955.4,1005.5 956.3,1002.9 957.1,999.9 958.0,1000.7 958.8,1002.1 959.7,1000.5 960.5,1007.7 961.4,1003.3 962.2,1003.8 963.1,1002.5 963.9,1003.7 964.8,1006.4 965.6,1002.1 966.5,1002.9 967.3,1004.1 968.2,1004.0 969.0,1000.5 969.9,1004.1 970.7,1000.5 971.6,1004.2 972.4,1003.1 973.3,1005.7 974.1,998.0 975.0,1004.8 975.8,1002.4 976.7,1000.2 977.5,998.1 978.4,1003.2 979.2,1001.3 980.1,997.4 980.9,1008.1 981.8,999.5 982.6,1002.0 983.5,997.4 984.3,1004.6 985.2,1005.7 986.0,996.9 986.9,999.3 987.7,989.1 988.6,998.2 989.4,998.9 990.3,998.1 991.1,992.3 992.0,994.3 992.8,995.2 993.7,986.2 994.5,993.0 995.4,992.0 996.2,991.8 997.1,995.3 997.9,993.2 998.8,995.9 999.6,988.7 1000.5,985.0 1001.3,982.0 1002.2,986.2 1003.0,980.7 1003.9,983.6 1004.7,977.8 1005.6,977.0 1006.4,971.5 1007.3,972.7 1008.1,967.0 1009.0,961.5 1009.8,955.7 1010.7,970.9 1011.5,942.5 1012.4,943.3 1013.2,930.8 1014.1,924.0 1014.9,913.1 1015.8,906.7 1016.6,891.0 1017.5,872.3 1018.3,860.3 1019.2,841.2 1020.0,828.1 1020.9,810.2 1021.7,799.5 1022.6,792.4 1023.4,794.3 1024.3,795.5 1025.1,812.7 1026.0,827.1 1026.8,842.8 1027.7,868.3 1028.5,875.2 1029.4,892.4 1030.2,903.1 1031.1,922.7 1031.9,934.4 1032.8,936.5 1033.6,949.3 1034.5,952.2 1035.3,961.1 1036.2,974.1 1037.0,961.4 1037.9,975.1 1038.7,981.1 1039.6,980.2 1040.4,990.3 1041.3,989.4 1042.1,988.2 1043.0,992.1 1043.8,988.7 1044.7,996.9 1045.5,995.9 1046.4,1001.8 1047.2,997.0 1048.1,999.5 1048.9,1004.5 1049.8,1000.9 1050.6,1001.4 1051.5,1010.7 1052.3,1006.3 1053.2,1005.1 1054.0,1004.5 1054.9,1008.5 1055.7,1011.0 1056.6,1009.6 1057.4,1011.2 1058.3,1009.3 1059.1,1012.5 1060.0,1010.1 1060.8,1010.6 1061.7,1012.7 1062.5,1010.9 1063.4,1014.6 1064.2,1011.4 1065.1,1015.1 1065.9,1017.9 1066.8,1014.1 1067.6,1016.3 1068.5,1025.1 1069.3,1013.0 1070.2,1017.1 1071.0,1007.3 1071.9,1017.1 1072.7,1024.2 1073.6,1010.9 1074.4,1027.5 1075.3,1016.3 1076.1,1021.4 1077.0,1015.9 1077.8,1018.0 1078.7,1014.6 1079.5,1020.7 1080.4,1016.4 1081.2,1017.2 1082.1,1022.0 1082.9,1015.8 1083.8,1020.1 1084.6,1020.1 1085.5,1018.5 1086.3,1020.1 1087.2,1010.2 1088.0,1018.8 1088.9,1017.1 1089.7,1020.2 1090.6,1016.7 1091.4,1017.8 1092.3,1020.6 1093.1,1013.3 1094.0,1010.6 1094.8,1017.9 1095.7,1028.1 1096.5,1015.1 1097.4,1017.7 1098.2,1019.7 1099.1,1022.5 1099.9,1017.7 1100.8,1021.4 1101.6,1019.9 1102.5,1016.3 1103.3,1017.1 1104.2,1020.7 1105.0,1018.2 1105.9,1017.4 1106.7,1015.5 1107.6,1012.4 1108.4,1020.8 1109.3,1022.9 1110.1,1022.2 1111.0,1019.9 1111.8,1023.6 1112.7,1013.3 1113.5,1018.2 1114.4,1020.6 1115.2,1017.0 1116.1,1018.2 1116.9,1017.2 1117.8,1021.4 1118.6,1021.2 1119.5,1021.7 1120.3,1013.8 1121.2,1015.1 1122.0,1019.1 1122.9,1028.1 1123.7,1019.5 1124.6,1018.7 1125.4,1019.1 1126.3,1017.9 1127.1,1009.4 1128.0,1021.6 1128.8,1016.3 1129.7,1019.0 1130.5,1029.1 1131.4,1017.5 1132.2,1018.1 1133.1,1022.8 1133.9,1022.9 1134.8,1020.5 1135.6,1017.3 1136.5,1020.0 1137.3,1021.9 1138.2,1012.3 1139.0,1019.8 1139.9,1023.1 1140.7,1014.1 1141.6,1018.4 1142.4,1022.6 1143.3,1018.8 1144.1,1019.2 1145.0,1018.3 1145.8,1018.8 1146.7,1023.3 1147.5,1028.1 1148.4,1022.6 1149.2,1025.2 1150.1,1020.9 1150.9,1026.3 1151.8,1024.8 1152.6,1021.2 1153.5,1021.2 1154.3,1023.7 1155.2,1025.0 1156.0,1026.9 1156.9,1024.6 1157.7,1022.9 1158.6,1025.7 1159.4,1023.9 1160.3,1027.3 1161.1,1023.7 1162.0,1023.7 1162.8,1024.1 1163.7,1017.2 1164.5,1027.8 1165.4,1025.8 1166.2,1021.3 1167.1,1022.7 1167.9,1029.6 1168.8,1025.8 1169.6,1022.9 1170.5,1024.2 1171.3,1023.1 1172.2,1024.7 1173.0,1017.4 1173.9,1034.0 1174.7,1021.8 1175.6,1022.2 1176.4,1027.0 1177.3,1023.0 1178.1,1022.5 1179.0,1023.7 1179.8,1025.7 1180.7,1026.5 1181.5,1029.7 1182.4,1026.1 1183.2,1026.2 1184.1,1017.7 1184.9,1023.1 1185.8,1027.8 1186.6,1021.6 1187.5,1023.5 1188.3,1021.0 1189.2,1018.2 1190.0,1028.2 1190.9,1025.0 1191.7,1022.7 1192.6,1023.0 1193.4,1031.0 1194.3,1020.2 1195.1,1025.7 1196.0,1025.0 1196.8,1020.2 1197.7,1019.9 1198.5,1024.2 1199.4,1029.4 1200.2,1027.9 1201.1,1026.5 1201.9,1021.9 1202.8,1029.7 1203.6,1025.0 1204.5,1025.3 1205.3,1028.9 1206.2,1025.7 1207.0,1025.8 1207.9,1027.7 1208.7,1020.7 1209.6,1027.1 1210.4,1025.8 1211.3,1027.7 1212.1,1027.4 1213.0,1027.3 1213.8,1026.4 1214.7,1027.5 1215.5,1026.9 1216.4,1025.0 1217.2,1028.4 1218.1,1032.7 1218.9,1021.0 1219.8,1024.5 1220.6,1023.2 1221.5,1028.7 1222.3,1029.0 1223.2,1036.7 1224.0,1025.3 1224.9,1026.4 1225.7,1024.3 1226.6,1022.4 1227.4,1025.9 1228.3,1022.3 1229.1,1028.1 1230.0,1027.2 1230.8,1018.9 1231.7,1025.9 1232.5,1020.1 1233.4,1021.0 1234.2,1026.9 1235.1,1026.4 1235.9,1019.7 1236.8,1025.3 1237.6,1022.1 1238.5,1028.7 1239.3,1020.0 1240.2,1026.7 1241.0,1016.7 1241.9,1025.5 1242.7,1021.4 1243.6,1022.2 1244.4,1021.8 1245.3,1022.9 1246.1,1023.6 1247.0,1025.5 1247.8,1024.0 1248.7,1024.7 1249.5,1023.4 1250.4,1023.0 1251.2,1024.3 1252.1,1024.6 1252.9,1021.8 1253.8,1025.4 1254.6,1022.8 1255.5,1021.6 1256.3,1019.2 1257.2,1021.8 1258.0,1027.4 1258.9,1019.9 1259.7,1018.2 1260.6,1013.0 1261.4,1018.5 1262.3,1019.6 1263.1,1020.5 1264.0,1015.2 1264.8,1025.8 1265.7,1016.0 1266.5,1017.3 1267.4,1017.9 1268.2,1010.2 1269.1,1007.4 1269.9,1004.8 1270.8,1005.1 1271.6,1003.6 1272.5,1002.2 1273.3,999.2 1274.2,1003.3 1275.0,996.5 1275.9,989.9 1276.7,993.2 1277.6,982.3 1278.4,976.0 1279.3,980.4 1280.1,970.7 1281.0,967.8 1281.8,961.0 1282.7,960.1 1283.5,957.2 1284.4,958.1 1285.2,957.4 1286.1,960.1 1286.9,969.1 1287.8,968.4 1288.6,970.5 1289.5,972.9 1290.3,978.3 1291.2,975.3 1292.0,982.3 1292.9,987.1 1293.7,989.8 1294.6,990.4 1295.4,990.2 1296.3,989.4 1297.1,991.9 1298.0,990.5 1298.8,993.0 1299.7,990.2 1300.5,988.1 1301.4,998.5 1302.2,992.0 1303.1,990.6 1303.9,999.9 1304.8,1000.1 1305.6,1004.1 1306.5,1005.2 1307.3,1004.5 1308.2,1010.6 1309.0,1011.4 1309.9,1015.2 1310.7,1016.2 1311.6,1013.8 1312.4,1021.2 1313.3,1019.8 1314.1,1015.3 1315.0,1024.9 1315.8,1022.9 1316.7,1018.0 1317.5,1022.3 1318.4,1024.1 1319.2,1035.4 1320.1,1022.2 1320.9,1024.1 1321.8,1026.9 1322.6,1022.1 1323.5,1030.6 1324.3,1023.5 1325.2,1019.4 1326.0,1022.1 1326.9,1020.4 1327.7,1022.0 1328.6,1026.8 1329.4,1026.1 1330.3,1020.1 1331.1,1022.1 1332.0,1017.9 1332.8,1021.4 1333.7,1016.5 1334.5,1017.0 1335.4,1017.1 1336.2,1018.3 1337.1,1017.8 1337.9,1015.6 1338.8,1016.3 1339.6,1016.0 1340.5,1021.8 1341.3,1019.4 1342.2,1013.0 1343.0,1018.6 1343.9,1018.5 1344.7,1019.6 1345.6,1009.9 1346.4,1007.4 1347.3,1009.0 1348.1,1013.2 1349.0,1011.0 1349.8,1012.4 1350.7,1007.9 1351.5,1007.3 1352.4,1006.1 1353.2,1000.8 1354.1,1004.9 1354.9,1005.8 1355.8,995.5 1356.6,997.0 1357.5,992.9 1358.3,995.7 1359.2,987.4 1360.0,982.6 1360.9,975.7 1361.7,970.4 1362.6,973.1 1363.4,963.4 1364.3,955.4 1365.1,938.5 1366.0,930.0 1366.8,923.2 1367.7,898.5 1368.5,889.5 1369.4,866.3 1370.2,845.9 1371.1,838.4 1371.9,807.1 1372.8,786.0 1373.6,775.8 1374.5,768.9 1375.3,765.0 1376.2,765.4 1377.0,776.7 1377.9,789.7 1378.7,807.2 1379.6,827.1 1380.4,846.7 1381.3,852.9 1382.1,868.0 1383.0,884.1 1383.8,883.2 1384.7,903.7 1385.5,913.3 1386.4,921.7 1387.2,926.9 1388.1,934.5 1388.9,931.7 1389.8,933.7 1390.6,948.3 1391.5,949.5 1392.3,960.6 1393.2,959.8 1394.0,960.9 1394.9,973.3 1395.7,969.4 1396.6,977.4 1397.4,977.3 1398.3,984.4 1399.1,986.4 1400.0,987.9 1400.8,989.4 1401.7,997.0 1402.5,999.8 1403.4,993.2 1404.2,999.7 1405.1,1000.1 1405.9,996.6 1406.8,1007.8 1407.6,1006.4 1408.5,1008.7 1409.3,1011.9 1410.2,1006.4 1411.0,1011.7 1411.9,1005.4 1412.7,1011.2 1413.6,1009.9 1414.4,1011.9 1415.3,1010.8 1416.1,1011.8 1417.0,1015.6 1417.8,1016.2 1418.7,1018.0 1419.5,1014.7 1420.4,1018.6 1421.2,1017.3 1422.1,1018.3 1422.9,1024.6 1423.8,1014.1 1424.6,1020.5 1425.5,1017.4 1426.3,1021.6 1427.2,1019.9 1428.0,1021.3 1428.9,1016.9 1429.7,1015.1 1430.6,1018.6 1431.4,1017.7 1432.3,1018.8 1433.1,1019.6 1434.0,1020.5 1434.8,1021.4 1435.7,1013.5 1436.5,1020.6 1437.4,1022.5 1438.2,1016.8 1439.1,1019.8 1439.9,1022.4 1440.8,1022.7 1441.6,1024.5 1442.5,1023.2 1443.3,1023.1 1444.2,1024.2 1445.0,1015.9 1445.9,1024.7 1446.7,1026.0 1447.6,1020.1 1448.4,1024.8 1449.3,1013.6 1450.1,1024.3 1451.0,1021.6 1451.8,1023.0 1452.7,1017.5 1453.5,1025.7 1454.4,1018.9 1455.2,1023.4 1456.1,1014.5 1456.9,1015.8 1457.8,1025.9 1458.6,1022.0 1459.5,1021.1 1460.3,1016.3 1461.2,1023.0 1462.0,1021.9 1462.9,1021.2 1463.7,1019.0 1464.6,1012.3 1465.4,1023.2 1466.3,1021.3 1467.1,1023.0 1468.0,1019.6 1468.8,1020.2 1469.7,1019.0 1470.5,1016.8 1471.4,1021.2 1472.2,1016.3 1473.1,1018.3 1473.9,1017.5 1474.8,1011.6 1475.6,1019.6 1476.5,1013.0 1477.3,1017.6 1478.2,1015.8 1479.0,1020.0 1479.9,1019.5 1480.7,1011.2 1481.6,1014.5 1482.4,1015.3 1483.3,1007.7 1484.1,1008.0 1485.0,1006.7 1485.8,1010.2 1486.7,1007.9 1487.5,1002.6 1488.4,1008.8 1489.2,998.6 1490.1,1004.0 1490.9,998.8 1491.8,1004.7 1492.6,998.1 1493.5,994.4 1494.3,992.3 1495.2,986.0 1496.0,984.6 1496.9,978.0 1497.7,978.9 1498.6,979.3 1499.4,968.5 1500.3,965.5 1501.1,965.7 1502.0,960.6 1502.8,940.0 1503.7,943.1 1504.5,932.3 1505.4,931.6 1506.2,916.8 1507.1,897.5 1507.9,889.1 1508.8,873.2 1509.6,856.5 1510.5,833.7 1511.3,800.1 1512.2,782.7 1513.0,754.5 1513.9,728.2 1514.7,702.9 1515.6,679.4 1516.4,667.8 1517.3,669.8 1518.1,677.7 1519.0,692.3 1519.8,713.3 1520.7,742.4 1521.5,774.6 1522.4,799.6 1523.2,831.9 1524.1,843.9 1524.9,862.5 1525.8,885.7 1526.6,901.9 1527.5,914.5 1528.3,916.7 1529.2,932.5 1530.0,940.2 1530.9,953.4 1531.7,949.8 1532.6,965.2 1533.4,957.0 1534.3,971.5 1535.1,977.7 1536.0,978.4 1536.8,972.5 1537.7,982.8 1538.5,986.7 1539.4,992.9 1540.2,991.4 1541.1,998.1 1541.9,991.8 1542.8,995.5 1543.6,995.0 1544.5,1000.3 1545.3,1001.4 1546.2,999.5 1547.0,1004.6 1547.9,1005.4 1548.7,999.1 1549.6,1007.5 1550.4,1012.6 1551.3,1010.1 1552.1,1008.8 1553.0,1007.6 1553.8,1009.5 1554.7,1020.4 1555.5,1014.3 1556.4,1012.4 1557.2,1013.6 1558.1,1016.9 1558.9,1008.7 1559.8,1013.8 1560.6,1015.1 1561.5,1020.6 1562.3,1019.3 1563.2,1017.8 1564.0,1019.1 1564.9,1018.2 1565.7,1020.8 1566.6,1015.5 1567.4,1020.3 1568.3,1014.9 1569.1,1023.8 1570.0,1018.4 1570.8,1023.8 1571.7,1018.3 1572.5,1025.9 1573.4,1015.5 1574.2,1028.8 1575.1,1022.8 1575.9,1021.4 1576.8,1020.8 1577.6,1018.6 1578.5,1021.6 1579.3,1019.0 1580.2,1027.5 1581.0,1023.2 1581.9,1023.0 1582.7,1022.8 1583.6,1023.2 1584.4,1023.9 1585.3,1022.1 1586.1,1021.9 1587.0,1017.5 1587.8,1025.5 1588.7,1021.7 1589.5,1021.4 1590.4,1021.1 1591.2,1026.2 1592.1,1021.7 1592.9,1025.6 1593.8,1021.9 1594.6,1023.1 1595.5,1023.9 1596.3,1025.8 1597.2,1025.1 1598.0,1020.0 1598.9,1025.5 1599.7,1030.5 1600.6,1022.1 1601.4,1023.2 1602.3,1024.4 1603.1,1027.2 1604.0,1024.2 1604.8,1025.3 1605.7,1028.7 1606.5,1024.2 1607.4,1020.4 1608.2,1025.1 1609.1,1030.4 1609.9,1025.9 1610.8,1037.6 1611.6,1024.3 1612.5,1026.5 1613.3,1024.6 1614.2,1024.7 1615.0,1030.4 1615.9,1028.4 1616.7,1025.6 1617.6,1029.2 1618.4,1028.5 1619.3,1025.8 1620.1,1034.0 1621.0,1027.4 1621.8,1026.1 1622.7,1034.1 1623.5,1029.5 1624.4,1036.6 1625.2,1028.8 1626.1,1030.5 1626.9,1033.9 1627.8,1032.7 1628.6,1031.2 1629.5,1039.3 1630.3,1036.5 1631.2,1034.2 1632.0,1031.6 1632.9,1038.0 1633.7,1036.5 1634.6,1030.6 1635.4,1036.0 1636.3,1038.9 1637.1,1035.9 1638.0,1033.5 1638.8,1035.9 1639.7,1033.5 1640.5,1040.4 1641.4,1046.7 1642.2,1034.0 1643.1,1036.6 1643.9,1034.0 1644.8,1032.7 1645.6,1034.8 1646.5,1036.8 1647.3,1046.2 1648.2,1035.3 1649.0,1036.5 1649.9,1034.1 1650.7,1035.6 1651.6,1040.2 1652.4,1036.1 1653.3,1034.3 1654.1,1035.5 1655.0,1031.5 1655.8,1034.3 1656.7,1039.2 1657.5,1034.4 1658.4,1034.3 1659.2,1043.5 1660.1,1039.1 1660.9,1035.8 1661.8,1041.6 1662.6,1033.4 1663.5,1035.0 1664.3,1040.8 1665.2,1035.8 1666.0,1038.4 1666.9,1032.8 1667.7,1037.5 1668.6,1036.3 1669.4,1036.8 1670.3,1036.2 1671.1,1036.8 1672.0,1039.2 1672.8,1033.2 1673.7,1032.7 1674.5,1038.2 1675.4,1041.1 1676.2,1033.3 1677.1,1038.2 1677.9,1036.5 1678.8,1033.6 1679.6,1026.4 1680.5,1035.4 1681.3,1039.1 1682.2,1025.3 1683.0,1034.3 1683.9,1029.3 1684.7,1043.0 1685.6,1037.6 1686.4,1044.0 1687.3,1041.7 1688.1,1034.3 1689.0,1041.3 1689.8,1032.8 1690.7,1043.7 1691.5,1030.5 1692.4,1039.4 1693.2,1034.9 1694.1,1037.2 1694.9,1031.7 1695.8,1038.1 1696.6,1033.2 1697.5,1029.3 1698.3,1037.0 1699.2,1036.4 1700.0,1039.0 1700.9,1033.6 1701.7,1035.2 1702.6,1035.4 1703.4,1035.0 1704.3,1045.0 1705.1,1039.4 1706.0,1020.3 1706.8,1030.3 1707.7,1027.9 1708.5,1033.5 1709.4,1030.0 1710.2,1034.0 1711.1,1031.8 1711.9,1033.4 1712.8,1032.9 1713.6,1024.9 1714.5,1021.9 1715.3,1032.9 1716.2,1028.9 1717.0,1023.1 1717.9,1034.0 1718.7,1027.8 1719.6,1024.2 1720.4,1026.2 1721.3,1021.8 1722.1,1024.2 1723.0,1013.8 1723.8,1019.7 1724.7,1023.7 1725.5,1018.7 1726.4,1020.1 1727.2,1016.2 1728.1,1018.8 1728.9,1014.5 1729.8,1012.0 1730.6,1012.0 1731.5,1012.0 1732.3,1014.3 1733.2,1014.9 1734.0,1013.1 1734.9,1016.6 1735.7,1016.7 1736.6,1017.0 1737.4,1016.3 1738.3,1016.2 1739.1,1023.9 1740.0,1026.1 1740.8,1022.4 1741.7,1026.2 1742.5,1024.1 1743.4,1023.3 1744.2,1030.5 1745.1,1029.4 1745.9,1030.1 1746.8,1033.1 1747.6,1030.7 1748.5,1036.8 1749.3,1035.8 1750.2,1034.3 1751.0,1035.9 1751.9,1029.2 1752.7,1031.1 1753.6,1032.5 1754.4,1035.3 1755.3,1033.1 1756.1,1033.2 1757.0,1031.7 1757.8,1029.0 1758.7,1028.0 1759.5,1039.2 1760.4,1035.7 1761.2,1039.2 1762.1,1029.2 1762.9,1031.5 1763.8,1033.1 1764.6,1029.5 1765.5,1030.1 1766.3,1031.5 1767.2,1030.9 1768.0,1029.8 1768.9,1027.5 1769.7,1030.9 1770.6,1025.6 1771.4,1030.7 1772.3,1028.6 1773.1,1028.8 1774.0,1033.3 1774.8,1029.1 1775.7,1031.3 1776.5,1030.4 1777.4,1033.8 1778.2,1032.3 1779.1,1030.7 1779.9,1028.7 1780.8,1032.1 1781.6,1033.0 1782.5,1025.0 1783.3,1028.0 1784.2,1024.7 1785.0,1026.8 1785.9,1023.8 1786.7,1037.3 1787.6,1027.8 1788.4,1029.6 1789.3,1026.8 1790.1,1023.3 1791.0,1034.0 1791.8,1026.4 1792.7,1019.7 1793.5,1021.1 1794.4,1016.8 1795.2,1014.0 1796.1,1018.6 1796.9,1009.3 1797.8,1004.1 1798.6,1002.6 1799.5,999.8 1800.3,997.3 1801.2,991.5 1802.0,984.9 1802.9,985.0 1803.7,983.2 1804.6,977.7 1805.4,975.5 1806.3,972.6 1807.1,970.9 1808.0,968.2 1808.8,971.6 1809.7,970.9 1810.5,969.6 1811.4,972.7 1812.2,974.5 1813.1,976.5 1813.9,982.3 1814.8,981.5 1815.6,981.6 1816.5,990.9 1817.3,989.4 1818.2,990.9 1819.0,991.2 1819.9,987.9 1820.7,991.6 1821.6,995.9 1822.4,1001.7 1823.3,998.8 1824.1,1008.1 1825.0,1000.9 1825.8,1002.5 1826.7,999.3 1827.5,997.2 1828.4,999.2 1829.2,994.7 1830.1,994.3 1830.9,998.6 1831.8,995.4 1832.6,999.5 1833.5,1000.3 1834.3,998.0 1835.2,1004.5 1836.0,1003.3 1836.9,995.1 1837.7,1005.2 1838.6,1007.4 1839.4,1005.4 1840.3,1010.4 1841.1,1009.2 1842.0,1009.1 1842.8,1019.8 1843.7,1007.5 1844.5,1023.0 1845.4,1016.9 1846.2,1017.4 1847.1,1022.1 1847.9,1019.2 1848.8,1015.1 1849.6,1023.0 1850.5,1018.5 1851.3,1018.2 1852.2,1024.3 1853.0,1026.5 1853.9,1023.0 1854.7,1023.4 1855.6,1023.9 1856.4,1027.5 1857.3,1030.9 1858.1,1037.6 1859.0,1030.3 1859.8,1041.1 1860.7,1032.4 1861.5,1031.9 1862.4,1033.4 1863.2,1029.9 1864.1,1028.6 1864.9,1032.3 1865.8,1039.8 1866.6,1031.1 1867.5,1036.1 1868.3,1033.1 1869.2,1040.5 1870.0,1035.0 1870.9,1037.4 1871.7,1042.5 1872.6,1035.3 1873.4,1035.9 1874.3,1038.5 1875.1,1035.8 1876.0,1038.2 1876.8,1035.4 1877.7,1036.0 1878.5,1036.3 1879.4,1035.9 1880.2,1033.6 1881.1,1038.1 1881.9,1042.6 1882.8,1039.0 1883.6,1033.5 1884.5,1036.6 1885.3,1038.2 1886.2,1038.6 1887.0,1043.8 1887.9,1041.6 1888.7,1041.2 1889.6,1038.1 1890.4,1042.4 1891.3,1042.9 1892.1,1040.4 1893.0,1036.8 1893.8,1045.4 1894.7,1036.9 1895.5,1039.0 1896.4,1038.1 1897.2,1042.2 1898.1,1030.6 1898.9,1040.8 1899.8,1037.8 1900.6,1038.3 1901.5,1047.0 1902.3,1037.5 1903.2,1044.6 1904.0,1036.9 1904.9,1038.7 1905.7,1044.1 1906.6,1036.3 1907.4,1037.2 1908.3,1043.9 1909.1,1038.2 1910.0,1038.8 1910.8,1037.9 1911.7,1042.9 1912.5,1038.7 1913.4,1049.4 1914.2,1039.1 1915.1,1036.2 1915.9,1026.5 1916.8,1034.8 1917.6,1037.9 1918.5,1038.9 1919.3,1033.3 1920.2,1037.1 1921.0,1032.2 1921.9,1036.4 1922.7,1034.6 1923.6,1028.2 1924.4,1022.8 1925.3,1032.9 1926.1,1032.1 1927.0,1032.8 1927.8,1028.1 1928.7,1025.2 1929.5,1027.2 1930.4,1020.6 1931.2,1022.8 1932.1,1026.1 1932.9,1022.4 1933.8,1018.8 1934.6,1020.8 1935.5,1020.3 1936.3,1021.8 1937.2,1021.1 1938.0,1022.8 1938.9,1028.3 1939.7,1025.8 1940.6,1030.0 1941.4,1027.4 1942.3,1026.2 1943.1,1030.9 1944.0,1033.2 1944.8,1039.2 1945.7,1034.3 1946.5,1036.1 1947.4,1036.6 1948.2,1031.9 1949.1,1036.0 1949.9,1037.8 1950.8,1037.0 1951.6,1041.6 1952.5,1042.3 1953.3,1037.9 1954.2,1041.5 1955.0,1040.2 1955.9,1038.6 1956.7,1039.2 1957.6,1036.4 1958.4,1041.8 1959.3,1042.7 1960.1,1041.0 1961.0,1045.0 1961.8,1046.0 1962.7,1039.6 1963.5,1045.9 1964.4,1043.8 1965.2,1038.7 1966.1,1036.8 1966.9,1040.2 1967.8,1040.4 1968.6,1041.7 1969.5,1040.2 1970.3,1049.6 1971.2,1043.2 1972.0,1046.1 1972.9,1041.2 1973.7,1039.0 1974.6,1039.9 1975.4,1040.8 1976.3,1046.8 1977.1,1045.9 1978.0,1040.9 1978.8,1044.8 1979.7,1041.2 1980.5,1042.8 1981.4,1038.6 1982.2,1038.6 1983.1,1036.8 1983.9,1039.3 1984.8,1043.8 1985.6,1041.5 1986.5,1037.5 1987.3,1043.0 1988.2,1041.7 1989.0,1042.5 1989.9,1057.4 1990.7,1038.2 1991.6,1040.5 1992.4,1041.8 1993.3,1032.3 1994.1,1038.3 1995.0,1043.2 1995.8,1042.5 1996.7,1042.9 1997.5,1040.8 1998.4,1038.2 1999.2,1039.4 2000.1,1038.9 2000.9,1035.6 2001.8,1039.8 2002.6,1038.3 2003.5,1040.5 2004.3,1043.1 2005.2,1037.6 2006.0,1041.3 2006.9,1032.5 2007.7,1043.7 2008.6,1039.7 2009.4,1042.5 2010.3,1043.3 2011.1,1040.8 2012.0,1047.4 2012.8,1039.7 2013.7,1043.1 2014.5,1041.9 2015.4,1042.6 2016.2,1047.4 2017.1,1047.2 2017.9,1044.6 2018.8,1044.2 2019.6,1044.1 2020.5,1045.7 2021.3,1041.5 2022.2,1044.1 2023.0,1049.7 2023.9,1046.0 2024.7,1047.8 2025.6,1047.9 2026.4,1051.6 2027.3,1052.8 2028.1,1049.4 2029.0,1043.6 2029.8,1048.7 2030.7,1047.6 2031.5,1045.9 2032.4,1048.6 2033.2,1047.2 2034.1,1049.4 2034.9,1048.5 2035.8,1046.1 2036.6,1056.5 2037.5,1047.4 2038.3,1044.4 2039.2,1042.9 2040.0,1047.2 2040.9,1048.3 2041.7,1051.0 2042.6,1043.9 2043.4,1049.9 2044.3,1046.2 2045.1,1042.1 2046.0,1038.8 2046.8,1043.6 2047.7,1044.0 2048.5,1047.3 2049.4,1043.7 2050.2,1042.4 2051.1,1046.3 2051.9,1042.0 2052.8,1044.6 2053.6,1043.9 2054.5,1047.8 2055.3,1049.8 2056.2,1045.5 2057.0,1041.1 2057.9,1044.1 2058.7,1036.7 2059.6,1044.4 2060.4,1045.2 2061.3,1044.9 2062.1,1038.8 2063.0,1043.2 2063.8,1040.0 2064.7,1036.4 2065.5,1033.4 2066.4,1042.0 2067.2,1041.8 2068.1,1044.0 2068.9,1040.3 2069.8,1032.0 2070.6,1040.3 2071.5,1033.3 2072.3,1033.7 2073.2,1046.5 2074.0,1035.9 2074.9,1036.8 2075.7,1035.0 2076.6,1042.5 2077.4,1042.2 2078.3,1033.4 2079.1,1035.8 2080.0,1040.0 2080.8,1037.2 2081.7,1041.8 2082.5,1038.4 2083.4,1035.6 2084.2,1035.4 2085.1,1037.0 2085.9,1036.1 2086.8,1037.7 2087.6,1037.0 2088.5,1036.5 2089.3,1034.5" stroke="#00AE66"/>
<polyline points="307.7,793.8 308.6,801.2 309.4,807.6 310.3,802.0 311.1,795.3 312.0,802.9 312.8,799.8 313.7,801.1 314.5,817.3 315.4,798.9 316.2,811.5 317.1,820.8 317.9,807.2 318.8,817.7 319.6,792.3 320.5,807.3 321.3,803.6 322.2,827.8 323.0,815.7 323.9,801.8 324.7,827.5 325.6,827.3 326.4,812.0 327.3,813.6 328.1,835.1 329.0,816.9 329.8,822.8 330.7,825.8 331.5,829.1 332.4,826.2 333.2,823.1 334.1,829.2 334.9,834.1 335.8,832.8 336.6,828.0 337.5,835.7 338.3,832.2 339.2,821.6 340.0,835.8 340.9,829.8 341.7,845.3 342.6,831.8 343.4,847.9 344.3,853.6 345.1,852.9 346.0,841.2 346.8,846.4 347.7,843.8 348.5,851.4 349.4,853.1 350.2,851.3 351.1,853.8 351.9,850.7 352.8,851.7 353.6,848.5 354.5,852.2 355.3,852.1 356.2,859.7 357.0,853.1 357.9,854.5 358.7,861.0 359.6,857.6 360.4,871.9 361.3,842.3 362.1,851.8 363.0,858.3 363.8,854.5 364.7,866.5 365.5,867.2 366.4,859.4 367.2,860.3 368.1,859.8 368.9,859.6 369.8,862.3 370.6,852.7 371.5,848.7 372.3,857.8 373.2,866.1 374.0,851.7 374.9,865.7 375.7,858.1 376.6,848.9 377.4,860.9 378.3,860.2 379.1,852.7 380.0,850.8 380.8,850.8 381.7,845.1 382.5,840.7 383.4,839.9 384.2,831.1 385.1,836.8 385.9,830.2 386.8,817.1 387.6,797.1 388.5,798.1 389.3,790.2 390.2,790.9 391.0,785.0 391.9,792.3 392.7,798.4 393.6,808.3 394.4,820.5 395.3,817.4 396.1,840.3 397.0,836.2 397.8,853.2 398.7,861.5 399.5,872.0 400.4,880.2 401.2,877.2 402.1,862.6 402.9,880.9 403.8,876.6 404.6,868.5 405.5,895.3 406.3,895.9 407.2,896.0 408.0,894.8 408.9,905.1 409.7,910.6 410.6,901.6 411.4,906.8 412.3,907.2 413.1,916.5 414.0,915.6 414.8,916.4 415.7,912.8 416.5,918.2 417.4,912.2 418.2,911.5 419.1,903.9 419.9,917.5 420.8,908.5 421.6,917.8 422.5,916.8 423.3,926.1 424.2,926.7 425.0,919.0 425.9,923.9 426.7,923.8 427.6,927.5 428.4,922.2 429.3,942.7 430.1,930.8 431.0,933.5 431.8,930.5 432.7,935.7 433.5,918.6 434.4,934.5 435.2,940.6 436.1,931.8 436.9,937.5 437.8,934.2 438.6,941.4 439.5,935.8 440.3,942.9 441.2,938.5 442.0,948.2 442.9,944.0 443.7,957.7 444.6,938.5 445.4,939.8 446.3,956.5 447.1,943.4 448.0,946.1 448.8,941.4 449.7,948.2 450.5,949.7 451.4,971.5 452.2,941.9 453.1,945.0 453.9,946.9 454.8,946.6 455.6,961.5 456.5,948.8 457.3,955.0 458.2,955.1 459.0,946.5 459.9,961.4 460.7,957.7 461.6,960.0 462.4,965.1 463.3,960.9 464.1,958.3 465.0,960.7 465.8,954.0 466.7,952.9 467.5,958.5 468.4,959.2 469.2,968.1 470.1,955.7 470.9,957.5 471.8,960.9 472.6,984.0 473.5,972.4 474.3,969.0 475.2,958.3 476.0,955.9 476.9,965.6 477.7,958.7 478.6,962.7 479.4,961.4 480.3,971.2 481.1,977.8 482.0,964.7 482.8,985.3 483.7,970.8 484.5,969.6 485.4,968.4 486.2,977.8 487.1,973.4 487.9,972.3 488.8,977.7 489.6,975.3 490.5,976.4 491.3,973.3 492.2,975.6 493.0,968.6 493.9,971.9 494.7,970.3 495.6,977.1 496.4,979.2 497.3,977.5 498.1,980.0 499.0,987.3 499.8,976.9 500.7,974.2 501.5,977.4 502.4,985.0 503.2,976.6 504.1,984.4 504.9,987.3 505.8,974.2 506.6,974.6 507.5,985.3 508.3,986.2 509.2,988.2 510.0,978.8 510.9,984.2 511.7,984.5 512.6,982.6 513.4,977.8 514.3,982.1 515.1,981.8 516.0,958.2 516.8,992.0 517.7,989.1 518.5,995.3 519.4,985.6 520.2,987.9 521.1,978.0 521.9,986.1 522.8,982.0 523.6,990.3 524.5,1001.5 525.3,987.6 526.2,978.7 527.0,994.5 527.9,975.3 528.7,987.7 529.6,982.1 530.4,986.7 531.3,992.6 532.1,980.0 533.0,984.6 533.8,980.6 534.7,992.5 535.5,986.3 536.4,984.7 537.2,991.0 538.1,989.6 538.9,989.6 539.8,981.6 540.6,998.0 541.5,986.7 542.3,992.4 543.2,984.0 544.0,998.4 544.9,987.1 545.7,995.6 546.6,1001.0 547.4,994.0 548.3,1001.5 549.1,1005.5 550.0,989.7 550.8,1003.8 551.7,991.2 552.5,991.2 553.4,998.2 554.2,1005.3 555.1,996.8 555.9,992.9 556.8,996.7 557.6,1000.0 558.5,997.8 559.3,1002.1 560.2,1000.5 561.0,996.7 561.9,996.0 562.7,999.2 563.6,1003.7 564.4,1007.5 565.3,992.7 566.1,993.0 567.0,1012.7 567.8,991.5 568.7,1013.5 569.5,1010.3 570.4,999.3 571.2,1003.9 572.1,1021.2 572.9,998.8 573.8,1001.9 574.6,1013.2 575.5,1007.9 576.3,1009.2 577.2,1007.3 578.0,1012.2 578.9,1010.1 579.7,1012.4 580.6,1007.7 581.4,1009.8 582.3,1011.5 583.1,1013.2 584.0,1012.0 584.8,1014.3 585.7,1013.6 586.5,1015.8 587.4,1005.5 588.2,1015.9 589.1,1016.0 589.9,1013.0 590.8,1014.4 591.6,1020.1 592.5,1011.1 593.3,1029.2 594.2,1009.1 595.0,1008.9 595.9,1009.6 596.7,1018.5 597.6,1006.7 598.4,1010.4 599.3,1016.1 600.1,1021.5 601.0,1019.3 601.8,1013.0 602.7,1022.6 603.5,1014.0 604.4,1024.9 605.2,1021.6 606.1,1017.3 606.9,1008.2 607.8,1017.1 608.6,1020.4 609.5,1038.3 610.3,1018.4 611.2,1017.7 612.0,1022.0 612.9,1021.2 613.7,1016.7 614.6,1032.7 615.4,1022.9 616.3,1021.7 617.1,1019.5 618.0,1034.7 618.8,1026.5 619.7,1023.4 620.5,1012.3 621.4,1008.2 622.2,1012.1 623.1,1027.0 623.9,1032.1 624.8,1023.0 625.6,1024.3 626.5,1023.2 627.3,1028.0 628.2,1023.9 629.0,1022.9 629.9,1026.2 630.7,1033.9 631.6,1033.2 632.4,1031.5 633.3,1025.5 634.1,1028.3 635.0,1030.9 635.8,1020.0 636.7,1021.0 637.5,1032.4 638.4,1031.2 639.2,1028.9 640.1,1020.1 640.9,1038.8 641.8,1038.5 642.6,1034.5 643.5,1027.0 644.3,1031.7 645.2,1022.8 646.0,1024.6 646.9,1034.4 647.7,1037.6 648.6,1030.9 649.4,1030.5 650.3,1035.2 651.1,1030.5 652.0,1045.6 652.8,1024.0 653.7,1029.0 654.5,1038.5 655.4,1039.3 656.2,1027.1 657.1,1029.2 657.9,1040.2 658.8,1036.6 659.6,1037.2 660.5,1029.6 661.3,1032.2 662.2,1028.9 663.0,1028.4 663.9,1033.0 664.7,1017.0 665.6,1035.7 666.4,1040.1 667.3,1047.3 668.1,1030.7 669.0,1018.7 669.8,1020.1 670.7,1018.7 671.5,1013.1 672.4,1015.9 673.2,1002.4 674.1,1008.0 674.9,998.3 675.8,992.6 676.6,997.4 677.5,980.9 678.3,970.3 679.2,983.1 680.0,965.3 680.9,961.4 681.7,949.8 682.6,944.8 683.4,937.8 684.3,923.2 685.1,911.3 686.0,891.6 686.8,864.3 687.7,846.1 688.5,825.4 689.4,813.6 690.2,810.3 691.1,797.8 691.9,798.0 692.8,803.0 693.6,833.4 694.5,852.3 695.3,862.3 696.2,880.1 697.0,884.4 697.9,916.4 698.7,928.4 699.6,955.4 700.4,970.3 701.3,970.7 702.1,983.6 703.0,1000.2 703.8,1004.4 704.7,998.3 705.5,1004.5 706.4,1025.3 707.2,1022.3 708.1,1025.3 708.9,1020.9 709.8,1015.4 710.6,1034.3 711.5,1031.2 712.3,1037.3 713.2,1029.4 714.0,1042.9 714.9,1038.0 715.7,1039.5 716.6,1038.1 717.4,1045.9 718.3,1038.1 719.1,1039.1 720.0,1048.9 720.8,1042.6 721.7,1040.3 722.5,1039.6 723.4,1045.8 724.2,1046.2 725.1,1041.2 725.9,1038.5 726.8,1040.4 727.6,1047.6 728.5,1035.8 729.3,1028.9 730.2,1046.6 731.0,1041.7 731.9,1042.9 732.7,1045.0 733.6,1050.7 734.4,1048.8 735.3,1048.7 736.1,1057.4 737.0,1032.5 737.8,1044.0 738.7,1044.5 739.5,1048.6 740.4,1044.3 741.2,1044.1 742.1,1047.8 742.9,1037.6 743.8,1046.9 744.6,1039.5 745.5,1049.4 746.3,1048.2 747.2,1047.6 748.0,1062.4 748.9,1057.8 749.7,1045.4 750.6,1044.0 751.4,1045.7 752.3,1050.3 753.1,1046.2 754.0,1035.6 754.8,1048.3 755.7,1041.8 756.5,1050.9 757.4,1050.3 758.2,1045.2 759.1,1045.3 759.9,1045.9 760.8,1046.5 761.6,1049.1 762.5,1056.6 763.3,1049.5 764.2,1044.1 765.0,1045.1 765.9,1050.2 766.7,1047.9 767.6,1051.4 768.4,1042.6 769.3,1047.6 770.1,1043.2 771.0,1050.1 771.8,1046.6 772.7,1052.7 773.5,1038.1 774.4,1043.2 775.2,1031.1 776.1,1040.2 776.9,1031.5 777.8,1037.2 778.6,1047.0 779.5,1045.4 780.3,1041.3 781.2,1044.5 782.0,1035.0 782.9,1040.2 783.7,1032.3 784.6,1040.8 785.4,1033.4 786.3,1028.5 787.1,1042.2 788.0,1024.1 788.8,1032.8 789.7,1037.2 790.5,1024.4 791.4,1026.8 792.2,1035.1 793.1,1035.1 793.9,1033.4 794.8,1018.2 795.6,1020.6 796.5,1021.0 797.3,1024.2 798.2,1013.2 799.0,1020.0 799.9,999.3 800.7,1005.9 801.6,1005.1 802.4,998.0 803.3,995.4 804.1,1002.1 805.0,977.0 805.8,970.1 806.7,972.0 807.5,975.0 808.4,970.8 809.2,960.5 810.1,955.1 810.9,947.0 811.8,939.6 812.6,923.5 813.5,915.0 814.3,905.5 815.2,876.2 816.0,863.9 816.9,832.9 817.7,817.2 818.6,766.6 819.4,741.9 820.3,698.3 821.1,655.4 822.0,590.8 822.8,528.5 823.7,460.1 824.5,376.0 825.4,294.4 826.2,240.6 827.1,188.6 827.9,178.5 828.8,190.0 829.6,233.5 830.5,289.7 831.3,364.1 832.2,446.8 833.0,528.6 833.9,598.2 834.7,652.7 835.6,704.5 836.4,754.9 837.3,799.5 838.1,828.4 839.0,846.2 839.8,873.9 840.7,901.4 841.5,901.9 842.4,941.8 843.2,947.6 844.1,956.3 844.9,967.2 845.8,980.0 846.6,980.8 847.5,995.6 848.3,1003.0 849.2,999.2 850.0,1012.1 850.9,1019.3 851.7,1015.9 852.6,1021.8 853.4,1013.7 854.3,1018.9 855.1,1020.1 856.0,1025.0 856.8,1017.3 857.7,1028.1 858.5,1022.2 859.4,1013.6 860.2,1019.8 861.1,1011.5 861.9,1016.9 862.8,1016.4 863.6,1017.2 864.5,1012.8 865.3,1019.8 866.2,1014.1 867.0,1015.3 867.9,1019.5 868.7,1018.6 869.6,1016.9 870.4,1023.8 871.3,1042.2 872.1,1036.4 873.0,1041.3 873.8,1039.0 874.7,1045.6 875.5,1052.4 876.4,1049.3 877.2,1055.1 878.1,1058.7 878.9,1061.2 879.8,1059.7 880.6,1067.9 881.5,1060.3 882.3,1071.1 883.2,1062.6 884.0,1073.4 884.9,1072.6 885.7,1073.7 886.6,1070.7 887.4,1079.8 888.3,1077.1 889.1,1074.5 890.0,1082.9 890.8,1077.8 891.7,1091.1 892.5,1086.0 893.4,1080.8 894.2,1081.7 895.1,1085.7 895.9,1087.9 896.8,1094.8 897.6,1086.3 898.5,1088.5 899.3,1088.0 900.2,1094.7 901.0,1097.7 901.9,1105.4 902.7,1088.1 903.6,1087.5 904.4,1095.1 905.3,1100.1 906.1,1100.4 907.0,1087.3 907.8,1093.6 908.7,1090.3 909.5,1096.0 910.4,1095.0 911.2,1102.8 912.1,1095.6 912.9,1093.5 913.8,1094.8 914.6,1094.8 915.5,1101.6 916.3,1099.2 917.2,1095.1 918.0,1112.7 918.9,1092.0 919.7,1098.5 920.6,1102.4 921.4,1101.5 922.3,1105.5 923.1,1102.1 924.0,1105.8 924.8,1097.7 925.7,1110.2 926.5,1099.1 927.4,1096.0 928.2,1102.3 929.1,1098.5 929.9,1096.2 930.8,1097.1 931.6,1103.4 932.5,1100.8 933.3,1103.9 934.2,1102.7 935.0,1097.6 935.9,1101.7 936.7,1099.8 937.6,1098.9 938.4,1103.9 939.3,1105.4 940.1,1101.8 941.0,1114.5 941.8,1112.5 942.7,1102.8 943.5,1099.8 944.4,1096.4 945.2,1093.6 946.1,1099.2 946.9,1098.5 947.8,1099.5 948.6,1093.9 949.5,1100.2 950.3,1097.3 951.2,1101.6 952.0,1103.5 952.9,1096.9 953.7,1104.6 954.6,1101.4 955.4,1099.1 956.3,1099.5 957.1,1096.2 958.0,1099.0 958.8,1100.3 959.7,1097.8 960.5,1090.3 961.4,1095.2 962.2,1103.9 963.1,1096.0 963.9,1089.9 964.8,1097.5 965.6,1100.5 966.5,1100.2 967.3,1091.4 968.2,1105.6 969.0,1103.9 969.9,1101.8 970.7,1103.0 971.6,1098.4 972.4,1096.3 973.3,1105.5 974.1,1102.9 975.0,1099.5 975.8,1106.8 976.7,1101.9 977.5,1099.5 978.4,1101.4 979.2,1108.9 980.1,1106.2 980.9,1102.1 981.8,1110.6 982.6,1102.6 983.5,1100.4 984.3,1101.7 985.2,1105.4 986.0,1101.3 986.9,1102.4 987.7,1101.9 988.6,1100.1 989.4,1099.1 990.3,1110.0 991.1,1101.2 992.0,1100.8 992.8,1101.4 993.7,1092.6 994.5,1097.9 995.4,1095.6 996.2,1093.3 997.1,1086.1 997.9,1086.5 998.8,1090.2 999.6,1086.7 1000.5,1090.9 1001.3,1082.3 1002.2,1084.0 1003.0,1082.1 1003.9,1095.5 1004.7,1078.7 1005.6,1079.1 1006.4,1070.8 1007.3,1080.1 1008.1,1076.4 1009.0,1057.3 1009.8,1058.8 1010.7,1055.9 1011.5,1048.7 1012.4,1045.9 1013.2,1036.5 1014.1,1031.8 1014.9,1018.9 1015.8,1007.7 1016.6,990.5 1017.5,975.1 1018.3,963.1 1019.2,947.9 1020.0,941.0 1020.9,925.9 1021.7,926.0 1022.6,925.1 1023.4,933.4 1024.3,940.1 1025.1,956.7 1026.0,972.7 1026.8,984.2 1027.7,1002.7 1028.5,1020.5 1029.4,1026.0 1030.2,1039.3 1031.1,1050.7 1031.9,1049.2 1032.8,1058.0 1033.6,1066.5 1034.5,1069.5 1035.3,1085.3 1036.2,1087.1 1037.0,1087.6 1037.9,1087.2 1038.7,1092.3 1039.6,1090.3 1040.4,1097.3 1041.3,1101.4 1042.1,1099.1 1043.0,1102.8 1043.8,1099.1 1044.7,1100.1 1045.5,1116.9 1046.4,1107.9 1047.2,1103.9 1048.1,1108.2 1048.9,1114.2 1049.8,1111.3 1050.6,1110.4 1051.5,1116.7 1052.3,1108.1 1053.2,1108.6 1054.0,1111.5 1054.9,1112.5 1055.7,1105.8 1056.6,1115.3 1057.4,1115.0 1058.3,1119.3 1059.1,1110.7 1060.0,1114.3 1060.8,1117.5 1061.7,1112.8 1062.5,1118.0 1063.4,1115.0 1064.2,1117.1 1065.1,1119.5 1065.9,1121.6 1066.8,1118.1 1067.6,1119.8 1068.5,1117.2 1069.3,1124.3 1070.2,1119.9 1071.0,1124.9 1071.9,1120.9 1072.7,1117.5 1073.6,1127.3 1074.4,1115.1 1075.3,1117.5 1076.1,1121.8 1077.0,1124.6 1077.8,1122.8 1078.7,1124.1 1079.5,1116.9 1080.4,1124.3 1081.2,1122.5 1082.1,1123.3 1082.9,1126.6 1083.8,1120.8 1084.6,1121.2 1085.5,1124.2 1086.3,1124.6 1087.2,1121.7 1088.0,1125.5 1088.9,1120.5 1089.7,1121.2 1090.6,1132.8 1091.4,1125.4 1092.3,1122.7 1093.1,1128.2 1094.0,1125.7 1094.8,1124.0 1095.7,1123.7 1096.5,1139.8 1097.4,1123.0 1098.2,1126.0 1099.1,1124.2 1099.9,1118.8 1100.8,1120.9 1101.6,1123.8 1102.5,1123.9 1103.3,1111.6 1104.2,1124.7 1105.0,1123.0 1105.9,1126.0 1106.7,1120.4 1107.6,1126.5 1108.4,1125.0 1109.3,1121.9 1110.1,1129.8 1111.0,1120.8 1111.8,1128.0 1112.7,1128.8 1113.5,1119.5 1114.4,1127.0 1115.2,1127.1 1116.1,1125.7 1116.9,1128.0 1117.8,1119.6 1118.6,1121.1 1119.5,1128.6 1120.3,1133.5 1121.2,1126.9 1122.0,1124.2 1122.9,1123.4 1123.7,1130.8 1124.6,1126.8 1125.4,1122.9 1126.3,1126.6 1127.1,1125.5 1128.0,1129.3 1128.8,1127.3 1129.7,1126.3 1130.5,1123.5 1131.4,1129.5 1132.2,1128.5 1133.1,1126.8 1133.9,1123.9 1134.8,1132.0 1135.6,1134.8 1136.5,1129.1 1137.3,1127.5 1138.2,1118.1 1139.0,1128.0 1139.9,1132.0 1140.7,1122.9 1141.6,1128.8 1142.4,1131.7 1143.3,1132.4 1144.1,1137.5 1145.0,1123.4 1145.8,1121.2 1146.7,1126.9 1147.5,1125.1 1148.4,1130.5 1149.2,1129.3 1150.1,1131.0 1150.9,1132.6 1151.8,1129.7 1152.6,1134.8 1153.5,1132.2 1154.3,1134.4 1155.2,1130.0 1156.0,1130.1 1156.9,1144.6 1157.7,1133.1 1158.6,1134.4 1159.4,1131.4 1160.3,1137.2 1161.1,1134.5 1162.0,1134.0 1162.8,1134.8 1163.7,1137.0 1164.5,1137.3 1165.4,1132.7 1166.2,1134.9 1167.1,1127.9 1167.9,1131.1 1168.8,1137.9 1169.6,1131.5 1170.5,1133.4 1171.3,1129.6 1172.2,1135.8 1173.0,1130.1 1173.9,1134.5 1174.7,1141.7 1175.6,1132.6 1176.4,1135.9 1177.3,1132.8 1178.1,1129.6 1179.0,1130.2 1179.8,1135.2 1180.7,1130.0 1181.5,1130.7 1182.4,1126.9 1183.2,1133.8 1184.1,1135.2 1184.9,1137.0 1185.8,1129.7 1186.6,1126.0 1187.5,1133.2 1188.3,1132.7 1189.2,1128.2 1190.0,1136.1 1190.9,1131.8 1191.7,1128.3 1192.6,1138.2 1193.4,1130.4 1194.3,1131.0 1195.1,1129.8 1196.0,1128.7 1196.8,1133.8 1197.7,1136.5 1198.5,1136.4 1199.4,1132.4 1200.2,1132.3 1201.1,1133.8 1201.9,1137.5 1202.8,1132.4 1203.6,1136.3 1204.5,1128.7 1205.3,1132.4 1206.2,1133.5 1207.0,1131.6 1207.9,1130.6 1208.7,1130.9 1209.6,1135.7 1210.4,1133.2 1211.3,1133.0 1212.1,1128.4 1213.0,1128.7 1213.8,1131.2 1214.7,1123.7 1215.5,1133.0 1216.4,1132.7 1217.2,1133.7 1218.1,1131.2 1218.9,1133.0 1219.8,1128.0 1220.6,1132.4 1221.5,1132.7 1222.3,1133.6 1223.2,1134.8 1224.0,1135.2 1224.9,1128.8 1225.7,1133.7 1226.6,1130.8 1227.4,1129.7 1228.3,1129.8 1229.1,1130.2 1230.0,1135.6 1230.8,1134.6 1231.7,1129.0 1232.5,1118.8 1233.4,1132.7 1234.2,1135.1 1235.1,1133.5 1235.9,1120.7 1236.8,1130.0 1237.6,1130.7 1238.5,1124.5 1239.3,1134.0 1240.2,1138.9 1241.0,1133.4 1241.9,1130.9 1242.7,1130.5 1243.6,1136.2 1244.4,1139.1 1245.3,1133.9 1246.1,1133.5 1247.0,1131.7 1247.8,1136.7 1248.7,1132.9 1249.5,1132.6 1250.4,1126.7 1251.2,1131.2 1252.1,1131.5 1252.9,1129.9 1253.8,1122.3 1254.6,1129.4 1255.5,1122.7 1256.3,1128.1 1257.2,1128.7 1258.0,1126.1 1258.9,1126.7 1259.7,1122.6 1260.6,1125.0 1261.4,1120.9 1262.3,1118.4 1263.1,1123.5 1264.0,1123.2 1264.8,1120.9 1265.7,1117.8 1266.5,1115.6 1267.4,1121.5 1268.2,1105.1 1269.1,1113.0 1269.9,1111.5 1270.8,1114.4 1271.6,1102.7 1272.5,1106.2 1273.3,1098.3 1274.2,1108.4 1275.0,1099.3 1275.9,1096.4 1276.7,1096.9 1277.6,1095.4 1278.4,1091.8 1279.3,1090.0 1280.1,1079.7 1281.0,1083.2 1281.8,1077.5 1282.7,1072.4 1283.5,1069.5 1284.4,1072.4 1285.2,1071.3 1286.1,1088.7 1286.9,1083.1 1287.8,1084.7 1288.6,1088.6 1289.5,1091.1 1290.3,1098.3 1291.2,1101.6 1292.0,1104.4 1292.9,1104.5 1293.7,1110.9 1294.6,1109.7 1295.4,1098.4 1296.3,1104.7 1297.1,1105.1 1298.0,1109.8 1298.8,1110.5 1299.7,1120.5 1300.5,1117.0 1301.4,1113.3 1302.2,1120.3 1303.1,1113.1 1303.9,1113.6 1304.8,1118.6 1305.6,1130.5 1306.5,1111.9 1307.3,1118.9 1308.2,1123.9 1309.0,1124.7 1309.9,1122.4 1310.7,1130.3 1311.6,1132.1 1312.4,1123.9 1313.3,1125.0 1314.1,1126.1 1315.0,1130.4 1315.8,1129.5 1316.7,1125.2 1317.5,1130.5 1318.4,1131.9 1319.2,1132.2 1320.1,1125.7 1320.9,1128.0 1321.8,1133.4 1322.6,1130.2 1323.5,1141.8 1324.3,1127.2 1325.2,1130.8 1326.0,1128.0 1326.9,1132.1 1327.7,1129.4 1328.6,1124.3 1329.4,1126.8 1330.3,1123.0 1331.1,1128.2 1332.0,1139.7 1332.8,1121.3 1333.7,1131.0 1334.5,1127.8 1335.4,1128.7 1336.2,1131.9 1337.1,1128.9 1337.9,1127.5 1338.8,1126.2 1339.6,1126.0 1340.5,1117.7 1341.3,1121.2 1342.2,1121.1 1343.0,1118.5 1343.9,1126.9 1344.7,1122.4 1345.6,1128.1 1346.4,1116.4 1347.3,1120.4 1348.1,1126.8 1349.0,1112.7 1349.8,1116.9 1350.7,1113.6 1351.5,1114.7 1352.4,1111.6 1353.2,1113.8 1354.1,1111.2 1354.9,1106.2 1355.8,1102.6 1356.6,1105.4 1357.5,1111.5 1358.3,1100.6 1359.2,1101.3 1360.0,1096.1 1360.9,1087.9 1361.7,1087.1 1362.6,1081.0 1363.4,1071.3 1364.3,1066.8 1365.1,1058.0 1366.0,1044.2 1366.8,1031.5 1367.7,1012.1 1368.5,1004.6 1369.4,988.6 1370.2,972.2 1371.1,951.8 1371.9,936.4 1372.8,919.0 1373.6,910.8 1374.5,903.8 1375.3,908.4 1376.2,911.3 1377.0,931.5 1377.9,946.0 1378.7,957.5 1379.6,978.9 1380.4,994.4 1381.3,1003.4 1382.1,1015.0 1383.0,1035.6 1383.8,1042.4 1384.7,1048.1 1385.5,1056.2 1386.4,1063.6 1387.2,1063.9 1388.1,1076.7 1388.9,1066.6 1389.8,1088.2 1390.6,1084.9 1391.5,1084.9 1392.3,1088.5 1393.2,1101.5 1394.0,1090.7 1394.9,1099.0 1395.7,1109.0 1396.6,1101.8 1397.4,1110.0 1398.3,1104.9 1399.1,1113.8 1400.0,1109.0 1400.8,1114.0 1401.7,1120.2 1402.5,1116.6 1403.4,1120.4 1404.2,1117.0 1405.1,1121.1 1405.9,1117.4 1406.8,1122.0 1407.6,1118.1 1408.5,1122.7 1409.3,1126.5 1410.2,1127.2 1411.0,1130.9 1411.9,1122.8 1412.7,1129.2 1413.6,1127.4 1414.4,1128.9 1415.3,1134.6 1416.1,1135.9 1417.0,1133.2 1417.8,1134.2 1418.7,1129.8 1419.5,1122.9 1420.4,1124.9 1421.2,1130.6 1422.1,1133.4 1422.9,1133.0 1423.8,1133.1 1424.6,1137.2 1425.5,1134.5 1426.3,1131.6 1427.2,1126.1 1428.0,1135.6 1428.9,1129.2 1429.7,1128.2 1430.6,1126.2 1431.4,1131.2 1432.3,1130.5 1433.1,1131.8 1434.0,1128.8 1434.8,1133.1 1435.7,1131.8 1436.5,1133.0 1437.4,1131.3 1438.2,1132.6 1439.1,1131.2 1439.9,1138.9 1440.8,1136.0 1441.6,1134.4 1442.5,1132.7 1443.3,1132.8 1444.2,1135.3 1445.0,1132.9 1445.9,1138.6 1446.7,1135.7 1447.6,1136.6 1448.4,1138.7 1449.3,1140.1 1450.1,1138.9 1451.0,1133.7 1451.8,1135.1 1452.7,1148.8 1453.5,1126.0 1454.4,1130.7 1455.2,1136.5 1456.1,1132.9 1456.9,1133.1 1457.8,1129.3 1458.6,1132.7 1459.5,1136.9 1460.3,1138.4 1461.2,1135.8 1462.0,1138.0 1462.9,1138.6 1463.7,1135.9 1464.6,1134.6 1465.4,1132.3 1466.3,1131.4 1467.1,1134.8 1468.0,1132.8 1468.8,1130.9 1469.7,1134.3 1470.5,1129.1 1471.4,1134.2 1472.2,1134.1 1473.1,1136.7 1473.9,1134.5 1474.8,1139.9 1475.6,1133.9 1476.5,1136.7 1477.3,1133.4 1478.2,1137.5 1479.0,1130.5 1479.9,1135.2 1480.7,1134.8 1481.6,1126.3 1482.4,1130.3 1483.3,1133.4 1484.1,1124.6 1485.0,1126.2 1485.8,1127.2 1486.7,1125.4 1487.5,1130.2 1488.4,1123.1 1489.2,1120.4 1490.1,1119.8 1490.9,1120.6 1491.8,1112.0 1492.6,1111.1 1493.5,1111.6 1494.3,1118.5 1495.2,1113.1 1496.0,1109.5 1496.9,1115.7 1497.7,1109.3 1498.6,1099.9 1499.4,1095.7 1500.3,1103.3 1501.1,1089.5 1502.0,1083.2 1502.8,1075.4 1503.7,1076.9 1504.5,1057.8 1505.4,1060.8 1506.2,1045.0 1507.1,1037.9 1507.9,1017.5 1508.8,1006.0 1509.6,989.9 1510.5,963.5 1511.3,947.5 1512.2,923.5 1513.0,903.0 1513.9,871.5 1514.7,848.6 1515.6,835.4 1516.4,823.9 1517.3,824.6 1518.1,831.8 1519.0,844.4 1519.8,870.4 1520.7,892.4 1521.5,915.5 1522.4,937.5 1523.2,963.2 1524.1,977.6 1524.9,1002.2 1525.8,1019.1 1526.6,1035.9 1527.5,1047.8 1528.3,1048.7 1529.2,1061.9 1530.0,1070.4 1530.9,1080.7 1531.7,1086.7 1532.6,1083.4 1533.4,1093.4 1534.3,1099.5 1535.1,1099.0 1536.0,1105.6 1536.8,1109.0 1537.7,1104.6 1538.5,1111.9 1539.4,1114.8 1540.2,1120.6 1541.1,1117.4 1541.9,1123.0 1542.8,1129.3 1543.6,1121.9 1544.5,1125.2 1545.3,1125.1 1546.2,1125.6 1547.0,1135.0 1547.9,1128.7 1548.7,1136.6 1549.6,1131.5 1550.4,1138.2 1551.3,1134.9 1552.1,1141.2 1553.0,1133.9 1553.8,1133.2 1554.7,1145.5 1555.5,1139.4 1556.4,1136.2 1557.2,1133.7 1558.1,1145.1 1558.9,1140.7 1559.8,1141.7 1560.6,1140.8 1561.5,1138.0 1562.3,1142.9 1563.2,1143.8 1564.0,1141.6 1564.9,1146.5 1565.7,1147.3 1566.6,1142.3 1567.4,1145.7 1568.3,1145.3 1569.1,1146.6 1570.0,1151.1 1570.8,1136.2 1571.7,1143.7 1572.5,1148.2 1573.4,1150.1 1574.2,1130.7 1575.1,1147.8 1575.9,1150.7 1576.8,1146.4 1577.6,1148.0 1578.5,1145.9 1579.3,1144.4 1580.2,1145.1 1581.0,1139.1 1581.9,1150.4 1582.7,1148.8 1583.6,1147.5 1584.4,1145.5 1585.3,1150.0 1586.1,1145.4 1587.0,1142.2 1587.8,1143.4 1588.7,1139.7 1589.5,1144.9 1590.4,1143.0 1591.2,1145.2 1592.1,1142.0 1592.9,1147.6 1593.8,1143.5 1594.6,1151.6 1595.5,1149.1 1596.3,1146.1 1597.2,1145.2 1598.0,1145.9 1598.9,1146.7 1599.7,1141.9 1600.6,1146.2 1601.4,1144.0 1602.3,1150.2 1603.1,1147.1 1604.0,1148.4 1604.8,1148.9 1605.7,1151.1 1606.5,1142.7 1607.4,1146.7 1608.2,1152.2 1609.1,1154.3 1609.9,1152.2 1610.8,1153.9 1611.6,1151.4 1612.5,1137.5 1613.3,1153.4 1614.2,1146.2 1615.0,1151.2 1615.9,1148.0 1616.7,1153.9 1617.6,1147.4 1618.4,1153.5 1619.3,1146.7 1620.1,1147.9 1621.0,1146.3 1621.8,1150.8 1622.7,1154.1 1623.5,1142.8 1624.4,1148.0 1625.2,1145.3 1626.1,1155.3 1626.9,1151.7 1627.8,1152.4 1628.6,1154.4 1629.5,1153.3 1630.3,1149.3 1631.2,1152.7 1632.0,1153.2 1632.9,1146.3 1633.7,1150.8 1634.6,1146.7 1635.4,1156.6 1636.3,1155.7 1637.1,1165.7 1638.0,1162.1 1638.8,1153.8 1639.7,1155.0 1640.5,1153.7 1641.4,1149.5 1642.2,1153.1 1643.1,1151.7 1643.9,1152.2 1644.8,1145.9 1645.6,1145.9 1646.5,1157.5 1647.3,1147.2 1648.2,1150.2 1649.0,1151.8 1649.9,1152.6 1650.7,1145.3 1651.6,1158.8 1652.4,1148.7 1653.3,1149.0 1654.1,1153.2 1655.0,1155.7 1655.8,1154.2 1656.7,1150.9 1657.5,1153.9 1658.4,1156.0 1659.2,1150.8 1660.1,1150.7 1660.9,1152.5 1661.8,1146.3 1662.6,1148.3 1663.5,1147.3 1664.3,1148.0 1665.2,1144.5 1666.0,1151.4 1666.9,1154.2 1667.7,1147.9 1668.6,1145.9 1669.4,1145.6 1670.3,1147.5 1671.1,1157.7 1672.0,1145.9 1672.8,1152.3 1673.7,1148.3 1674.5,1151.6 1675.4,1148.3 1676.2,1149.0 1677.1,1153.3 1677.9,1150.7 1678.8,1147.2 1679.6,1149.2 1680.5,1149.5 1681.3,1144.6 1682.2,1153.9 1683.0,1149.0 1683.9,1150.3 1684.7,1148.7 1685.6,1141.4 1686.4,1144.2 1687.3,1148.7 1688.1,1151.6 1689.0,1147.2 1689.8,1150.7 1690.7,1151.3 1691.5,1152.5 1692.4,1155.4 1693.2,1146.8 1694.1,1146.2 1694.9,1146.1 1695.8,1144.2 1696.6,1147.2 1697.5,1148.4 1698.3,1149.3 1699.2,1150.5 1700.0,1149.0 1700.9,1153.3 1701.7,1151.9 1702.6,1147.5 1703.4,1151.9 1704.3,1146.9 1705.1,1142.6 1706.0,1146.0 1706.8,1144.9 1707.7,1144.0 1708.5,1142.4 1709.4,1144.8 1710.2,1143.2 1711.1,1145.7 1711.9,1144.3 1712.8,1147.6 1713.6,1138.2 1714.5,1146.3 1715.3,1154.6 1716.2,1139.2 1717.0,1140.2 1717.9,1139.1 1718.7,1144.5 1719.6,1137.6 1720.4,1131.7 1721.3,1133.0 1722.1,1139.1 1723.0,1137.3 1723.8,1140.0 1724.7,1133.3 1725.5,1135.3 1726.4,1135.6 1727.2,1130.4 1728.1,1128.9 1728.9,1129.1 1729.8,1129.2 1730.6,1128.4 1731.5,1126.8 1732.3,1126.8 1733.2,1127.1 1734.0,1132.5 1734.9,1130.7 1735.7,1133.5 1736.6,1132.4 1737.4,1135.8 1738.3,1139.0 1739.1,1133.7 1740.0,1137.8 1740.8,1138.0 1741.7,1131.6 1742.5,1142.5 1743.4,1146.3 1744.2,1137.7 1745.1,1141.3 1745.9,1149.1 1746.8,1140.2 1747.6,1143.8 1748.5,1146.1 1749.3,1145.7 1750.2,1150.4 1751.0,1138.7 1751.9,1142.2 1752.7,1143.5 1753.6,1148.5 1754.4,1141.5 1755.3,1148.3 1756.1,1142.1 1757.0,1146.7 1757.8,1149.3 1758.7,1129.2 1759.5,1148.8 1760.4,1144.4 1761.2,1145.8 1762.1,1142.5 1762.9,1145.9 1763.8,1147.2 1764.6,1146.2 1765.5,1148.3 1766.3,1142.8 1767.2,1144.5 1768.0,1146.6 1768.9,1134.1 1769.7,1159.3 1770.6,1144.4 1771.4,1141.3 1772.3,1150.1 1773.1,1146.2 1774.0,1147.2 1774.8,1143.6 1775.7,1144.0 1776.5,1143.9 1777.4,1140.9 1778.2,1144.8 1779.1,1143.7 1779.9,1141.4 1780.8,1145.9 1781.6,1145.1 1782.5,1148.2 1783.3,1140.2 1784.2,1139.8 1785.0,1139.1 1785.9,1140.8 1786.7,1139.6 1787.6,1140.5 1788.4,1132.9 1789.3,1135.9 1790.1,1132.3 1791.0,1130.7 1791.8,1137.3 1792.7,1128.4 1793.5,1124.0 1794.4,1124.9 1795.2,1124.5 1796.1,1122.2 1796.9,1112.6 1797.8,1109.0 1798.6,1104.9 1799.5,1112.5 1800.3,1102.5 1801.2,1096.2 1802.0,1094.1 1802.9,1092.4 1803.7,1090.9 1804.6,1086.0 1805.4,1085.3 1806.3,1085.0 1807.1,1083.7 1808.0,1086.3 1808.8,1087.1 1809.7,1092.2 1810.5,1091.6 1811.4,1103.4 1812.2,1100.1 1813.1,1105.8 1813.9,1112.5 1814.8,1110.1 1815.6,1109.5 1816.5,1116.3 1817.3,1110.1 1818.2,1120.7 1819.0,1114.5 1819.9,1115.5 1820.7,1118.5 1821.6,1113.1 1822.4,1115.5 1823.3,1122.5 1824.1,1118.5 1825.0,1117.0 1825.8,1115.3 1826.7,1112.8 1827.5,1107.2 1828.4,1113.1 1829.2,1121.5 1830.1,1126.3 1830.9,1108.8 1831.8,1105.3 1832.6,1116.1 1833.5,1111.9 1834.3,1122.0 1835.2,1121.4 1836.0,1128.8 1836.9,1124.9 1837.7,1126.6 1838.6,1128.8 1839.4,1126.4 1840.3,1136.0 1841.1,1129.5 1842.0,1132.3 1842.8,1134.5 1843.7,1142.0 1844.5,1138.4 1845.4,1137.4 1846.2,1142.9 1847.1,1139.6 1847.9,1137.1 1848.8,1140.3 1849.6,1138.2 1850.5,1138.3 1851.3,1141.1 1852.2,1142.8 1853.0,1145.7 1853.9,1143.0 1854.7,1143.9 1855.6,1144.9 1856.4,1144.9 1857.3,1143.4 1858.1,1146.6 1859.0,1151.1 1859.8,1141.9 1860.7,1145.7 1861.5,1157.3 1862.4,1149.9 1863.2,1146.7 1864.1,1146.0 1864.9,1149.3 1865.8,1152.0 1866.6,1150.4 1867.5,1150.6 1868.3,1151.0 1869.2,1154.1 1870.0,1152.0 1870.9,1142.4 1871.7,1154.2 1872.6,1146.1 1873.4,1146.5 1874.3,1157.7 1875.1,1150.8 1876.0,1151.7 1876.8,1145.8 1877.7,1148.9 1878.5,1152.9 1879.4,1147.1 1880.2,1151.8 1881.1,1140.4 1881.9,1131.2 1882.8,1147.8 1883.6,1157.3 1884.5,1155.8 1885.3,1150.2 1886.2,1148.5 1887.0,1152.4 1887.9,1151.0 1888.7,1145.1 1889.6,1154.4 1890.4,1146.6 1891.3,1137.9 1892.1,1149.5 1893.0,1148.8 1893.8,1148.6 1894.7,1153.3 1895.5,1145.5 1896.4,1151.4 1897.2,1140.5 1898.1,1149.9 1898.9,1145.7 1899.8,1150.7 1900.6,1139.5 1901.5,1145.6 1902.3,1144.9 1903.2,1142.0 1904.0,1148.3 1904.9,1138.7 1905.7,1149.2 1906.6,1149.7 1907.4,1151.1 1908.3,1137.2 1909.1,1146.8 1910.0,1145.6 1910.8,1143.2 1911.7,1143.1 1912.5,1143.3 1913.4,1132.4 1914.2,1143.8 1915.1,1142.2 1915.9,1143.6 1916.8,1146.3 1917.6,1147.3 1918.5,1143.3 1919.3,1142.1 1920.2,1139.6 1921.0,1138.4 1921.9,1138.3 1922.7,1138.9 1923.6,1143.8 1924.4,1140.6 1925.3,1138.0 1926.1,1134.1 1927.0,1128.2 1927.8,1135.4 1928.7,1133.1 1929.5,1130.4 1930.4,1128.6 1931.2,1132.1 1932.1,1132.2 1932.9,1131.1 1933.8,1128.9 1934.6,1132.5 1935.5,1127.7 1936.3,1129.1 1937.2,1129.0 1938.0,1131.9 1938.9,1134.4 1939.7,1133.0 1940.6,1128.5 1941.4,1137.0 1942.3,1133.9 1943.1,1137.0 1944.0,1134.6 1944.8,1140.1 1945.7,1140.5 1946.5,1136.1 1947.4,1138.4 1948.2,1138.0 1949.1,1134.3 1949.9,1134.7 1950.8,1136.5 1951.6,1140.3 1952.5,1138.3 1953.3,1143.6 1954.2,1139.6 1955.0,1142.8 1955.9,1144.4 1956.7,1131.2 1957.6,1129.2 1958.4,1139.0 1959.3,1141.0 1960.1,1141.8 1961.0,1140.1 1961.8,1143.4 1962.7,1141.4 1963.5,1146.2 1964.4,1143.3 1965.2,1137.4 1966.1,1139.3 1966.9,1144.1 1967.8,1139.2 1968.6,1136.9 1969.5,1151.5 1970.3,1142.4 1971.2,1144.7 1972.0,1140.7 1972.9,1142.3 1973.7,1135.7 1974.6,1139.3 1975.4,1141.9 1976.3,1140.2 1977.1,1145.7 1978.0,1140.2 1978.8,1147.7 1979.7,1145.6 1980.5,1147.6 1981.4,1141.7 1982.2,1142.3 1983.1,1148.0 1983.9,1148.0 1984.8,1142.8 1985.6,1139.3 1986.5,1140.0 1987.3,1141.7 1988.2,1135.7 1989.0,1144.5 1989.9,1149.4 1990.7,1140.8 1991.6,1143.7 1992.4,1142.8 1993.3,1147.7 1994.1,1146.4 1995.0,1140.1 1995.8,1140.6 1996.7,1141.9 1997.5,1145.0 1998.4,1145.1 1999.2,1145.2 2000.1,1147.1 2000.9,1144.2 2001.8,1143.3 2002.6,1145.7 2003.5,1147.4 2004.3,1145.8 2005.2,1143.5 2006.0,1144.6 2006.9,1140.0 2007.7,1142.6 2008.6,1144.3 2009.4,1146.9 2010.3,1144.6 2011.1,1142.9 2012.0,1142.6 2012.8,1151.7 2013.7,1141.9 2014.5,1145.3 2015.4,1141.1 2016.2,1146.0 2017.1,1145.9 2017.9,1147.2 2018.8,1139.2 2019.6,1147.4 2020.5,1146.5 2021.3,1144.9 2022.2,1142.9 2023.0,1142.3 2023.9,1153.4 2024.7,1140.7 2025.6,1142.9 2026.4,1141.9 2027.3,1153.3 2028.1,1147.2 2029.0,1143.9 2029.8,1148.8 2030.7,1147.3 2031.5,1150.2 2032.4,1144.7 2033.2,1146.8 2034.1,1143.1 2034.9,1142.8 2035.8,1149.1 2036.6,1159.7 2037.5,1148.0 2038.3,1144.1 2039.2,1146.1 2040.0,1148.8 2040.9,1152.8 2041.7,1148.8 2042.6,1140.1 2043.4,1146.8 2044.3,1147.6 2045.1,1143.3 2046.0,1142.1 2046.8,1146.3 2047.7,1143.9 2048.5,1146.3 2049.4,1141.7 2050.2,1144.0 2051.1,1144.7 2051.9,1155.3 2052.8,1151.0 2053.6,1130.7 2054.5,1146.1 2055.3,1149.4 2056.2,1148.3 2057.0,1144.2 2057.9,1146.1 2058.7,1144.3 2059.6,1150.2 2060.4,1143.2 2061.3,1146.8 2062.1,1144.4 2063.0,1145.3 2063.8,1155.4 2064.7,1144.1 2065.5,1143.2 2066.4,1145.3 2067.2,1143.4 2068.1,1150.2 2068.9,1159.5 2069.8,1147.3 2070.6,1149.9 2071.5,1144.6 2072.3,1143.8 2073.2,1144.5 2074.0,1133.0 2074.9,1143.2 2075.7,1156.4 2076.6,1149.7 2077.4,1142.5 2078.3,1148.3 2079.1,1149.9 2080.0,1146.0 2080.8,1142.4 2081.7,1152.4 2082.5,1144.4 2083.4,1137.5 2084.2,1149.1 2085.1,1155.8 2085.9,1148.4 2086.8,1143.1 2087.6,1142.8 2088.5,1142.5 2089.3,1147.4" stroke="#C070E6"/>
<polyline points="307.7,958.4 308.6,945.7 309.4,948.2 310.3,943.5 311.1,958.5 312.0,953.5 312.8,964.7 313.7,955.8 314.5,957.5 315.4,963.0 316.2,959.4 317.1,968.4 317.9,964.3 318.8,961.8 319.6,962.2 320.5,960.7 321.3,961.2 322.2,962.3 323.0,965.9 323.9,974.6 324.7,968.0 325.6,980.3 326.4,969.5 327.3,972.2 328.1,978.6 329.0,983.2 329.8,979.7 330.7,978.1 331.5,974.2 332.4,981.9 333.2,983.5 334.1,990.8 334.9,993.5 335.8,970.9 336.6,977.9 337.5,984.5 338.3,996.3 339.2,1007.1 340.0,987.1 340.9,978.6 341.7,985.2 342.6,990.6 343.4,991.5 344.3,1006.6 345.1,985.7 346.0,996.8 346.8,985.6 347.7,990.0 348.5,996.2 349.4,1001.0 350.2,992.9 351.1,997.6 351.9,983.7 352.8,1004.2 353.6,1009.3 354.5,999.0 355.3,1007.7 356.2,1003.4 357.0,1009.5 357.9,1002.3 358.7,999.5 359.6,1008.5 360.4,1001.6 361.3,1008.1 362.1,1014.9 363.0,1011.8 363.8,1010.8 364.7,1007.1 365.5,1005.7 366.4,997.4 367.2,1007.0 368.1,1021.4 368.9,1014.9 369.8,1011.9 370.6,1001.1 371.5,997.6 372.3,1013.0 373.2,1006.6 374.0,1006.4 374.9,1004.0 375.7,1006.8 376.6,1007.8 377.4,1009.0 378.3,1001.6 379.1,997.3 380.0,991.1 380.8,999.4 381.7,994.9 382.5,990.2 383.4,987.8 384.2,977.8 385.1,983.5 385.9,974.0 386.8,984.5 387.6,962.7 388.5,952.2 389.3,949.4 390.2,939.4 391.0,944.1 391.9,936.9 392.7,936.3 393.6,953.8 394.4,965.7 395.3,967.0 396.1,967.8 397.0,980.3 397.8,994.7 398.7,991.7 399.5,1002.5 400.4,1012.8 401.2,1016.0 402.1,1015.0 402.9,1004.8 403.8,1016.6 404.6,1022.4 405.5,1043.0 406.3,1036.8 407.2,1033.3 408.0,1039.8 408.9,1034.7 409.7,1031.7 410.6,1042.0 411.4,1038.1 412.3,1036.7 413.1,1027.5 414.0,1048.2 414.8,1044.1 415.7,1040.1 416.5,1048.6 417.4,1039.3 418.2,1049.1 419.1,1051.8 419.9,1053.6 420.8,1055.6 421.6,1051.8 422.5,1057.3 423.3,1049.5 424.2,1054.5 425.0,1061.4 425.9,1071.0 426.7,1055.5 427.6,1055.7 428.4,1072.2 429.3,1069.5 430.1,1064.7 431.0,1078.7 431.8,1065.3 432.7,1061.5 433.5,1067.2 434.4,1061.2 435.2,1066.1 436.1,1074.6 436.9,1071.4 437.8,1071.3 438.6,1090.4 439.5,1068.9 440.3,1069.8 441.2,1072.5 442.0,1067.9 442.9,1078.6 443.7,1073.5 444.6,1075.6 445.4,1083.2 446.3,1083.5 447.1,1077.1 448.0,1077.6 448.8,1078.4 449.7,1082.2 450.5,1080.1 451.4,1077.3 452.2,1079.8 453.1,1078.5 453.9,1085.9 454.8,1079.3 455.6,1080.7 456.5,1080.2 457.3,1076.9 458.2,1083.5 459.0,1084.9 459.9,1082.4 460.7,1085.5 461.6,1093.4 462.4,1093.3 463.3,1081.7 464.1,1093.9 465.0,1101.0 465.8,1093.6 466.7,1077.3 467.5,1088.1 468.4,1092.5 469.2,1097.3 470.1,1086.7 470.9,1087.5 471.8,1097.5 472.6,1090.9 473.5,1092.2 474.3,1089.5 475.2,1084.7 476.0,1112.5 476.9,1094.4 477.7,1096.9 478.6,1093.4 479.4,1097.1 480.3,1099.3 481.1,1096.8 482.0,1095.0 482.8,1095.0 483.7,1092.6 484.5,1113.0 485.4,1107.0 486.2,1097.7 487.1,1108.5 487.9,1099.8 488.8,1094.2 489.6,1100.2 490.5,1104.5 491.3,1107.0 492.2,1115.8 493.0,1105.6 493.9,1111.1 494.7,1115.7 495.6,1106.2 496.4,1104.9 497.3,1101.9 498.1,1098.7 499.0,1108.6 499.8,1108.7 500.7,1113.6 501.5,1103.4 502.4,1106.0 503.2,1105.0 504.1,1109.5 504.9,1114.8 505.8,1112.5 506.6,1107.6 507.5,1107.0 508.3,1118.3 509.2,1110.2 510.0,1114.3 510.9,1102.5 511.7,1118.0 512.6,1112.2 513.4,1114.0 514.3,1112.5 515.1,1116.1 516.0,1120.3 516.8,1119.4 517.7,1117.5 518.5,1106.1 519.4,1122.2 520.2,1117.2 521.1,1114.6 521.9,1126.6 522.8,1123.7 523.6,1121.4 524.5,1128.2 525.3,1127.2 526.2,1124.7 527.0,1117.2 527.9,1117.0 528.7,1121.3 529.6,1117.2 530.4,1125.0 531.3,1118.8 532.1,1122.4 533.0,1120.6 533.8,1121.9 534.7,1121.7 535.5,1120.3 536.4,1135.2 537.2,1126.9 538.1,1143.2 538.9,1126.7 539.8,1123.0 540.6,1116.8 541.5,1126.7 542.3,1130.1 543.2,1120.8 544.0,1130.8 544.9,1135.9 545.7,1135.2 546.6,1126.5 547.4,1133.0 548.3,1134.2 549.1,1132.2 550.0,1131.2 550.8,1129.5 551.7,1134.5 552.5,1140.4 553.4,1131.8 554.2,1138.2 555.1,1134.7 555.9,1137.1 556.8,1122.9 557.6,1137.7 558.5,1135.8 559.3,1141.4 560.2,1136.2 561.0,1139.3 561.9,1138.3 562.7,1136.1 563.6,1133.9 564.4,1146.6 565.3,1140.9 566.1,1132.4 567.0,1142.2 567.8,1146.8 568.7,1140.6 569.5,1150.8 570.4,1138.8 571.2,1144.8 572.1,1135.8 572.9,1143.7 573.8,1136.0 574.6,1141.3 575.5,1145.8 576.3,1145.8 577.2,1145.9 578.0,1136.8 578.9,1146.8 579.7,1148.4 580.6,1143.1 581.4,1145.3 582.3,1145.5 583.1,1156.0 584.0,1145.6 584.8,1145.3 585.7,1152.2 586.5,1139.3 587.4,1154.7 588.2,1155.0 589.1,1150.5 589.9,1140.3 590.8,1154.5 591.6,1153.0 592.5,1149.6 593.3,1150.8 594.2,1159.6 595.0,1148.9 595.9,1143.4 596.7,1150.6 597.6,1151.5 598.4,1157.5 599.3,1155.0 600.1,1148.5 601.0,1152.7 601.8,1147.5 602.7,1159.7 603.5,1149.4 604.4,1149.6 605.2,1155.4 606.1,1139.5 606.9,1153.5 607.8,1154.4 608.6,1156.1 609.5,1158.2 610.3,1162.8 611.2,1152.4 612.0,1147.2 612.9,1157.5 613.7,1157.1 614.6,1148.6 615.4,1155.0 616.3,1160.4 617.1,1152.1 618.0,1155.2 618.8,1162.9 619.7,1157.5 620.5,1158.6 621.4,1155.4 622.2,1155.6 623.1,1154.6 623.9,1154.1 624.8,1156.6 625.6,1159.3 626.5,1155.0 627.3,1169.5 628.2,1154.9 629.0,1158.1 629.9,1159.1 630.7,1163.0 631.6,1149.8 632.4,1153.6 633.3,1151.3 634.1,1153.1 635.0,1158.6 635.8,1151.5 636.7,1157.3 637.5,1158.9 638.4,1155.2 639.2,1161.0 640.1,1153.3 640.9,1153.4 641.8,1155.7 642.6,1159.8 643.5,1147.3 644.3,1155.9 645.2,1158.6 646.0,1162.2 646.9,1156.4 647.7,1148.2 648.6,1159.1 649.4,1155.9 650.3,1153.6 651.1,1161.7 652.0,1166.1 652.8,1150.7 653.7,1157.9 654.5,1169.8 655.4,1154.8 656.2,1162.9 657.1,1166.6 657.9,1159.3 658.8,1152.2 659.6,1159.4 660.5,1160.2 661.3,1158.7 662.2,1149.6 663.0,1148.7 663.9,1146.6 664.7,1148.8 665.6,1156.3 666.4,1149.4 667.3,1151.8 668.1,1146.1 669.0,1153.1 669.8,1149.8 670.7,1144.7 671.5,1140.7 672.4,1136.6 673.2,1132.8 674.1,1116.9 674.9,1117.3 675.8,1115.6 676.6,1122.0 677.5,1116.8 678.3,1108.0 679.2,1087.1 680.0,1096.9 680.9,1086.5 681.7,1074.7 682.6,1077.3 683.4,1060.0 684.3,1052.7 685.1,1020.3 686.0,1017.9 686.8,1000.6 687.7,981.5 688.5,956.2 689.4,937.1 690.2,919.0 691.1,902.8 691.9,892.2 692.8,897.5 693.6,909.5 694.5,923.2 695.3,939.6 696.2,964.1 697.0,984.7 697.9,1014.0 698.7,1029.7 699.6,1045.2 700.4,1065.3 701.3,1075.5 702.1,1092.5 703.0,1091.6 703.8,1109.2 704.7,1122.1 705.5,1128.8 706.4,1138.4 707.2,1136.2 708.1,1140.7 708.9,1157.6 709.8,1148.6 710.6,1124.6 711.5,1168.2 712.3,1150.2 713.2,1151.9 714.0,1151.0 714.9,1145.2 715.7,1155.2 716.6,1150.0 717.4,1164.0 718.3,1156.2 719.1,1162.2 720.0,1159.8 720.8,1160.3 721.7,1159.0 722.5,1155.1 723.4,1160.3 724.2,1163.4 725.1,1160.0 725.9,1171.9 726.8,1165.8 727.6,1167.3 728.5,1184.6 729.3,1163.3 730.2,1167.7 731.0,1174.6 731.9,1170.4 732.7,1175.5 733.6,1171.7 734.4,1174.1 735.3,1178.2 736.1,1168.8 737.0,1173.7 737.8,1184.1 738.7,1171.3 739.5,1188.3 740.4,1176.1 741.2,1177.5 742.1,1171.0 742.9,1181.8 743.8,1172.3 744.6,1179.9 745.5,1178.5 746.3,1176.1 747.2,1176.1 748.0,1180.0 748.9,1177.0 749.7,1177.8 750.6,1177.6 751.4,1177.3 752.3,1177.2 753.1,1178.9 754.0,1185.0 754.8,1177.4 755.7,1179.0 756.5,1179.7 757.4,1180.0 758.2,1180.4 759.1,1176.1 759.9,1181.2 760.8,1178.1 761.6,1181.6 762.5,1184.7 763.3,1171.1 764.2,1179.5 765.0,1169.5 765.9,1176.3 766.7,1172.2 767.6,1176.9 768.4,1176.8 769.3,1179.3 770.1,1176.5 771.0,1176.7 771.8,1176.5 772.7,1171.3 773.5,1173.6 774.4,1182.8 775.2,1175.5 776.1,1163.5 776.9,1168.6 777.8,1174.0 778.6,1176.3 779.5,1170.1 780.3,1173.0 781.2,1176.0 782.0,1169.8 782.9,1159.9 783.7,1167.6 784.6,1165.1 785.4,1171.6 786.3,1157.2 787.1,1157.0 788.0,1165.9 788.8,1165.8 789.7,1160.3 790.5,1183.3 791.4,1158.4 792.2,1154.3 793.1,1147.4 793.9,1150.6 794.8,1151.7 795.6,1163.6 796.5,1157.4 797.3,1152.5 798.2,1143.2 799.0,1136.7 799.9,1141.2 800.7,1144.6 801.6,1137.0 802.4,1130.0 803.3,1120.7 804.1,1116.9 805.0,1118.5 805.8,1111.7 806.7,1109.9 807.5,1097.0 808.4,1082.0 809.2,1088.9 810.1,1076.0 810.9,1077.2 811.8,1059.9 812.6,1035.9 813.5,1023.2 814.3,1012.0 815.2,996.1 816.0,974.7 816.9,948.6 817.7,908.6 818.6,884.4 819.4,844.7 820.3,783.4 821.1,742.3 822.0,681.3 822.8,608.9 823.7,530.9 824.5,449.2 825.4,364.4 826.2,286.3 827.1,235.5 827.9,229.0 828.8,233.8 829.6,284.6 830.5,353.0 831.3,432.5 832.2,516.1 833.0,593.6 833.9,678.6 834.7,721.5 835.6,794.5 836.4,849.6 837.3,888.5 838.1,909.6 839.0,955.6 839.8,967.4 840.7,999.9 841.5,1019.6 842.4,1032.6 843.2,1052.4 844.1,1072.1 844.9,1070.1 845.8,1081.9 846.6,1101.9 847.5,1098.6 848.3,1111.6 849.2,1113.6 850.0,1122.9 850.9,1115.4 851.7,1129.7 852.6,1136.2 853.4,1131.2 854.3,1137.9 855.1,1143.5 856.0,1138.9 856.8,1148.6 857.7,1141.8 858.5,1145.4 859.4,1140.7 860.2,1134.1 861.1,1139.4 861.9,1131.1 862.8,1136.4 863.6,1136.4 864.5,1136.4 865.3,1133.1 866.2,1120.9 867.0,1138.6 867.9,1128.6 868.7,1135.7 869.6,1133.1 870.4,1140.1 871.3,1143.5 872.1,1150.5 873.0,1154.3 873.8,1145.1 874.7,1160.4 875.5,1171.0 876.4,1168.7 877.2,1161.5 878.1,1168.9 878.9,1181.5 879.8,1187.2 880.6,1181.9 881.5,1191.1 882.3,1184.0 883.2,1191.6 884.0,1185.3 884.9,1193.4 885.7,1192.7 886.6,1196.5 887.4,1188.4 888.3,1210.7 889.1,1200.0 890.0,1204.3 890.8,1205.2 891.7,1202.4 892.5,1209.9 893.4,1207.3 894.2,1205.0 895.1,1206.8 895.9,1205.6 896.8,1205.4 897.6,1209.9 898.5,1214.5 899.3,1210.0 900.2,1207.1 901.0,1209.4 901.9,1202.9 902.7,1214.9 903.6,1211.3 904.4,1211.4 905.3,1217.6 906.1,1220.0 907.0,1213.3 907.8,1214.6 908.7,1217.2 909.5,1218.9 910.4,1214.0 911.2,1213.4 912.1,1214.5 912.9,1211.6 913.8,1218.4 914.6,1210.2 915.5,1215.0 916.3,1216.1 917.2,1216.2 918.0,1217.9 918.9,1214.7 919.7,1215.9 920.6,1212.3 921.4,1213.0 922.3,1219.5 923.1,1221.4 924.0,1216.3 924.8,1216.1 925.7,1220.3 926.5,1216.8 927.4,1223.0 928.2,1219.0 929.1,1216.3 929.9,1218.0 930.8,1221.1 931.6,1216.9 932.5,1210.4 933.3,1216.9 934.2,1216.3 935.0,1221.4 935.9,1218.9 936.7,1217.7 937.6,1228.1 938.4,1225.6 939.3,1220.3 940.1,1220.8 941.0,1218.6 941.8,1224.3 942.7,1228.1 943.5,1223.9 944.4,1219.3 945.2,1221.7 946.1,1228.6 946.9,1219.7 947.8,1214.3 948.6,1218.3 949.5,1227.2 950.3,1226.7 951.2,1227.1 952.0,1226.9 952.9,1222.4 953.7,1224.7 954.6,1225.1 955.4,1221.0 956.3,1227.0 957.1,1227.5 958.0,1220.1 958.8,1227.4 959.7,1227.2 960.5,1220.3 961.4,1227.9 962.2,1226.8 963.1,1221.8 963.9,1234.3 964.8,1227.9 965.6,1224.3 966.5,1226.7 967.3,1221.5 968.2,1224.5 969.0,1222.7 969.9,1226.1 970.7,1228.6 971.6,1225.2 972.4,1216.8 973.3,1222.0 974.1,1219.9 975.0,1227.0 975.8,1220.5 976.7,1230.4 977.5,1225.0 978.4,1219.7 979.2,1216.8 980.1,1225.8 980.9,1223.9 981.8,1217.9 982.6,1223.0 983.5,1224.6 984.3,1221.3 985.2,1226.0 986.0,1219.6 986.9,1222.4 987.7,1221.6 988.6,1223.3 989.4,1218.6 990.3,1216.8 991.1,1220.2 992.0,1213.9 992.8,1214.3 993.7,1215.6 994.5,1211.6 995.4,1208.2 996.2,1210.0 997.1,1212.8 997.9,1209.1 998.8,1212.3 999.6,1216.6 1000.5,1203.9 1001.3,1206.6 1002.2,1209.5 1003.0,1197.7 1003.9,1202.2 1004.7,1199.9 1005.6,1182.4 1006.4,1187.4 1007.3,1191.3 1008.1,1181.7 1009.0,1182.7 1009.8,1177.7 1010.7,1165.8 1011.5,1160.5 1012.4,1161.3 1013.2,1144.0 1014.1,1138.9 1014.9,1125.6 1015.8,1117.2 1016.6,1100.4 1017.5,1085.7 1018.3,1072.6 1019.2,1061.6 1020.0,1048.4 1020.9,1032.0 1021.7,1023.8 1022.6,1020.9 1023.4,1023.1 1024.3,1035.9 1025.1,1046.2 1026.0,1061.7 1026.8,1077.3 1027.7,1087.6 1028.5,1101.3 1029.4,1120.0 1030.2,1129.8 1031.1,1137.6 1031.9,1145.0 1032.8,1157.4 1033.6,1163.7 1034.5,1157.6 1035.3,1172.3 1036.2,1168.6 1037.0,1172.5 1037.9,1175.9 1038.7,1174.7 1039.6,1182.4 1040.4,1180.8 1041.3,1182.7 1042.1,1188.2 1043.0,1193.4 1043.8,1196.5 1044.7,1194.7 1045.5,1195.5 1046.4,1196.5 1047.2,1213.9 1048.1,1208.9 1048.9,1212.0 1049.8,1218.0 1050.6,1215.4 1051.5,1216.4 1052.3,1226.1 1053.2,1220.0 1054.0,1230.8 1054.9,1227.5 1055.7,1232.4 1056.6,1242.2 1057.4,1236.2 1058.3,1237.8 1059.1,1238.6 1060.0,1225.8 1060.8,1240.0 1061.7,1236.9 1062.5,1235.2 1063.4,1241.6 1064.2,1237.2 1065.1,1238.6 1065.9,1244.8 1066.8,1242.3 1067.6,1241.2 1068.5,1243.2 1069.3,1247.8 1070.2,1244.2 1071.0,1246.2 1071.9,1241.9 1072.7,1241.4 1073.6,1244.6 1074.4,1250.4 1075.3,1243.6 1076.1,1253.9 1077.0,1244.1 1077.8,1245.0 1078.7,1246.7 1079.5,1248.8 1080.4,1248.1 1081.2,1249.0 1082.1,1247.9 1082.9,1243.0 1083.8,1248.9 1084.6,1249.1 1085.5,1242.0 1086.3,1247.9 1087.2,1245.7 1088.0,1244.5 1088.9,1248.2 1089.7,1245.0 1090.6,1247.7 1091.4,1244.4 1092.3,1251.3 1093.1,1241.2 1094.0,1243.0 1094.8,1246.7 1095.7,1244.9 1096.5,1243.9 1097.4,1240.5 1098.2,1244.9 1099.1,1251.1 1099.9,1243.6 1100.8,1249.1 1101.6,1246.8 1102.5,1242.3 1103.3,1241.7 1104.2,1245.5 1105.0,1244.6 1105.9,1249.7 1106.7,1244.9 1107.6,1247.8 1108.4,1247.7 1109.3,1244.0 1110.1,1247.7 1111.0,1249.8 1111.8,1241.0 1112.7,1249.7 1113.5,1248.9 1114.4,1249.8 1115.2,1242.8 1116.1,1249.7 1116.9,1243.3 1117.8,1243.2 1118.6,1244.8 1119.5,1248.4 1120.3,1248.7 1121.2,1249.8 1122.0,1253.2 1122.9,1247.5 1123.7,1244.4 1124.6,1252.1 1125.4,1250.3 1126.3,1241.7 1127.1,1244.4 1128.0,1252.5 1128.8,1249.7 1129.7,1250.0 1130.5,1251.2 1131.4,1248.9 1132.2,1252.6 1133.1,1247.0 1133.9,1245.0 1134.8,1254.1 1135.6,1250.8 1136.5,1250.4 1137.3,1250.2 1138.2,1252.6 1139.0,1247.0 1139.9,1255.1 1140.7,1253.6 1141.6,1255.2 1142.4,1248.2 1143.3,1262.5 1144.1,1249.8 1145.0,1254.4 1145.8,1257.2 1146.7,1257.0 1147.5,1251.4 1148.4,1251.8 1149.2,1247.8 1150.1,1252.6 1150.9,1251.3 1151.8,1248.0 1152.6,1261.0 1153.5,1251.2 1154.3,1252.4 1155.2,1253.3 1156.0,1250.1 1156.9,1256.5 1157.7,1252.5 1158.6,1253.5 1159.4,1256.5 1160.3,1250.7 1161.1,1255.9 1162.0,1249.9 1162.8,1253.4 1163.7,1253.2 1164.5,1253.6 1165.4,1242.5 1166.2,1257.4 1167.1,1247.4 1167.9,1253.4 1168.8,1253.7 1169.6,1250.4 1170.5,1251.4 1171.3,1249.4 1172.2,1259.5 1173.0,1251.8 1173.9,1254.7 1174.7,1253.9 1175.6,1257.3 1176.4,1254.2 1177.3,1258.7 1178.1,1252.9 1179.0,1251.8 1179.8,1250.0 1180.7,1257.5 1181.5,1255.2 1182.4,1245.7 1183.2,1252.5 1184.1,1256.9 1184.9,1252.6 1185.8,1254.4 1186.6,1253.4 1187.5,1252.4 1188.3,1252.4 1189.2,1252.1 1190.0,1253.7 1190.9,1252.6 1191.7,1262.2 1192.6,1256.6 1193.4,1250.2 1194.3,1252.4 1195.1,1252.3 1196.0,1250.2 1196.8,1253.6 1197.7,1254.3 1198.5,1257.0 1199.4,1252.3 1200.2,1254.7 1201.1,1255.8 1201.9,1253.0 1202.8,1255.3 1203.6,1254.4 1204.5,1261.1 1205.3,1257.5 1206.2,1251.4 1207.0,1253.3 1207.9,1247.0 1208.7,1254.8 1209.6,1253.6 1210.4,1255.8 1211.3,1250.3 1212.1,1258.4 1213.0,1242.1 1213.8,1254.9 1214.7,1250.7 1215.5,1252.7 1216.4,1253.0 1217.2,1245.9 1218.1,1248.2 1218.9,1254.5 1219.8,1253.3 1220.6,1254.6 1221.5,1255.6 1222.3,1248.6 1223.2,1233.2 1224.0,1250.6 1224.9,1251.3 1225.7,1254.8 1226.6,1249.6 1227.4,1252.4 1228.3,1253.5 1229.1,1248.0 1230.0,1247.8 1230.8,1244.7 1231.7,1248.2 1232.5,1257.4 1233.4,1251.7 1234.2,1254.1 1235.1,1247.9 1235.9,1250.1 1236.8,1246.3 1237.6,1250.6 1238.5,1247.4 1239.3,1249.2 1240.2,1251.2 1241.0,1243.0 1241.9,1243.6 1242.7,1252.8 1243.6,1251.2 1244.4,1250.8 1245.3,1245.2 1246.1,1251.7 1247.0,1248.6 1247.8,1256.2 1248.7,1249.7 1249.5,1249.6 1250.4,1246.1 1251.2,1250.9 1252.1,1248.4 1252.9,1253.4 1253.8,1244.7 1254.6,1244.2 1255.5,1241.4 1256.3,1243.2 1257.2,1244.0 1258.0,1237.1 1258.9,1236.4 1259.7,1241.8 1260.6,1241.5 1261.4,1241.7 1262.3,1241.7 1263.1,1230.0 1264.0,1233.3 1264.8,1236.4 1265.7,1232.9 1266.5,1230.0 1267.4,1233.0 1268.2,1224.8 1269.1,1222.2 1269.9,1233.2 1270.8,1216.4 1271.6,1218.9 1272.5,1217.8 1273.3,1218.4 1274.2,1213.7 1275.0,1214.9 1275.9,1212.3 1276.7,1205.0 1277.6,1206.4 1278.4,1200.8 1279.3,1195.9 1280.1,1190.9 1281.0,1181.5 1281.8,1178.3 1282.7,1176.8 1283.5,1176.2 1284.4,1176.7 1285.2,1175.8 1286.1,1182.5 1286.9,1176.6 1287.8,1185.4 1288.6,1191.8 1289.5,1195.4 1290.3,1199.1 1291.2,1199.9 1292.0,1206.8 1292.9,1195.4 1293.7,1200.4 1294.6,1214.3 1295.4,1202.2 1296.3,1210.1 1297.1,1213.1 1298.0,1216.4 1298.8,1217.0 1299.7,1215.5 1300.5,1217.9 1301.4,1222.9 1302.2,1223.6 1303.1,1221.1 1303.9,1210.6 1304.8,1227.8 1305.6,1225.7 1306.5,1226.8 1307.3,1227.2 1308.2,1229.9 1309.0,1230.9 1309.9,1231.7 1310.7,1238.9 1311.6,1236.2 1312.4,1236.1 1313.3,1239.2 1314.1,1234.7 1315.0,1243.4 1315.8,1245.9 1316.7,1245.8 1317.5,1250.0 1318.4,1241.8 1319.2,1242.3 1320.1,1237.4 1320.9,1247.1 1321.8,1244.9 1322.6,1238.9 1323.5,1241.6 1324.3,1239.2 1325.2,1239.9 1326.0,1239.5 1326.9,1240.3 1327.7,1236.8 1328.6,1239.9 1329.4,1238.0 1330.3,1240.3 1331.1,1222.9 1332.0,1240.4 1332.8,1242.3 1333.7,1243.5 1334.5,1240.3 1335.4,1242.9 1336.2,1235.5 1337.1,1237.5 1337.9,1243.1 1338.8,1249.2 1339.6,1235.8 1340.5,1237.7 1341.3,1234.5 1342.2,1235.5 1343.0,1242.6 1343.9,1233.8 1344.7,1233.3 1345.6,1232.8 1346.4,1239.7 1347.3,1230.6 1348.1,1234.5 1349.0,1233.6 1349.8,1234.4 1350.7,1226.5 1351.5,1230.3 1352.4,1232.9 1353.2,1223.2 1354.1,1221.8 1354.9,1223.7 1355.8,1218.9 1356.6,1223.0 1357.5,1217.5 1358.3,1211.5 1359.2,1211.3 1360.0,1207.5 1360.9,1198.6 1361.7,1216.8 1362.6,1195.5 1363.4,1182.4 1364.3,1179.3 1365.1,1169.2 1366.0,1155.3 1366.8,1142.6 1367.7,1132.7 1368.5,1119.6 1369.4,1095.4 1370.2,1085.4 1371.1,1056.2 1371.9,1041.3 1372.8,1024.7 1373.6,1011.1 1374.5,1014.0 1375.3,1012.9 1376.2,1022.3 1377.0,1030.0 1377.9,1047.3 1378.7,1063.3 1379.6,1077.9 1380.4,1087.8 1381.3,1107.7 1382.1,1126.5 1383.0,1129.9 1383.8,1135.9 1384.7,1145.9 1385.5,1159.2 1386.4,1162.1 1387.2,1159.4 1388.1,1167.8 1388.9,1181.5 1389.8,1180.0 1390.6,1182.3 1391.5,1186.6 1392.3,1191.8 1393.2,1190.0 1394.0,1197.1 1394.9,1201.9 1395.7,1209.3 1396.6,1213.7 1397.4,1214.5 1398.3,1222.3 1399.1,1218.6 1400.0,1225.8 1400.8,1222.7 1401.7,1229.5 1402.5,1231.3 1403.4,1232.5 1404.2,1234.2 1405.1,1241.1 1405.9,1234.7 1406.8,1233.7 1407.6,1239.5 1408.5,1239.8 1409.3,1242.1 1410.2,1231.2 1411.0,1244.3 1411.9,1236.0 1412.7,1235.4 1413.6,1239.0 1414.4,1242.0 1415.3,1237.9 1416.1,1239.3 1417.0,1240.3 1417.8,1240.9 1418.7,1245.0 1419.5,1242.1 1420.4,1245.0 1421.2,1244.6 1422.1,1238.0 1422.9,1240.9 1423.8,1246.7 1424.6,1243.2 1425.5,1242.1 1426.3,1243.5 1427.2,1245.8 1428.0,1245.8 1428.9,1244.6 1429.7,1239.5 1430.6,1251.0 1431.4,1247.5 1432.3,1236.6 1433.1,1248.3 1434.0,1252.8 1434.8,1245.6 1435.7,1244.6 1436.5,1245.5 1437.4,1246.6 1438.2,1249.8 1439.1,1248.6 1439.9,1249.0 1440.8,1248.8 1441.6,1247.2 1442.5,1244.7 1443.3,1241.8 1444.2,1244.5 1445.0,1245.4 1445.9,1244.5 1446.7,1246.5 1447.6,1238.9 1448.4,1250.3 1449.3,1244.9 1450.1,1246.7 1451.0,1243.7 1451.8,1243.6 1452.7,1249.2 1453.5,1240.3 1454.4,1247.3 1455.2,1243.2 1456.1,1244.4 1456.9,1245.7 1457.8,1249.1 1458.6,1241.8 1459.5,1248.8 1460.3,1238.6 1461.2,1243.5 1462.0,1244.8 1462.9,1243.8 1463.7,1244.7 1464.6,1244.6 1465.4,1250.3 1466.3,1242.6 1467.1,1244.2 1468.0,1250.9 1468.8,1247.1 1469.7,1247.1 1470.5,1246.5 1471.4,1249.7 1472.2,1248.1 1473.1,1246.9 1473.9,1245.9 1474.8,1249.6 1475.6,1249.0 1476.5,1251.8 1477.3,1245.6 1478.2,1253.6 1479.0,1247.3 1479.9,1248.6 1480.7,1241.0 1481.6,1241.0 1482.4,1243.4 1483.3,1250.1 1484.1,1243.6 1485.0,1245.9 1485.8,1242.5 1486.7,1244.2 1487.5,1237.6 1488.4,1233.4 1489.2,1242.9 1490.1,1235.1 1490.9,1240.0 1491.8,1233.2 1492.6,1233.5 1493.5,1231.4 1494.3,1237.6 1495.2,1230.1 1496.0,1229.2 1496.9,1225.8 1497.7,1220.6 1498.6,1215.8 1499.4,1215.4 1500.3,1223.5 1501.1,1199.9 1502.0,1194.5 1502.8,1195.6 1503.7,1184.1 1504.5,1183.1 1505.4,1163.0 1506.2,1152.9 1507.1,1142.5 1507.9,1126.4 1508.8,1117.3 1509.6,1094.1 1510.5,1074.8 1511.3,1046.5 1512.2,1028.0 1513.0,1004.7 1513.9,981.0 1514.7,945.2 1515.6,917.2 1516.4,904.9 1517.3,900.0 1518.1,898.7 1519.0,910.1 1519.8,928.6 1520.7,955.5 1521.5,984.0 1522.4,1005.3 1523.2,1025.1 1524.1,1062.4 1524.9,1078.6 1525.8,1093.5 1526.6,1111.1 1527.5,1127.5 1528.3,1136.9 1529.2,1148.0 1530.0,1155.2 1530.9,1170.5 1531.7,1168.5 1532.6,1176.5 1533.4,1181.9 1534.3,1188.6 1535.1,1192.5 1536.0,1196.3 1536.8,1194.8 1537.7,1194.7 1538.5,1201.1 1539.4,1208.5 1540.2,1207.1 1541.1,1213.3 1541.9,1211.1 1542.8,1219.4 1543.6,1219.2 1544.5,1222.4 1545.3,1232.3 1546.2,1230.8 1547.0,1235.5 1547.9,1232.9 1548.7,1236.9 1549.6,1226.9 1550.4,1234.7 1551.3,1242.1 1552.1,1236.9 1553.0,1245.8 1553.8,1245.1 1554.7,1244.1 1555.5,1246.1 1556.4,1250.7 1557.2,1243.7 1558.1,1241.4 1558.9,1246.0 1559.8,1246.5 1560.6,1252.1 1561.5,1247.0 1562.3,1243.9 1563.2,1254.2 1564.0,1250.1 1564.9,1249.3 1565.7,1253.0 1566.6,1253.1 1567.4,1249.2 1568.3,1247.4 1569.1,1254.8 1570.0,1253.7 1570.8,1250.4 1571.7,1248.6 1572.5,1252.0 1573.4,1250.1 1574.2,1260.0 1575.1,1254.7 1575.9,1252.6 1576.8,1248.1 1577.6,1245.0 1578.5,1249.0 1579.3,1252.1 1580.2,1259.3 1581.0,1258.7 1581.9,1250.5 1582.7,1245.9 1583.6,1257.5 1584.4,1251.3 1585.3,1251.9 1586.1,1244.4 1587.0,1255.9 1587.8,1246.3 1588.7,1251.4 1589.5,1248.9 1590.4,1252.9 1591.2,1249.0 1592.1,1248.6 1592.9,1252.1 1593.8,1256.2 1594.6,1255.1 1595.5,1259.4 1596.3,1248.0 1597.2,1253.4 1598.0,1250.9 1598.9,1241.8 1599.7,1255.0 1600.6,1254.6 1601.4,1254.3 1602.3,1254.4 1603.1,1251.9 1604.0,1255.5 1604.8,1256.9 1605.7,1257.7 1606.5,1258.6 1607.4,1261.3 1608.2,1256.7 1609.1,1262.3 1609.9,1253.0 1610.8,1257.8 1611.6,1271.0 1612.5,1254.9 1613.3,1259.5 1614.2,1262.7 1615.0,1259.7 1615.9,1260.2 1616.7,1256.3 1617.6,1251.9 1618.4,1260.9 1619.3,1265.3 1620.1,1262.2 1621.0,1256.5 1621.8,1259.8 1622.7,1262.8 1623.5,1257.6 1624.4,1259.7 1625.2,1269.5 1626.1,1261.3 1626.9,1263.3 1627.8,1265.8 1628.6,1269.8 1629.5,1262.9 1630.3,1267.0 1631.2,1270.8 1632.0,1261.2 1632.9,1261.0 1633.7,1259.6 1634.6,1261.3 1635.4,1263.4 1636.3,1249.0 1637.1,1255.3 1638.0,1259.8 1638.8,1269.0 1639.7,1260.9 1640.5,1260.4 1641.4,1259.0 1642.2,1262.3 1643.1,1264.7 1643.9,1259.0 1644.8,1263.4 1645.6,1263.1 1646.5,1260.2 1647.3,1260.5 1648.2,1261.8 1649.0,1262.8 1649.9,1260.4 1650.7,1260.7 1651.6,1265.3 1652.4,1248.6 1653.3,1265.7 1654.1,1264.1 1655.0,1262.2 1655.8,1269.2 1656.7,1264.0 1657.5,1259.1 1658.4,1262.5 1659.2,1264.1 1660.1,1264.4 1660.9,1265.2 1661.8,1265.0 1662.6,1256.9 1663.5,1261.0 1664.3,1268.9 1665.2,1259.6 1666.0,1263.2 1666.9,1258.8 1667.7,1264.7 1668.6,1258.5 1669.4,1263.9 1670.3,1259.0 1671.1,1264.3 1672.0,1266.9 1672.8,1259.2 1673.7,1255.5 1674.5,1257.2 1675.4,1261.1 1676.2,1270.4 1677.1,1256.9 1677.9,1260.1 1678.8,1264.9 1679.6,1260.4 1680.5,1261.7 1681.3,1256.8 1682.2,1263.6 1683.0,1263.7 1683.9,1258.3 1684.7,1257.6 1685.6,1264.0 1686.4,1260.9 1687.3,1254.8 1688.1,1262.3 1689.0,1259.1 1689.8,1263.9 1690.7,1270.8 1691.5,1262.8 1692.4,1264.2 1693.2,1266.7 1694.1,1256.8 1694.9,1269.5 1695.8,1261.2 1696.6,1266.0 1697.5,1262.2 1698.3,1257.1 1699.2,1263.4 1700.0,1254.4 1700.9,1260.7 1701.7,1260.2 1702.6,1264.1 1703.4,1256.7 1704.3,1251.1 1705.1,1261.3 1706.0,1255.6 1706.8,1255.8 1707.7,1257.9 1708.5,1257.9 1709.4,1256.0 1710.2,1257.7 1711.1,1256.4 1711.9,1257.7 1712.8,1250.1 1713.6,1253.8 1714.5,1251.9 1715.3,1251.7 1716.2,1252.9 1717.0,1252.4 1717.9,1257.0 1718.7,1254.1 1719.6,1258.8 1720.4,1255.2 1721.3,1250.8 1722.1,1255.9 1723.0,1253.5 1723.8,1256.9 1724.7,1241.7 1725.5,1245.7 1726.4,1249.6 1727.2,1243.9 1728.1,1246.4 1728.9,1245.0 1729.8,1248.2 1730.6,1245.3 1731.5,1243.9 1732.3,1244.2 1733.2,1246.7 1734.0,1247.8 1734.9,1244.4 1735.7,1246.6 1736.6,1247.2 1737.4,1248.0 1738.3,1250.3 1739.1,1253.3 1740.0,1251.0 1740.8,1249.6 1741.7,1253.5 1742.5,1251.3 1743.4,1254.3 1744.2,1252.2 1745.1,1253.5 1745.9,1254.3 1746.8,1252.9 1747.6,1253.8 1748.5,1252.9 1749.3,1258.6 1750.2,1256.4 1751.0,1254.6 1751.9,1252.4 1752.7,1259.0 1753.6,1257.4 1754.4,1247.6 1755.3,1264.2 1756.1,1257.8 1757.0,1256.9 1757.8,1259.6 1758.7,1256.0 1759.5,1258.4 1760.4,1260.3 1761.2,1256.6 1762.1,1258.5 1762.9,1254.8 1763.8,1257.5 1764.6,1259.3 1765.5,1260.5 1766.3,1259.1 1767.2,1261.9 1768.0,1264.6 1768.9,1258.8 1769.7,1258.8 1770.6,1256.7 1771.4,1260.4 1772.3,1262.1 1773.1,1262.6 1774.0,1253.1 1774.8,1265.0 1775.7,1256.5 1776.5,1264.8 1777.4,1255.1 1778.2,1262.8 1779.1,1246.4 1779.9,1261.7 1780.8,1256.8 1781.6,1254.8 1782.5,1260.0 1783.3,1258.9 1784.2,1256.3 1785.0,1258.3 1785.9,1253.9 1786.7,1251.8 1787.6,1256.6 1788.4,1254.9 1789.3,1250.2 1790.1,1253.0 1791.0,1254.1 1791.8,1255.7 1792.7,1242.5 1793.5,1250.3 1794.4,1247.2 1795.2,1243.8 1796.1,1240.7 1796.9,1242.0 1797.8,1227.4 1798.6,1232.9 1799.5,1230.4 1800.3,1225.7 1801.2,1224.6 1802.0,1218.4 1802.9,1212.2 1803.7,1212.4 1804.6,1210.6 1805.4,1205.1 1806.3,1207.3 1807.1,1204.8 1808.0,1205.1 1808.8,1203.9 1809.7,1210.0 1810.5,1210.6 1811.4,1206.8 1812.2,1215.3 1813.1,1219.0 1813.9,1220.0 1814.8,1224.7 1815.6,1225.2 1816.5,1228.2 1817.3,1228.5 1818.2,1233.6 1819.0,1231.8 1819.9,1228.1 1820.7,1227.8 1821.6,1231.7 1822.4,1236.5 1823.3,1231.0 1824.1,1235.7 1825.0,1242.9 1825.8,1233.3 1826.7,1236.3 1827.5,1234.2 1828.4,1234.2 1829.2,1233.8 1830.1,1241.1 1830.9,1236.5 1831.8,1237.7 1832.6,1236.0 1833.5,1246.2 1834.3,1236.1 1835.2,1245.6 1836.0,1249.2 1836.9,1247.2 1837.7,1237.9 1838.6,1248.7 1839.4,1250.0 1840.3,1255.0 1841.1,1256.6 1842.0,1251.0 1842.8,1251.5 1843.7,1258.9 1844.5,1250.8 1845.4,1256.2 1846.2,1259.1 1847.1,1257.8 1847.9,1260.2 1848.8,1259.5 1849.6,1262.8 1850.5,1255.0 1851.3,1257.6 1852.2,1264.6 1853.0,1263.2 1853.9,1266.2 1854.7,1264.0 1855.6,1262.0 1856.4,1268.7 1857.3,1259.9 1858.1,1264.7 1859.0,1273.1 1859.8,1271.5 1860.7,1258.1 1861.5,1270.6 1862.4,1270.2 1863.2,1270.1 1864.1,1268.1 1864.9,1264.2 1865.8,1264.8 1866.6,1272.2 1867.5,1270.7 1868.3,1266.9 1869.2,1263.4 1870.0,1265.2 1870.9,1265.7 1871.7,1269.9 1872.6,1266.6 1873.4,1267.1 1874.3,1266.4 1875.1,1267.9 1876.0,1268.0 1876.8,1264.7 1877.7,1266.1 1878.5,1260.2 1879.4,1261.3 1880.2,1269.7 1881.1,1267.8 1881.9,1264.6 1882.8,1265.7 1883.6,1258.7 1884.5,1266.7 1885.3,1265.1 1886.2,1261.7 1887.0,1277.0 1887.9,1263.9 1888.7,1265.9 1889.6,1263.3 1890.4,1275.3 1891.3,1266.0 1892.1,1261.4 1893.0,1264.3 1893.8,1276.2 1894.7,1265.6 1895.5,1271.8 1896.4,1268.3 1897.2,1276.0 1898.1,1272.0 1898.9,1273.1 1899.8,1274.6 1900.6,1264.9 1901.5,1260.3 1902.3,1267.6 1903.2,1264.8 1904.0,1263.8 1904.9,1264.5 1905.7,1266.5 1906.6,1267.9 1907.4,1267.4 1908.3,1264.9 1909.1,1267.6 1910.0,1267.1 1910.8,1269.6 1911.7,1268.4 1912.5,1262.6 1913.4,1262.7 1914.2,1266.9 1915.1,1261.6 1915.9,1272.2 1916.8,1263.1 1917.6,1267.7 1918.5,1268.7 1919.3,1257.0 1920.2,1259.2 1921.0,1257.9 1921.9,1258.4 1922.7,1258.5 1923.6,1261.0 1924.4,1262.0 1925.3,1253.2 1926.1,1261.2 1927.0,1256.3 1927.8,1252.1 1928.7,1247.7 1929.5,1248.8 1930.4,1247.7 1931.2,1247.2 1932.1,1247.9 1932.9,1249.8 1933.8,1248.2 1934.6,1246.5 1935.5,1246.8 1936.3,1247.3 1937.2,1250.8 1938.0,1248.2 1938.9,1253.6 1939.7,1253.0 1940.6,1254.6 1941.4,1253.8 1942.3,1262.9 1943.1,1262.2 1944.0,1263.9 1944.8,1260.6 1945.7,1269.5 1946.5,1261.3 1947.4,1256.7 1948.2,1265.0 1949.1,1267.2 1949.9,1268.4 1950.8,1267.2 1951.6,1268.7 1952.5,1269.9 1953.3,1268.4 1954.2,1273.4 1955.0,1265.5 1955.9,1268.9 1956.7,1277.5 1957.6,1262.2 1958.4,1267.9 1959.3,1268.9 1960.1,1264.5 1961.0,1269.6 1961.8,1271.1 1962.7,1267.6 1963.5,1275.4 1964.4,1274.6 1965.2,1271.5 1966.1,1271.8 1966.9,1273.4 1967.8,1271.1 1968.6,1269.6 1969.5,1274.2 1970.3,1274.3 1971.2,1271.8 1972.0,1276.4 1972.9,1272.3 1973.7,1260.3 1974.6,1283.0 1975.4,1275.7 1976.3,1275.7 1977.1,1274.7 1978.0,1275.5 1978.8,1277.0 1979.7,1274.7 1980.5,1262.6 1981.4,1273.3 1982.2,1273.5 1983.1,1276.1 1983.9,1275.3 1984.8,1275.7 1985.6,1274.3 1986.5,1275.6 1987.3,1270.6 1988.2,1270.0 1989.0,1270.5 1989.9,1273.3 1990.7,1274.7 1991.6,1272.5 1992.4,1272.8 1993.3,1273.5 1994.1,1274.8 1995.0,1276.5 1995.8,1271.8 1996.7,1271.1 1997.5,1272.3 1998.4,1277.3 1999.2,1268.0 2000.1,1272.0 2000.9,1273.5 2001.8,1272.4 2002.6,1272.8 2003.5,1268.0 2004.3,1270.9 2005.2,1274.8 2006.0,1287.5 2006.9,1267.6 2007.7,1272.8 2008.6,1277.6 2009.4,1268.1 2010.3,1275.6 2011.1,1270.1 2012.0,1273.1 2012.8,1273.2 2013.7,1273.0 2014.5,1262.3 2015.4,1274.6 2016.2,1277.5 2017.1,1268.1 2017.9,1276.9 2018.8,1270.4 2019.6,1271.5 2020.5,1271.4 2021.3,1271.7 2022.2,1271.3 2023.0,1272.6 2023.9,1268.3 2024.7,1269.1 2025.6,1274.6 2026.4,1269.8 2027.3,1270.5 2028.1,1271.6 2029.0,1267.5 2029.8,1267.6 2030.7,1277.4 2031.5,1264.1 2032.4,1270.7 2033.2,1281.5 2034.1,1268.0 2034.9,1263.6 2035.8,1270.1 2036.6,1259.9 2037.5,1268.2 2038.3,1265.8 2039.2,1269.6 2040.0,1269.6 2040.9,1269.9 2041.7,1265.8 2042.6,1273.4 2043.4,1265.9 2044.3,1268.3 2045.1,1273.0 2046.0,1280.0 2046.8,1270.6 2047.7,1270.7 2048.5,1269.3 2049.4,1268.9 2050.2,1271.2 2051.1,1267.0 2051.9,1272.3 2052.8,1264.9 2053.6,1267.7 2054.5,1263.5 2055.3,1269.7 2056.2,1270.9 2057.0,1266.7 2057.9,1267.5 2058.7,1270.8 2059.6,1267.2 2060.4,1269.9 2061.3,1271.2 2062.1,1273.7 2063.0,1266.6 2063.8,1275.7 2064.7,1269.2 2065.5,1273.1 2066.4,1275.1 2067.2,1271.1 2068.1,1274.9 2068.9,1273.1 2069.8,1269.6 2070.6,1267.2 2071.5,1272.8 2072.3,1276.4 2073.2,1270.1 2074.0,1271.5 2074.9,1270.3 2075.7,1275.9 2076.6,1280.0 2077.4,1272.9 2078.3,1272.4 2079.1,1275.7 2080.0,1277.4 2080.8,1273.4 2081.7,1269.6 2082.5,1266.5 2083.4,1277.2 2084.2,1276.0 2085.1,1265.8 2085.9,1274.1 2086.8,1269.7 2087.6,1275.2 2088.5,1273.2 2089.3,1266.6" stroke="#DC9A00"/>
<polyline points="307.7,1067.6 308.6,1076.9 309.4,1070.2 310.3,1054.7 311.1,1061.9 312.0,1073.0 312.8,1063.8 313.7,1063.9 314.5,1067.2 315.4,1067.3 316.2,1068.8 317.1,1069.6 317.9,1065.9 318.8,1053.3 319.6,1069.1 320.5,1064.6 321.3,1058.1 322.2,1074.9 323.0,1067.8 323.9,1079.7 324.7,1072.4 325.6,1079.9 326.4,1073.3 327.3,1073.2 328.1,1075.0 329.0,1074.4 329.8,1074.4 330.7,1076.9 331.5,1080.3 332.4,1077.9 333.2,1078.4 334.1,1080.5 334.9,1096.2 335.8,1087.2 336.6,1089.3 337.5,1089.3 338.3,1092.4 339.2,1082.7 340.0,1092.5 340.9,1098.8 341.7,1096.2 342.6,1094.2 343.4,1087.3 344.3,1093.9 345.1,1087.9 346.0,1091.0 346.8,1092.3 347.7,1092.1 348.5,1103.5 349.4,1089.3 350.2,1086.8 351.1,1098.3 351.9,1100.2 352.8,1109.3 353.6,1101.2 354.5,1097.6 355.3,1111.6 356.2,1101.2 357.0,1094.3 357.9,1115.7 358.7,1100.6 359.6,1105.5 360.4,1109.1 361.3,1109.0 362.1,1109.4 363.0,1106.9 363.8,1104.2 364.7,1115.1 365.5,1113.9 366.4,1110.4 367.2,1112.8 368.1,1108.6 368.9,1110.6 369.8,1116.8 370.6,1110.8 371.5,1118.8 372.3,1107.1 373.2,1112.2 374.0,1104.2 374.9,1114.2 375.7,1107.9 376.6,1108.6 377.4,1118.2 378.3,1100.9 379.1,1103.5 380.0,1099.3 380.8,1093.3 381.7,1095.3 382.5,1092.5 383.4,1081.8 384.2,1074.7 385.1,1071.0 385.9,1079.5 386.8,1066.0 387.6,1060.8 388.5,1059.1 389.3,1058.8 390.2,1062.5 391.0,1074.6 391.9,1073.3 392.7,1083.8 393.6,1084.5 394.4,1093.8 395.3,1100.1 396.1,1107.3 397.0,1104.3 397.8,1103.1 398.7,1122.1 399.5,1114.7 400.4,1107.8 401.2,1131.3 402.1,1118.7 402.9,1131.4 403.8,1122.5 404.6,1136.4 405.5,1131.3 406.3,1137.7 407.2,1132.5 408.0,1145.1 408.9,1142.6 409.7,1156.0 410.6,1155.5 411.4,1146.7 412.3,1151.4 413.1,1158.4 414.0,1159.5 414.8,1151.1 415.7,1164.1 416.5,1158.2 417.4,1155.6 418.2,1168.7 419.1,1156.6 419.9,1135.9 420.8,1160.7 421.6,1164.1 422.5,1171.0 423.3,1167.6 424.2,1159.8 425.0,1170.5 425.9,1154.9 426.7,1168.2 427.6,1166.2 428.4,1169.0 429.3,1173.0 430.1,1167.7 431.0,1171.0 431.8,1175.8 432.7,1172.8 433.5,1159.5 434.4,1173.0 435.2,1168.3 436.1,1180.7 436.9,1181.6 437.8,1181.3 438.6,1183.2 439.5,1175.1 440.3,1169.1 441.2,1157.9 442.0,1183.9 442.9,1180.8 443.7,1183.6 444.6,1188.4 445.4,1174.4 446.3,1169.0 447.1,1185.3 448.0,1188.1 448.8,1190.9 449.7,1190.7 450.5,1190.2 451.4,1186.2 452.2,1186.7 453.1,1190.7 453.9,1190.3 454.8,1190.2 455.6,1186.1 456.5,1193.4 457.3,1186.0 458.2,1183.9 459.0,1189.8 459.9,1194.4 460.7,1199.6 461.6,1197.8 462.4,1191.5 463.3,1197.1 464.1,1194.7 465.0,1188.8 465.8,1214.2 466.7,1196.4 467.5,1194.5 468.4,1194.1 469.2,1200.0 470.1,1198.2 470.9,1200.8 471.8,1199.9 472.6,1219.3 473.5,1196.8 474.3,1200.1 475.2,1204.2 476.0,1204.0 476.9,1211.6 477.7,1204.2 478.6,1205.2 479.4,1209.9 480.3,1207.6 481.1,1203.4 482.0,1216.6 482.8,1212.9 483.7,1200.0 484.5,1212.6 485.4,1211.8 486.2,1209.5 487.1,1205.4 487.9,1208.8 488.8,1204.1 489.6,1201.9 490.5,1216.5 491.3,1206.3 492.2,1213.6 493.0,1211.9 493.9,1203.2 494.7,1210.2 495.6,1222.2 496.4,1208.4 497.3,1213.0 498.1,1192.5 499.0,1213.6 499.8,1212.8 500.7,1210.4 501.5,1223.0 502.4,1214.4 503.2,1215.7 504.1,1214.3 504.9,1217.7 505.8,1219.9 506.6,1219.8 507.5,1230.4 508.3,1219.2 509.2,1219.4 510.0,1226.3 510.9,1220.3 511.7,1220.0 512.6,1221.8 513.4,1229.7 514.3,1220.0 515.1,1222.3 516.0,1233.8 516.8,1228.4 517.7,1227.1 518.5,1231.4 519.4,1233.1 520.2,1224.6 521.1,1234.7 521.9,1227.8 522.8,1219.7 523.6,1228.3 524.5,1235.0 525.3,1235.8 526.2,1225.3 527.0,1234.8 527.9,1228.6 528.7,1237.0 529.6,1226.9 530.4,1227.9 531.3,1231.5 532.1,1233.8 533.0,1231.7 533.8,1233.8 534.7,1235.1 535.5,1238.2 536.4,1245.2 537.2,1238.7 538.1,1235.8 538.9,1245.2 539.8,1237.0 540.6,1241.3 541.5,1237.3 542.3,1231.5 543.2,1236.1 544.0,1245.0 544.9,1249.7 545.7,1239.7 546.6,1235.7 547.4,1241.7 548.3,1242.0 549.1,1253.0 550.0,1237.0 550.8,1245.5 551.7,1242.7 552.5,1237.0 553.4,1240.3 554.2,1235.5 555.1,1232.7 555.9,1243.4 556.8,1239.0 557.6,1243.0 558.5,1238.6 559.3,1244.0 560.2,1243.0 561.0,1248.3 561.9,1239.1 562.7,1250.5 563.6,1239.3 564.4,1243.7 565.3,1246.6 566.1,1253.9 567.0,1244.7 567.8,1247.1 568.7,1248.3 569.5,1248.7 570.4,1252.3 571.2,1248.1 572.1,1250.9 572.9,1249.3 573.8,1249.4 574.6,1250.7 575.5,1257.7 576.3,1254.7 577.2,1256.7 578.0,1250.3 578.9,1262.9 579.7,1257.0 580.6,1252.8 581.4,1247.4 582.3,1249.7 583.1,1250.5 584.0,1252.6 584.8,1251.0 585.7,1259.5 586.5,1251.2 587.4,1252.0 588.2,1262.0 589.1,1251.6 589.9,1256.6 590.8,1252.1 591.6,1252.3 592.5,1256.7 593.3,1255.0 594.2,1254.5 595.0,1245.5 595.9,1259.3 596.7,1254.5 597.6,1258.6 598.4,1257.9 599.3,1255.5 600.1,1261.0 601.0,1252.9 601.8,1259.5 602.7,1254.6 603.5,1261.3 604.4,1263.0 605.2,1263.9 606.1,1258.8 606.9,1255.0 607.8,1257.8 608.6,1266.4 609.5,1261.2 610.3,1264.3 611.2,1258.6 612.0,1262.9 612.9,1256.8 613.7,1261.6 614.6,1261.9 615.4,1263.8 616.3,1266.5 617.1,1269.3 618.0,1261.1 618.8,1266.2 619.7,1269.5 620.5,1259.8 621.4,1265.4 622.2,1267.4 623.1,1263.4 623.9,1258.9 624.8,1264.4 625.6,1269.4 626.5,1266.0 627.3,1263.3 628.2,1269.1 629.0,1262.4 629.9,1267.2 630.7,1275.5 631.6,1269.0 632.4,1265.0 633.3,1279.3 634.1,1267.9 635.0,1267.7 635.8,1263.8 636.7,1266.8 637.5,1261.3 638.4,1267.6 639.2,1268.4 640.1,1275.4 640.9,1265.4 641.8,1267.3 642.6,1276.7 643.5,1268.9 644.3,1264.0 645.2,1268.9 646.0,1262.4 646.9,1264.8 647.7,1264.9 648.6,1269.9 649.4,1263.6 650.3,1265.0 651.1,1264.1 652.0,1263.7 652.8,1270.3 653.7,1264.2 654.5,1256.4 655.4,1260.2 656.2,1262.0 657.1,1255.0 657.9,1270.0 658.8,1263.9 659.6,1257.5 660.5,1261.7 661.3,1257.4 662.2,1260.6 663.0,1260.4 663.9,1262.9 664.7,1257.4 665.6,1264.3 666.4,1258.1 667.3,1255.5 668.1,1256.9 669.0,1246.9 669.8,1252.2 670.7,1247.5 671.5,1242.0 672.4,1243.2 673.2,1248.6 674.1,1239.8 674.9,1236.0 675.8,1230.1 676.6,1234.9 677.5,1224.4 678.3,1227.2 679.2,1221.4 680.0,1210.9 680.9,1199.9 681.7,1194.1 682.6,1194.2 683.4,1183.8 684.3,1166.6 685.1,1160.2 686.0,1142.8 686.8,1125.6 687.7,1111.7 688.5,1098.2 689.4,1073.2 690.2,1054.4 691.1,1049.3 691.9,1049.4 692.8,1041.5 693.6,1045.3 694.5,1055.8 695.3,1071.8 696.2,1088.9 697.0,1105.1 697.9,1131.6 698.7,1145.0 699.6,1155.5 700.4,1169.4 701.3,1175.3 702.1,1196.8 703.0,1209.8 703.8,1209.2 704.7,1207.8 705.5,1231.0 706.4,1237.5 707.2,1234.1 708.1,1235.2 708.9,1245.0 709.8,1246.2 710.6,1242.5 711.5,1246.7 712.3,1254.2 713.2,1259.6 714.0,1262.5 714.9,1259.6 715.7,1256.5 716.6,1259.9 717.4,1263.0 718.3,1268.4 719.1,1268.5 720.0,1265.3 720.8,1269.2 721.7,1263.8 722.5,1268.7 723.4,1273.5 724.2,1278.3 725.1,1273.8 725.9,1277.1 726.8,1278.8 727.6,1280.7 728.5,1274.9 729.3,1277.8 730.2,1279.1 731.0,1277.1 731.9,1272.2 732.7,1276.4 733.6,1278.2 734.4,1283.2 735.3,1281.4 736.1,1276.8 737.0,1272.7 737.8,1286.2 738.7,1286.5 739.5,1280.1 740.4,1279.7 741.2,1281.6 742.1,1280.1 742.9,1283.6 743.8,1288.6 744.6,1285.3 745.5,1284.7 746.3,1287.5 747.2,1284.0 748.0,1286.3 748.9,1287.2 749.7,1278.6 750.6,1292.9 751.4,1285.5 752.3,1288.3 753.1,1284.7 754.0,1286.9 754.8,1284.5 755.7,1293.3 756.5,1299.6 757.4,1287.2 758.2,1288.5 759.1,1284.3 759.9,1297.2 760.8,1288.6 761.6,1287.4 762.5,1296.9 763.3,1291.4 764.2,1276.2 765.0,1294.7 765.9,1287.1 766.7,1293.8 767.6,1285.4 768.4,1286.4 769.3,1290.3 770.1,1284.3 771.0,1295.6 771.8,1285.0 772.7,1290.9 773.5,1281.7 774.4,1287.3 775.2,1298.6 776.1,1288.0 776.9,1284.1 777.8,1284.8 778.6,1282.6 779.5,1276.9 780.3,1280.0 781.2,1282.9 782.0,1285.3 782.9,1287.0 783.7,1279.5 784.6,1277.6 785.4,1278.3 786.3,1273.5 787.1,1278.8 788.0,1270.4 788.8,1274.8 789.7,1274.2 790.5,1270.9 791.4,1269.8 792.2,1268.2 793.1,1268.1 793.9,1276.1 794.8,1268.9 795.6,1258.7 796.5,1265.4 797.3,1262.5 798.2,1259.9 799.0,1250.2 799.9,1253.4 800.7,1251.6 801.6,1256.6 802.4,1249.2 803.3,1244.1 804.1,1235.6 805.0,1238.8 805.8,1237.1 806.7,1240.4 807.5,1232.8 808.4,1221.2 809.2,1224.1 810.1,1217.7 810.9,1211.1 811.8,1201.0 812.6,1187.3 813.5,1194.4 814.3,1168.7 815.2,1163.8 816.0,1153.1 816.9,1136.6 817.7,1108.3 818.6,1099.3 819.4,1076.0 820.3,1046.2 821.1,1019.1 822.0,981.4 822.8,948.3 823.7,891.8 824.5,835.5 825.4,776.6 826.2,702.0 827.1,630.1 827.9,566.9 828.8,510.2 829.6,473.7 830.5,468.7 831.3,486.3 832.2,536.5 833.0,594.7 833.9,658.5 834.7,727.9 835.6,802.0 836.4,858.9 837.3,912.6 838.1,952.3 839.0,1000.0 839.8,1037.8 840.7,1063.1 841.5,1084.9 842.4,1105.2 843.2,1127.9 844.1,1135.3 844.9,1153.9 845.8,1169.0 846.6,1176.0 847.5,1176.5 848.3,1199.6 849.2,1202.2 850.0,1202.9 850.9,1211.8 851.7,1216.1 852.6,1231.0 853.4,1235.4 854.3,1234.4 855.1,1238.8 856.0,1237.4 856.8,1239.2 857.7,1249.6 858.5,1248.5 859.4,1244.0 860.2,1253.6 861.1,1252.0 861.9,1256.4 862.8,1258.5 863.6,1257.6 864.5,1261.5 865.3,1241.4 866.2,1257.6 867.0,1256.6 867.9,1255.9 868.7,1260.8 869.6,1250.5 870.4,1248.8 871.3,1250.7 872.1,1256.0 873.0,1252.4 873.8,1257.2 874.7,1258.4 875.5,1260.9 876.4,1269.2 877.2,1287.7 878.1,1284.6 878.9,1285.7 879.8,1289.1 880.6,1292.1 881.5,1293.6 882.3,1301.2 883.2,1298.7 884.0,1301.4 884.9,1305.9 885.7,1307.2 886.6,1310.3 887.4,1322.7 888.3,1312.1 889.1,1307.6 890.0,1315.2 890.8,1312.9 891.7,1315.2 892.5,1319.4 893.4,1316.7 894.2,1321.0 895.1,1319.1 895.9,1322.6 896.8,1314.7 897.6,1317.5 898.5,1317.6 899.3,1321.4 900.2,1322.4 901.0,1321.6 901.9,1318.3 902.7,1324.0 903.6,1320.7 904.4,1324.9 905.3,1321.1 906.1,1325.0 907.0,1326.4 907.8,1326.7 908.7,1325.2 909.5,1325.1 910.4,1324.4 911.2,1329.9 912.1,1329.9 912.9,1329.7 913.8,1327.7 914.6,1331.0 915.5,1327.2 916.3,1326.7 917.2,1328.9 918.0,1335.8 918.9,1331.1 919.7,1326.7 920.6,1330.9 921.4,1322.1 922.3,1334.9 923.1,1328.9 924.0,1331.1 924.8,1329.0 925.7,1335.1 926.5,1329.7 927.4,1331.6 928.2,1335.9 929.1,1336.1 929.9,1333.9 930.8,1320.5 931.6,1327.6 932.5,1331.2 933.3,1336.1 934.2,1333.6 935.0,1338.3 935.9,1336.5 936.7,1333.9 937.6,1331.3 938.4,1334.4 939.3,1335.5 940.1,1334.4 941.0,1337.1 941.8,1336.3 942.7,1338.7 943.5,1337.5 944.4,1330.7 945.2,1339.0 946.1,1335.6 946.9,1339.2 947.8,1342.0 948.6,1332.8 949.5,1337.7 950.3,1334.1 951.2,1342.5 952.0,1343.3 952.9,1336.3 953.7,1338.4 954.6,1335.0 955.4,1333.6 956.3,1334.0 957.1,1332.3 958.0,1336.5 958.8,1338.0 959.7,1341.6 960.5,1336.4 961.4,1344.0 962.2,1337.4 963.1,1341.8 963.9,1338.1 964.8,1338.3 965.6,1335.1 966.5,1333.8 967.3,1337.0 968.2,1337.2 969.0,1334.5 969.9,1341.2 970.7,1334.4 971.6,1335.0 972.4,1336.3 973.3,1337.7 974.1,1336.1 975.0,1335.9 975.8,1337.0 976.7,1328.7 977.5,1336.4 978.4,1339.7 979.2,1336.3 980.1,1338.8 980.9,1340.2 981.8,1340.7 982.6,1338.0 983.5,1333.9 984.3,1333.2 985.2,1336.8 986.0,1336.3 986.9,1336.9 987.7,1335.0 988.6,1334.8 989.4,1334.2 990.3,1332.2 991.1,1337.7 992.0,1330.8 992.8,1332.0 993.7,1328.4 994.5,1332.1 995.4,1328.0 996.2,1328.4 997.1,1330.2 997.9,1326.5 998.8,1325.1 999.6,1331.9 1000.5,1322.4 1001.3,1320.7 1002.2,1326.4 1003.0,1307.2 1003.9,1324.2 1004.7,1320.7 1005.6,1316.2 1006.4,1314.4 1007.3,1312.5 1008.1,1309.8 1009.0,1307.7 1009.8,1305.2 1010.7,1299.8 1011.5,1299.8 1012.4,1287.0 1013.2,1289.5 1014.1,1272.9 1014.9,1272.9 1015.8,1263.6 1016.6,1252.1 1017.5,1242.8 1018.3,1228.3 1019.2,1215.1 1020.0,1200.9 1020.9,1192.6 1021.7,1181.9 1022.6,1170.2 1023.4,1166.9 1024.3,1171.2 1025.1,1172.7 1026.0,1185.3 1026.8,1195.9 1027.7,1206.2 1028.5,1223.4 1029.4,1234.1 1030.2,1245.9 1031.1,1250.0 1031.9,1260.1 1032.8,1261.7 1033.6,1271.8 1034.5,1274.4 1035.3,1278.1 1036.2,1286.5 1037.0,1288.7 1037.9,1291.0 1038.7,1288.3 1039.6,1301.1 1040.4,1305.3 1041.3,1300.9 1042.1,1306.8 1043.0,1310.9 1043.8,1317.1 1044.7,1315.6 1045.5,1324.8 1046.4,1323.1 1047.2,1324.3 1048.1,1319.1 1048.9,1332.3 1049.8,1333.5 1050.6,1332.4 1051.5,1333.0 1052.3,1339.5 1053.2,1340.0 1054.0,1336.3 1054.9,1340.0 1055.7,1338.1 1056.6,1343.5 1057.4,1340.7 1058.3,1342.3 1059.1,1340.9 1060.0,1345.3 1060.8,1340.9 1061.7,1345.9 1062.5,1341.6 1063.4,1342.7 1064.2,1343.3 1065.1,1335.3 1065.9,1344.5 1066.8,1344.8 1067.6,1346.2 1068.5,1345.2 1069.3,1342.5 1070.2,1343.0 1071.0,1342.6 1071.9,1344.0 1072.7,1345.6 1073.6,1344.1 1074.4,1345.3 1075.3,1336.7 1076.1,1348.0 1077.0,1344.5 1077.8,1342.9 1078.7,1347.6 1079.5,1350.9 1080.4,1349.9 1081.2,1340.9 1082.1,1345.6 1082.9,1346.2 1083.8,1349.4 1084.6,1363.3 1085.5,1348.3 1086.3,1348.5 1087.2,1346.0 1088.0,1345.6 1088.9,1348.5 1089.7,1351.6 1090.6,1355.5 1091.4,1350.0 1092.3,1353.2 1093.1,1346.7 1094.0,1351.4 1094.8,1350.2 1095.7,1346.7 1096.5,1347.8 1097.4,1348.0 1098.2,1349.5 1099.1,1343.5 1099.9,1343.7 1100.8,1349.2 1101.6,1348.1 1102.5,1350.0 1103.3,1340.7 1104.2,1352.3 1105.0,1348.6 1105.9,1348.9 1106.7,1355.8 1107.6,1347.6 1108.4,1347.5 1109.3,1354.7 1110.1,1349.1 1111.0,1352.8 1111.8,1349.1 1112.7,1348.0 1113.5,1356.0 1114.4,1350.2 1115.2,1352.1 1116.1,1351.8 1116.9,1351.0 1117.8,1349.1 1118.6,1347.7 1119.5,1340.4 1120.3,1350.5 1121.2,1350.2 1122.0,1347.5 1122.9,1351.1 1123.7,1351.0 1124.6,1347.4 1125.4,1346.6 1126.3,1347.6 1127.1,1346.8 1128.0,1345.9 1128.8,1350.4 1129.7,1354.0 1130.5,1346.8 1131.4,1343.3 1132.2,1348.1 1133.1,1347.9 1133.9,1352.8 1134.8,1350.2 1135.6,1351.6 1136.5,1355.0 1137.3,1354.2 1138.2,1348.4 1139.0,1348.4 1139.9,1352.8 1140.7,1346.3 1141.6,1356.3 1142.4,1350.3 1143.3,1352.1 1144.1,1348.1 1145.0,1356.5 1145.8,1353.9 1146.7,1349.3 1147.5,1344.5 1148.4,1361.8 1149.2,1359.8 1150.1,1355.0 1150.9,1351.0 1151.8,1354.2 1152.6,1352.2 1153.5,1354.1 1154.3,1352.7 1155.2,1359.0 1156.0,1352.3 1156.9,1356.5 1157.7,1356.4 1158.6,1355.4 1159.4,1351.9 1160.3,1351.2 1161.1,1350.1 1162.0,1351.6 1162.8,1356.9 1163.7,1356.5 1164.5,1352.5 1165.4,1354.6 1166.2,1356.4 1167.1,1353.0 1167.9,1354.4 1168.8,1358.5 1169.6,1356.4 1170.5,1341.0 1171.3,1351.5 1172.2,1352.9 1173.0,1352.5 1173.9,1350.6 1174.7,1353.8 1175.6,1353.9 1176.4,1352.0 1177.3,1352.9 1178.1,1352.1 1179.0,1350.1 1179.8,1358.3 1180.7,1356.5 1181.5,1359.8 1182.4,1354.1 1183.2,1353.1 1184.1,1350.3 1184.9,1354.5 1185.8,1356.0 1186.6,1355.7 1187.5,1351.2 1188.3,1360.5 1189.2,1355.9 1190.0,1348.3 1190.9,1352.2 1191.7,1353.4 1192.6,1355.6 1193.4,1355.2 1194.3,1351.3 1195.1,1354.4 1196.0,1351.0 1196.8,1352.8 1197.7,1358.2 1198.5,1350.0 1199.4,1352.5 1200.2,1347.4 1201.1,1359.2 1201.9,1357.3 1202.8,1346.2 1203.6,1358.0 1204.5,1351.9 1205.3,1353.0 1206.2,1355.2 1207.0,1354.0 1207.9,1355.9 1208.7,1351.4 1209.6,1353.2 1210.4,1347.5 1211.3,1351.5 1212.1,1350.9 1213.0,1354.2 1213.8,1352.4 1214.7,1351.7 1215.5,1353.5 1216.4,1356.5 1217.2,1354.0 1218.1,1355.5 1218.9,1351.5 1219.8,1353.8 1220.6,1354.7 1221.5,1355.6 1222.3,1351.3 1223.2,1354.6 1224.0,1354.0 1224.9,1356.5 1225.7,1357.8 1226.6,1353.4 1227.4,1349.0 1228.3,1355.4 1229.1,1351.8 1230.0,1353.9 1230.8,1354.2 1231.7,1353.7 1232.5,1352.6 1233.4,1351.8 1234.2,1351.4 1235.1,1352.4 1235.9,1348.5 1236.8,1353.2 1237.6,1353.6 1238.5,1353.3 1239.3,1354.3 1240.2,1355.1 1241.0,1353.2 1241.9,1356.4 1242.7,1352.6 1243.6,1355.1 1244.4,1350.3 1245.3,1351.1 1246.1,1343.9 1247.0,1349.8 1247.8,1345.5 1248.7,1352.8 1249.5,1349.4 1250.4,1351.3 1251.2,1349.1 1252.1,1349.4 1252.9,1354.4 1253.8,1340.9 1254.6,1349.5 1255.5,1349.8 1256.3,1346.6 1257.2,1338.0 1258.0,1348.0 1258.9,1344.8 1259.7,1347.7 1260.6,1347.7 1261.4,1346.4 1262.3,1348.6 1263.1,1340.4 1264.0,1341.0 1264.8,1343.9 1265.7,1341.1 1266.5,1342.5 1267.4,1343.7 1268.2,1341.9 1269.1,1343.3 1269.9,1344.8 1270.8,1338.0 1271.6,1339.0 1272.5,1338.0 1273.3,1336.5 1274.2,1336.4 1275.0,1333.8 1275.9,1331.3 1276.7,1332.5 1277.6,1331.6 1278.4,1324.7 1279.3,1323.2 1280.1,1320.7 1281.0,1323.2 1281.8,1310.8 1282.7,1308.2 1283.5,1305.2 1284.4,1298.8 1285.2,1296.5 1286.1,1292.0 1286.9,1287.9 1287.8,1283.5 1288.6,1285.3 1289.5,1283.5 1290.3,1289.4 1291.2,1287.9 1292.0,1295.7 1292.9,1297.4 1293.7,1296.9 1294.6,1299.9 1295.4,1309.0 1296.3,1308.1 1297.1,1315.1 1298.0,1316.3 1298.8,1319.3 1299.7,1320.4 1300.5,1317.1 1301.4,1313.3 1302.2,1322.0 1303.1,1316.2 1303.9,1318.0 1304.8,1321.3 1305.6,1328.2 1306.5,1321.8 1307.3,1321.0 1308.2,1330.0 1309.0,1329.2 1309.9,1327.8 1310.7,1330.6 1311.6,1331.7 1312.4,1341.6 1313.3,1336.6 1314.1,1338.2 1315.0,1342.4 1315.8,1339.7 1316.7,1345.5 1317.5,1340.4 1318.4,1345.1 1319.2,1335.6 1320.1,1338.4 1320.9,1346.7 1321.8,1348.1 1322.6,1347.7 1323.5,1349.1 1324.3,1344.9 1325.2,1339.7 1326.0,1340.4 1326.9,1348.0 1327.7,1348.6 1328.6,1347.3 1329.4,1349.1 1330.3,1343.4 1331.1,1346.6 1332.0,1344.7 1332.8,1344.8 1333.7,1345.5 1334.5,1344.8 1335.4,1348.4 1336.2,1346.4 1337.1,1343.4 1337.9,1338.5 1338.8,1338.1 1339.6,1341.1 1340.5,1343.0 1341.3,1338.8 1342.2,1338.3 1343.0,1342.0 1343.9,1345.9 1344.7,1342.2 1345.6,1345.5 1346.4,1331.6 1347.3,1340.9 1348.1,1337.7 1349.0,1341.0 1349.8,1333.6 1350.7,1334.5 1351.5,1335.4 1352.4,1317.4 1353.2,1326.2 1354.1,1333.1 1354.9,1330.1 1355.8,1329.0 1356.6,1331.5 1357.5,1323.0 1358.3,1327.4 1359.2,1324.9 1360.0,1316.9 1360.9,1310.4 1361.7,1312.4 1362.6,1305.9 1363.4,1305.1 1364.3,1297.5 1365.1,1296.4 1366.0,1284.1 1366.8,1274.7 1367.7,1265.9 1368.5,1256.5 1369.4,1243.4 1370.2,1224.4 1371.1,1211.2 1371.9,1197.8 1372.8,1177.6 1373.6,1164.2 1374.5,1149.2 1375.3,1137.7 1376.2,1131.6 1377.0,1131.7 1377.9,1137.8 1378.7,1144.1 1379.6,1151.8 1380.4,1176.5 1381.3,1192.3 1382.1,1205.5 1383.0,1216.7 1383.8,1223.4 1384.7,1237.6 1385.5,1248.8 1386.4,1252.4 1387.2,1265.3 1388.1,1270.3 1388.9,1274.2 1389.8,1278.6 1390.6,1282.7 1391.5,1281.4 1392.3,1286.6 1393.2,1287.8 1394.0,1294.0 1394.9,1292.3 1395.7,1295.4 1396.6,1302.5 1397.4,1300.5 1398.3,1306.4 1399.1,1313.0 1400.0,1313.4 1400.8,1311.4 1401.7,1311.5 1402.5,1317.1 1403.4,1319.6 1404.2,1317.9 1405.1,1317.9 1405.9,1331.3 1406.8,1325.8 1407.6,1334.8 1408.5,1332.8 1409.3,1338.4 1410.2,1336.0 1411.0,1338.4 1411.9,1336.8 1412.7,1342.3 1413.6,1341.3 1414.4,1341.7 1415.3,1340.0 1416.1,1344.9 1417.0,1343.3 1417.8,1351.8 1418.7,1341.4 1419.5,1347.1 1420.4,1352.2 1421.2,1348.6 1422.1,1335.5 1422.9,1351.1 1423.8,1351.3 1424.6,1347.0 1425.5,1352.7 1426.3,1356.1 1427.2,1353.7 1428.0,1355.5 1428.9,1352.4 1429.7,1353.3 1430.6,1353.2 1431.4,1357.9 1432.3,1357.8 1433.1,1354.8 1434.0,1352.8 1434.8,1355.1 1435.7,1355.5 1436.5,1351.1 1437.4,1357.3 1438.2,1351.8 1439.1,1353.3 1439.9,1351.0 1440.8,1353.8 1441.6,1352.2 1442.5,1352.6 1443.3,1355.3 1444.2,1350.4 1445.0,1360.8 1445.9,1353.7 1446.7,1355.9 1447.6,1353.3 1448.4,1350.7 1449.3,1353.7 1450.1,1350.1 1451.0,1355.3 1451.8,1356.9 1452.7,1362.2 1453.5,1355.9 1454.4,1351.2 1455.2,1354.8 1456.1,1355.1 1456.9,1355.1 1457.8,1351.1 1458.6,1355.2 1459.5,1350.5 1460.3,1354.0 1461.2,1349.1 1462.0,1352.3 1462.9,1354.1 1463.7,1353.6 1464.6,1354.6 1465.4,1355.4 1466.3,1350.3 1467.1,1351.7 1468.0,1349.8 1468.8,1352.5 1469.7,1355.9 1470.5,1351.0 1471.4,1341.9 1472.2,1353.7 1473.1,1350.2 1473.9,1350.6 1474.8,1343.9 1475.6,1350.8 1476.5,1347.2 1477.3,1347.8 1478.2,1351.7 1479.0,1346.0 1479.9,1351.7 1480.7,1344.7 1481.6,1347.1 1482.4,1351.8 1483.3,1343.8 1484.1,1344.5 1485.0,1342.4 1485.8,1335.8 1486.7,1337.7 1487.5,1338.4 1488.4,1336.6 1489.2,1336.9 1490.1,1335.3 1490.9,1331.2 1491.8,1327.8 1492.6,1327.1 1493.5,1322.6 1494.3,1322.3 1495.2,1324.0 1496.0,1320.8 1496.9,1317.6 1497.7,1318.9 1498.6,1312.4 1499.4,1300.3 1500.3,1311.8 1501.1,1299.0 1502.0,1298.8 1502.8,1300.0 1503.7,1289.5 1504.5,1277.8 1505.4,1280.7 1506.2,1271.4 1507.1,1266.6 1507.9,1255.9 1508.8,1244.6 1509.6,1227.7 1510.5,1216.3 1511.3,1194.2 1512.2,1182.4 1513.0,1155.1 1513.9,1127.3 1514.7,1116.9 1515.6,1080.3 1516.4,1060.0 1517.3,1036.8 1518.1,1028.7 1519.0,1022.1 1519.8,1021.3 1520.7,1035.7 1521.5,1056.9 1522.4,1093.3 1523.2,1104.2 1524.1,1127.1 1524.9,1149.7 1525.8,1169.2 1526.6,1192.8 1527.5,1204.3 1528.3,1223.1 1529.2,1231.3 1530.0,1242.9 1530.9,1249.2 1531.7,1265.4 1532.6,1261.3 1533.4,1276.0 1534.3,1277.3 1535.1,1278.2 1536.0,1284.5 1536.8,1289.1 1537.7,1290.7 1538.5,1296.4 1539.4,1299.2 1540.2,1295.3 1541.1,1299.1 1541.9,1303.6 1542.8,1304.5 1543.6,1299.0 1544.5,1312.1 1545.3,1319.1 1546.2,1324.0 1547.0,1316.6 1547.9,1325.2 1548.7,1329.4 1549.6,1331.1 1550.4,1339.7 1551.3,1334.5 1552.1,1337.3 1553.0,1340.1 1553.8,1338.8 1554.7,1344.9 1555.5,1338.3 1556.4,1341.0 1557.2,1344.6 1558.1,1345.9 1558.9,1344.9 1559.8,1346.9 1560.6,1347.4 1561.5,1352.3 1562.3,1353.9 1563.2,1352.6 1564.0,1349.6 1564.9,1351.4 1565.7,1350.5 1566.6,1348.6 1567.4,1354.1 1568.3,1351.9 1569.1,1354.6 1570.0,1353.4 1570.8,1347.6 1571.7,1352.2 1572.5,1349.7 1573.4,1350.9 1574.2,1351.2 1575.1,1348.2 1575.9,1350.1 1576.8,1357.9 1577.6,1351.7 1578.5,1354.0 1579.3,1348.0 1580.2,1352.3 1581.0,1354.9 1581.9,1350.5 1582.7,1355.4 1583.6,1350.7 1584.4,1356.3 1585.3,1354.5 1586.1,1352.1 1587.0,1356.3 1587.8,1348.1 1588.7,1355.6 1589.5,1353.7 1590.4,1360.3 1591.2,1355.8 1592.1,1356.3 1592.9,1356.4 1593.8,1352.6 1594.6,1355.0 1595.5,1351.8 1596.3,1355.5 1597.2,1356.0 1598.0,1360.5 1598.9,1362.3 1599.7,1354.1 1600.6,1353.0 1601.4,1354.6 1602.3,1354.5 1603.1,1359.8 1604.0,1356.3 1604.8,1360.8 1605.7,1356.6 1606.5,1352.1 1607.4,1360.3 1608.2,1356.4 1609.1,1355.6 1609.9,1357.5 1610.8,1352.7 1611.6,1357.6 1612.5,1354.2 1613.3,1356.8 1614.2,1358.2 1615.0,1357.7 1615.9,1360.5 1616.7,1359.3 1617.6,1356.2 1618.4,1357.4 1619.3,1353.8 1620.1,1361.8 1621.0,1364.2 1621.8,1353.9 1622.7,1361.0 1623.5,1361.2 1624.4,1362.7 1625.2,1350.6 1626.1,1364.7 1626.9,1363.3 1627.8,1361.5 1628.6,1359.6 1629.5,1358.4 1630.3,1356.2 1631.2,1360.1 1632.0,1359.5 1632.9,1362.2 1633.7,1358.8 1634.6,1362.7 1635.4,1354.8 1636.3,1364.3 1637.1,1366.6 1638.0,1362.2 1638.8,1364.3 1639.7,1362.0 1640.5,1361.3 1641.4,1357.4 1642.2,1360.1 1643.1,1363.4 1643.9,1362.3 1644.8,1360.6 1645.6,1358.1 1646.5,1363.1 1647.3,1360.2 1648.2,1369.6 1649.0,1361.9 1649.9,1361.9 1650.7,1361.8 1651.6,1366.8 1652.4,1364.7 1653.3,1369.1 1654.1,1362.7 1655.0,1361.0 1655.8,1365.8 1656.7,1361.9 1657.5,1365.7 1658.4,1366.1 1659.2,1368.7 1660.1,1364.0 1660.9,1360.6 1661.8,1364.3 1662.6,1360.8 1663.5,1361.1 1664.3,1366.3 1665.2,1361.2 1666.0,1361.5 1666.9,1363.2 1667.7,1364.4 1668.6,1362.5 1669.4,1360.4 1670.3,1366.6 1671.1,1359.2 1672.0,1359.0 1672.8,1364.0 1673.7,1363.4 1674.5,1366.5 1675.4,1362.2 1676.2,1364.3 1677.1,1362.3 1677.9,1364.4 1678.8,1365.1 1679.6,1358.9 1680.5,1364.9 1681.3,1360.9 1682.2,1361.0 1683.0,1362.7 1683.9,1364.8 1684.7,1363.6 1685.6,1363.9 1686.4,1364.7 1687.3,1364.7 1688.1,1365.0 1689.0,1369.6 1689.8,1368.7 1690.7,1362.9 1691.5,1370.2 1692.4,1361.0 1693.2,1363.0 1694.1,1364.9 1694.9,1362.7 1695.8,1365.3 1696.6,1361.9 1697.5,1365.2 1698.3,1363.3 1699.2,1361.3 1700.0,1363.9 1700.9,1368.4 1701.7,1366.2 1702.6,1366.2 1703.4,1360.1 1704.3,1360.6 1705.1,1360.7 1706.0,1358.4 1706.8,1354.7 1707.7,1353.0 1708.5,1352.4 1709.4,1358.5 1710.2,1358.0 1711.1,1359.0 1711.9,1356.3 1712.8,1357.4 1713.6,1360.8 1714.5,1362.6 1715.3,1360.9 1716.2,1358.2 1717.0,1350.4 1717.9,1354.7 1718.7,1355.6 1719.6,1356.1 1720.4,1355.5 1721.3,1354.4 1722.1,1354.1 1723.0,1350.3 1723.8,1354.6 1724.7,1357.5 1725.5,1353.4 1726.4,1351.4 1727.2,1344.6 1728.1,1348.6 1728.9,1348.2 1729.8,1348.2 1730.6,1347.9 1731.5,1349.4 1732.3,1347.2 1733.2,1348.3 1734.0,1348.8 1734.9,1345.0 1735.7,1344.6 1736.6,1348.4 1737.4,1349.0 1738.3,1349.8 1739.1,1350.9 1740.0,1350.7 1740.8,1348.6 1741.7,1352.7 1742.5,1353.7 1743.4,1359.1 1744.2,1358.2 1745.1,1351.4 1745.9,1355.8 1746.8,1356.1 1747.6,1354.6 1748.5,1358.5 1749.3,1359.9 1750.2,1365.1 1751.0,1364.3 1751.9,1361.7 1752.7,1361.8 1753.6,1363.2 1754.4,1364.1 1755.3,1361.5 1756.1,1367.6 1757.0,1361.3 1757.8,1366.0 1758.7,1359.6 1759.5,1364.0 1760.4,1363.2 1761.2,1361.8 1762.1,1368.2 1762.9,1365.5 1763.8,1370.7 1764.6,1363.4 1765.5,1364.0 1766.3,1357.1 1767.2,1363.0 1768.0,1363.7 1768.9,1371.6 1769.7,1363.8 1770.6,1367.1 1771.4,1365.1 1772.3,1362.4 1773.1,1363.3 1774.0,1365.8 1774.8,1367.5 1775.7,1364.8 1776.5,1361.3 1777.4,1363.9 1778.2,1363.1 1779.1,1359.1 1779.9,1355.5 1780.8,1359.3 1781.6,1359.8 1782.5,1361.0 1783.3,1361.8 1784.2,1362.6 1785.0,1344.3 1785.9,1356.7 1786.7,1354.2 1787.6,1355.2 1788.4,1358.2 1789.3,1353.8 1790.1,1349.0 1791.0,1356.9 1791.8,1354.1 1792.7,1350.7 1793.5,1343.6 1794.4,1348.7 1795.2,1344.5 1796.1,1344.1 1796.9,1342.1 1797.8,1340.5 1798.6,1341.7 1799.5,1335.1 1800.3,1334.1 1801.2,1333.6 1802.0,1325.9 1802.9,1325.1 1803.7,1309.2 1804.6,1314.0 1805.4,1313.2 1806.3,1313.1 1807.1,1312.8 1808.0,1307.2 1808.8,1308.2 1809.7,1307.4 1810.5,1307.2 1811.4,1310.7 1812.2,1311.3 1813.1,1315.3 1813.9,1309.8 1814.8,1314.8 1815.6,1314.8 1816.5,1318.7 1817.3,1323.4 1818.2,1325.3 1819.0,1317.9 1819.9,1326.0 1820.7,1328.2 1821.6,1328.3 1822.4,1325.2 1823.3,1323.8 1824.1,1330.5 1825.0,1331.6 1825.8,1330.0 1826.7,1332.9 1827.5,1332.5 1828.4,1336.1 1829.2,1324.3 1830.1,1336.7 1830.9,1331.5 1831.8,1334.2 1832.6,1332.2 1833.5,1333.0 1834.3,1345.6 1835.2,1332.3 1836.0,1334.8 1836.9,1337.9 1837.7,1335.6 1838.6,1338.5 1839.4,1335.3 1840.3,1336.5 1841.1,1347.9 1842.0,1343.9 1842.8,1347.0 1843.7,1335.4 1844.5,1342.9 1845.4,1343.6 1846.2,1350.2 1847.1,1348.7 1847.9,1349.2 1848.8,1347.8 1849.6,1351.7 1850.5,1353.7 1851.3,1356.0 1852.2,1349.7 1853.0,1350.2 1853.9,1356.3 1854.7,1360.9 1855.6,1350.4 1856.4,1359.3 1857.3,1359.6 1858.1,1354.7 1859.0,1354.6 1859.8,1363.5 1860.7,1363.1 1861.5,1358.1 1862.4,1360.8 1863.2,1361.3 1864.1,1359.1 1864.9,1362.2 1865.8,1364.5 1866.6,1361.7 1867.5,1367.4 1868.3,1363.2 1869.2,1359.5 1870.0,1360.4 1870.9,1366.5 1871.7,1364.2 1872.6,1363.9 1873.4,1354.1 1874.3,1364.2 1875.1,1368.4 1876.0,1363.5 1876.8,1369.1 1877.7,1364.6 1878.5,1364.1 1879.4,1364.4 1880.2,1366.3 1881.1,1365.5 1881.9,1365.7 1882.8,1366.9 1883.6,1370.7 1884.5,1364.4 1885.3,1370.3 1886.2,1365.0 1887.0,1368.6 1887.9,1367.6 1888.7,1363.4 1889.6,1364.6 1890.4,1362.2 1891.3,1368.4 1892.1,1367.6 1893.0,1366.2 1893.8,1363.3 1894.7,1363.2 1895.5,1364.4 1896.4,1360.4 1897.2,1363.3 1898.1,1361.6 1898.9,1364.7 1899.8,1358.3 1900.6,1369.7 1901.5,1364.8 1902.3,1366.9 1903.2,1368.0 1904.0,1365.8 1904.9,1363.7 1905.7,1370.4 1906.6,1363.7 1907.4,1362.1 1908.3,1364.5 1909.1,1369.1 1910.0,1363.0 1910.8,1365.2 1911.7,1364.9 1912.5,1365.4 1913.4,1371.0 1914.2,1363.0 1915.1,1363.9 1915.9,1362.7 1916.8,1360.0 1917.6,1369.6 1918.5,1363.2 1919.3,1363.1 1920.2,1364.7 1921.0,1355.0 1921.9,1358.2 1922.7,1361.5 1923.6,1363.7 1924.4,1355.3 1925.3,1360.4 1926.1,1355.2 1927.0,1358.9 1927.8,1354.4 1928.7,1354.9 1929.5,1352.0 1930.4,1356.7 1931.2,1352.4 1932.1,1349.4 1932.9,1349.8 1933.8,1354.4 1934.6,1349.7 1935.5,1353.4 1936.3,1347.5 1937.2,1346.5 1938.0,1348.7 1938.9,1349.9 1939.7,1352.1 1940.6,1353.6 1941.4,1351.6 1942.3,1350.8 1943.1,1354.7 1944.0,1355.8 1944.8,1349.3 1945.7,1352.6 1946.5,1359.2 1947.4,1355.1 1948.2,1355.8 1949.1,1358.8 1949.9,1356.0 1950.8,1357.1 1951.6,1363.1 1952.5,1365.1 1953.3,1366.0 1954.2,1361.7 1955.0,1355.8 1955.9,1363.9 1956.7,1364.3 1957.6,1359.9 1958.4,1360.5 1959.3,1359.4 1960.1,1364.6 1961.0,1362.0 1961.8,1364.0 1962.7,1365.6 1963.5,1370.6 1964.4,1363.7 1965.2,1370.1 1966.1,1368.5 1966.9,1370.2 1967.8,1366.0 1968.6,1367.7 1969.5,1365.2 1970.3,1369.6 1971.2,1366.7 1972.0,1367.0 1972.9,1368.9 1973.7,1368.7 1974.6,1366.9 1975.4,1368.5 1976.3,1370.0 1977.1,1367.4 1978.0,1368.2 1978.8,1368.5 1979.7,1365.9 1980.5,1364.0 1981.4,1371.0 1982.2,1368.2 1983.1,1367.3 1983.9,1370.1 1984.8,1371.9 1985.6,1368.6 1986.5,1366.3 1987.3,1367.8 1988.2,1369.8 1989.0,1370.8 1989.9,1369.3 1990.7,1372.0 1991.6,1371.3 1992.4,1370.5 1993.3,1368.6 1994.1,1370.1 1995.0,1369.9 1995.8,1366.2 1996.7,1367.2 1997.5,1363.1 1998.4,1365.9 1999.2,1367.3 2000.1,1369.3 2000.9,1366.7 2001.8,1364.5 2002.6,1368.9 2003.5,1365.9 2004.3,1370.1 2005.2,1363.4 2006.0,1368.8 2006.9,1365.9 2007.7,1365.4 2008.6,1368.9 2009.4,1366.3 2010.3,1366.3 2011.1,1364.2 2012.0,1366.4 2012.8,1370.7 2013.7,1370.1 2014.5,1368.3 2015.4,1370.2 2016.2,1371.0 2017.1,1362.2 2017.9,1363.0 2018.8,1369.1 2019.6,1366.3 2020.5,1360.1 2021.3,1371.8 2022.2,1370.7 2023.0,1366.4 2023.9,1365.4 2024.7,1368.3 2025.6,1369.2 2026.4,1362.3 2027.3,1371.3 2028.1,1369.0 2029.0,1369.5 2029.8,1369.4 2030.7,1364.8 2031.5,1366.8 2032.4,1371.4 2033.2,1368.2 2034.1,1367.8 2034.9,1368.5 2035.8,1364.1 2036.6,1367.5 2037.5,1369.5 2038.3,1365.7 2039.2,1369.8 2040.0,1369.8 2040.9,1364.4 2041.7,1372.3 2042.6,1364.5 2043.4,1368.0 2044.3,1364.7 2045.1,1372.4 2046.0,1369.7 2046.8,1364.1 2047.7,1372.4 2048.5,1371.6 2049.4,1370.9 2050.2,1368.7 2051.1,1370.8 2051.9,1368.6 2052.8,1367.7 2053.6,1369.6 2054.5,1369.1 2055.3,1365.8 2056.2,1377.0 2057.0,1374.4 2057.9,1372.8 2058.7,1372.6 2059.6,1369.1 2060.4,1371.7 2061.3,1359.6 2062.1,1375.0 2063.0,1370.5 2063.8,1370.2 2064.7,1370.3 2065.5,1372.6 2066.4,1370.0 2067.2,1371.4 2068.1,1373.4 2068.9,1370.3 2069.8,1366.7 2070.6,1370.4 2071.5,1372.0 2072.3,1370.7 2073.2,1372.9 2074.0,1364.9 2074.9,1367.7 2075.7,1372.0 2076.6,1370.4 2077.4,1376.1 2078.3,1367.9 2079.1,1369.2 2080.0,1372.5 2080.8,1372.1 2081.7,1367.8 2082.5,1369.2 2083.4,1369.8 2084.2,1370.1 2085.1,1370.7 2085.9,1375.6 2086.8,1367.8 2087.6,1371.9 2088.5,1368.3 2089.3,1370.7" stroke="#00CCCC"/>
<polyline points="307.7,1121.0 308.6,1110.2 309.4,1104.8 310.3,1116.9 311.1,1118.8 312.0,1108.1 312.8,1121.1 313.7,1119.2 314.5,1121.9 315.4,1119.0 316.2,1131.5 317.1,1132.1 317.9,1125.3 318.8,1127.4 319.6,1130.1 320.5,1129.6 321.3,1135.8 322.2,1132.7 323.0,1132.9 323.9,1136.1 324.7,1134.4 325.6,1141.1 326.4,1136.7 327.3,1143.3 328.1,1147.0 329.0,1143.6 329.8,1149.5 330.7,1155.3 331.5,1141.8 332.4,1147.6 333.2,1146.4 334.1,1156.9 334.9,1155.6 335.8,1151.2 336.6,1141.8 337.5,1155.3 338.3,1151.2 339.2,1158.5 340.0,1155.8 340.9,1165.1 341.7,1162.4 342.6,1168.1 343.4,1164.6 344.3,1167.7 345.1,1167.0 346.0,1161.4 346.8,1172.9 347.7,1166.2 348.5,1177.4 349.4,1176.9 350.2,1169.2 351.1,1169.9 351.9,1172.7 352.8,1157.6 353.6,1172.5 354.5,1170.0 355.3,1161.2 356.2,1182.4 357.0,1172.4 357.9,1176.3 358.7,1188.6 359.6,1172.4 360.4,1178.7 361.3,1176.6 362.1,1176.2 363.0,1176.8 363.8,1181.3 364.7,1187.1 365.5,1191.0 366.4,1182.1 367.2,1193.3 368.1,1185.7 368.9,1190.1 369.8,1200.4 370.6,1182.9 371.5,1187.6 372.3,1185.2 373.2,1192.3 374.0,1188.5 374.9,1189.7 375.7,1194.4 376.6,1184.3 377.4,1182.9 378.3,1183.9 379.1,1163.1 380.0,1179.4 380.8,1183.7 381.7,1182.0 382.5,1175.3 383.4,1182.1 384.2,1180.6 385.1,1180.7 385.9,1169.5 386.8,1172.1 387.6,1176.3 388.5,1162.2 389.3,1168.7 390.2,1165.1 391.0,1162.2 391.9,1167.9 392.7,1170.6 393.6,1171.4 394.4,1175.4 395.3,1185.6 396.1,1186.1 397.0,1213.3 397.8,1190.6 398.7,1196.7 399.5,1196.1 400.4,1201.6 401.2,1212.8 402.1,1207.6 402.9,1204.6 403.8,1214.7 404.6,1216.6 405.5,1215.2 406.3,1213.1 407.2,1222.9 408.0,1221.5 408.9,1231.3 409.7,1232.9 410.6,1238.4 411.4,1235.4 412.3,1237.0 413.1,1233.1 414.0,1245.7 414.8,1232.2 415.7,1250.7 416.5,1235.8 417.4,1236.8 418.2,1241.4 419.1,1248.6 419.9,1243.4 420.8,1238.8 421.6,1247.9 422.5,1244.3 423.3,1244.7 424.2,1247.3 425.0,1249.5 425.9,1248.0 426.7,1248.9 427.6,1249.4 428.4,1243.0 429.3,1247.7 430.1,1246.6 431.0,1253.3 431.8,1252.1 432.7,1254.1 433.5,1252.6 434.4,1257.8 435.2,1255.4 436.1,1260.9 436.9,1258.1 437.8,1257.7 438.6,1258.1 439.5,1256.8 440.3,1260.1 441.2,1264.9 442.0,1261.9 442.9,1266.7 443.7,1267.1 444.6,1258.1 445.4,1259.8 446.3,1263.9 447.1,1249.9 448.0,1264.6 448.8,1272.8 449.7,1267.8 450.5,1256.3 451.4,1267.0 452.2,1271.0 453.1,1272.8 453.9,1274.4 454.8,1265.6 455.6,1273.0 456.5,1266.4 457.3,1272.7 458.2,1280.1 459.0,1269.7 459.9,1271.7 460.7,1267.7 461.6,1273.8 462.4,1272.2 463.3,1275.8 464.1,1275.6 465.0,1274.2 465.8,1273.7 466.7,1276.4 467.5,1288.7 468.4,1284.6 469.2,1282.5 470.1,1270.4 470.9,1271.7 471.8,1283.5 472.6,1277.0 473.5,1282.3 474.3,1277.9 475.2,1278.6 476.0,1283.3 476.9,1288.0 477.7,1290.1 478.6,1281.9 479.4,1288.0 480.3,1281.2 481.1,1279.2 482.0,1286.5 482.8,1283.9 483.7,1293.9 484.5,1292.2 485.4,1288.1 486.2,1291.7 487.1,1297.7 487.9,1288.9 488.8,1294.1 489.6,1293.2 490.5,1296.2 491.3,1291.0 492.2,1293.9 493.0,1298.1 493.9,1301.2 494.7,1298.3 495.6,1297.7 496.4,1295.8 497.3,1299.9 498.1,1301.3 499.0,1306.1 499.8,1303.4 500.7,1301.9 501.5,1305.9 502.4,1295.4 503.2,1300.4 504.1,1296.8 504.9,1306.8 505.8,1304.9 506.6,1301.7 507.5,1305.4 508.3,1302.9 509.2,1314.7 510.0,1300.3 510.9,1306.3 511.7,1303.1 512.6,1305.4 513.4,1311.7 514.3,1311.8 515.1,1307.7 516.0,1310.4 516.8,1315.1 517.7,1307.3 518.5,1303.1 519.4,1308.4 520.2,1311.1 521.1,1315.9 521.9,1307.9 522.8,1313.1 523.6,1315.6 524.5,1314.4 525.3,1314.3 526.2,1321.1 527.0,1317.5 527.9,1308.3 528.7,1319.8 529.6,1316.8 530.4,1308.5 531.3,1309.5 532.1,1321.1 533.0,1317.1 533.8,1322.1 534.7,1314.2 535.5,1327.0 536.4,1316.6 537.2,1325.3 538.1,1325.3 538.9,1319.0 539.8,1326.4 540.6,1330.5 541.5,1330.5 542.3,1330.2 543.2,1339.1 544.0,1326.7 544.9,1330.7 545.7,1325.5 546.6,1327.8 547.4,1334.0 548.3,1328.5 549.1,1334.0 550.0,1322.5 550.8,1328.1 551.7,1327.9 552.5,1327.5 553.4,1334.1 554.2,1340.6 555.1,1329.8 555.9,1336.7 556.8,1333.2 557.6,1332.4 558.5,1332.1 559.3,1335.9 560.2,1327.7 561.0,1333.1 561.9,1334.4 562.7,1335.9 563.6,1336.0 564.4,1336.3 565.3,1335.3 566.1,1335.0 567.0,1333.4 567.8,1324.6 568.7,1325.9 569.5,1334.8 570.4,1336.9 571.2,1346.5 572.1,1348.4 572.9,1349.7 573.8,1341.2 574.6,1337.9 575.5,1336.9 576.3,1338.6 577.2,1333.4 578.0,1336.3 578.9,1332.8 579.7,1344.4 580.6,1340.5 581.4,1342.8 582.3,1334.4 583.1,1337.6 584.0,1347.5 584.8,1341.0 585.7,1343.4 586.5,1346.4 587.4,1341.7 588.2,1342.1 589.1,1340.7 589.9,1337.6 590.8,1343.7 591.6,1333.1 592.5,1339.7 593.3,1345.1 594.2,1349.9 595.0,1343.0 595.9,1343.1 596.7,1346.4 597.6,1342.6 598.4,1340.1 599.3,1330.4 600.1,1333.0 601.0,1344.6 601.8,1345.8 602.7,1343.7 603.5,1343.9 604.4,1348.3 605.2,1355.9 606.1,1347.3 606.9,1348.4 607.8,1345.2 608.6,1347.8 609.5,1335.3 610.3,1353.8 611.2,1350.0 612.0,1348.4 612.9,1346.0 613.7,1359.7 614.6,1352.4 615.4,1351.1 616.3,1344.5 617.1,1354.3 618.0,1348.4 618.8,1349.9 619.7,1345.9 620.5,1354.3 621.4,1346.1 622.2,1356.8 623.1,1332.3 623.9,1354.6 624.8,1351.3 625.6,1351.5 626.5,1355.2 627.3,1351.1 628.2,1357.8 629.0,1351.7 629.9,1352.1 630.7,1352.8 631.6,1347.3 632.4,1357.0 633.3,1351.4 634.1,1351.6 635.0,1347.0 635.8,1353.3 636.7,1350.9 637.5,1348.9 638.4,1353.9 639.2,1352.4 640.1,1357.3 640.9,1355.5 641.8,1356.3 642.6,1352.9 643.5,1360.6 644.3,1355.1 645.2,1348.1 646.0,1357.8 646.9,1353.7 647.7,1352.7 648.6,1349.8 649.4,1360.5 650.3,1353.0 651.1,1357.1 652.0,1351.3 652.8,1354.5 653.7,1349.2 654.5,1363.0 655.4,1347.9 656.2,1353.3 657.1,1354.2 657.9,1352.3 658.8,1348.6 659.6,1345.8 660.5,1350.1 661.3,1355.3 662.2,1353.9 663.0,1356.9 663.9,1347.7 664.7,1350.5 665.6,1348.6 666.4,1347.8 667.3,1349.6 668.1,1356.3 669.0,1340.8 669.8,1343.0 670.7,1343.5 671.5,1338.7 672.4,1336.9 673.2,1336.8 674.1,1330.4 674.9,1329.2 675.8,1338.6 676.6,1320.3 677.5,1322.7 678.3,1312.7 679.2,1309.4 680.0,1296.3 680.9,1290.9 681.7,1279.8 682.6,1279.3 683.4,1267.2 684.3,1255.3 685.1,1248.1 686.0,1236.2 686.8,1212.8 687.7,1196.3 688.5,1178.7 689.4,1161.1 690.2,1142.1 691.1,1134.1 691.9,1121.5 692.8,1121.7 693.6,1129.8 694.5,1137.1 695.3,1154.9 696.2,1168.4 697.0,1180.8 697.9,1193.7 698.7,1212.9 699.6,1232.0 700.4,1239.0 701.3,1255.6 702.1,1260.2 703.0,1270.0 703.8,1271.1 704.7,1278.1 705.5,1288.7 706.4,1282.6 707.2,1292.9 708.1,1290.4 708.9,1300.3 709.8,1301.2 710.6,1307.5 711.5,1303.6 712.3,1313.1 713.2,1322.6 714.0,1327.8 714.9,1339.6 715.7,1340.0 716.6,1345.3 717.4,1348.7 718.3,1359.0 719.1,1355.1 720.0,1351.7 720.8,1357.2 721.7,1368.0 722.5,1359.8 723.4,1357.9 724.2,1359.8 725.1,1356.3 725.9,1362.9 726.8,1365.0 727.6,1360.5 728.5,1366.5 729.3,1364.6 730.2,1365.1 731.0,1361.9 731.9,1368.2 732.7,1364.2 733.6,1368.4 734.4,1374.9 735.3,1373.8 736.1,1367.9 737.0,1370.6 737.8,1375.6 738.7,1369.9 739.5,1381.5 740.4,1371.4 741.2,1372.2 742.1,1369.8 742.9,1375.4 743.8,1371.4 744.6,1373.9 745.5,1379.4 746.3,1378.0 747.2,1376.7 748.0,1379.8 748.9,1376.8 749.7,1375.6 750.6,1374.0 751.4,1372.3 752.3,1379.8 753.1,1374.6 754.0,1375.8 754.8,1381.0 755.7,1373.5 756.5,1377.9 757.4,1377.8 758.2,1379.9 759.1,1375.8 759.9,1384.4 760.8,1365.0 761.6,1386.0 762.5,1378.2 763.3,1380.5 764.2,1373.1 765.0,1377.2 765.9,1373.8 766.7,1380.3 767.6,1380.2 768.4,1384.4 769.3,1380.3 770.1,1377.2 771.0,1379.1 771.8,1382.7 772.7,1383.5 773.5,1378.1 774.4,1378.0 775.2,1374.4 776.1,1373.9 776.9,1376.0 777.8,1372.5 778.6,1376.7 779.5,1373.4 780.3,1365.6 781.2,1369.7 782.0,1367.5 782.9,1374.2 783.7,1369.6 784.6,1374.3 785.4,1369.7 786.3,1368.2 787.1,1371.7 788.0,1360.6 788.8,1366.3 789.7,1365.2 790.5,1364.8 791.4,1362.9 792.2,1362.3 793.1,1357.0 793.9,1364.7 794.8,1359.4 795.6,1355.2 796.5,1359.8 797.3,1357.1 798.2,1351.4 799.0,1345.2 799.9,1342.7 800.7,1340.5 801.6,1343.6 802.4,1337.3 803.3,1329.0 804.1,1332.2 805.0,1321.2 805.8,1311.3 806.7,1310.1 807.5,1303.5 808.4,1301.0 809.2,1292.8 810.1,1281.3 810.9,1273.1 811.8,1271.1 812.6,1261.2 813.5,1254.6 814.3,1242.8 815.2,1230.4 816.0,1219.2 816.9,1205.0 817.7,1193.2 818.6,1159.2 819.4,1141.0 820.3,1118.5 821.1,1086.2 822.0,1057.4 822.8,1013.6 823.7,951.2 824.5,909.2 825.4,852.5 826.2,776.4 827.1,715.2 827.9,643.5 828.8,590.9 829.6,561.5 830.5,557.5 831.3,571.5 832.2,617.5 833.0,667.5 833.9,729.9 834.7,809.0 835.6,864.9 836.4,905.7 837.3,966.5 838.1,1016.4 839.0,1046.0 839.8,1085.7 840.7,1116.1 841.5,1132.8 842.4,1151.2 843.2,1172.3 844.1,1186.8 844.9,1197.4 845.8,1203.3 846.6,1211.9 847.5,1234.4 848.3,1233.9 849.2,1251.9 850.0,1249.0 850.9,1269.9 851.7,1283.4 852.6,1291.8 853.4,1301.1 854.3,1320.6 855.1,1324.6 856.0,1335.7 856.8,1331.8 857.7,1335.4 858.5,1339.8 859.4,1349.5 860.2,1349.1 861.1,1348.3 861.9,1349.1 862.8,1344.7 863.6,1348.8 864.5,1349.1 865.3,1344.8 866.2,1345.9 867.0,1351.2 867.9,1343.0 868.7,1344.3 869.6,1354.9 870.4,1356.0 871.3,1355.4 872.1,1356.5 873.0,1364.8 873.8,1369.3 874.7,1374.1 875.5,1372.7 876.4,1378.5 877.2,1382.6 878.1,1382.7 878.9,1387.5 879.8,1391.2 880.6,1392.5 881.5,1390.2 882.3,1393.9 883.2,1397.3 884.0,1399.0 884.9,1401.3 885.7,1405.5 886.6,1400.7 887.4,1414.9 888.3,1411.7 889.1,1415.7 890.0,1412.4 890.8,1408.8 891.7,1411.9 892.5,1416.9 893.4,1419.9 894.2,1417.9 895.1,1416.8 895.9,1411.1 896.8,1416.2 897.6,1413.8 898.5,1418.3 899.3,1417.8 900.2,1417.7 901.0,1416.6 901.9,1420.8 902.7,1423.7 903.6,1420.2 904.4,1421.7 905.3,1422.9 906.1,1420.7 907.0,1422.3 907.8,1419.7 908.7,1418.0 909.5,1422.2 910.4,1424.8 911.2,1425.4 912.1,1418.6 912.9,1425.0 913.8,1425.0 914.6,1430.1 915.5,1434.8 916.3,1425.5 917.2,1421.4 918.0,1423.7 918.9,1418.5 919.7,1422.4 920.6,1435.6 921.4,1422.0 922.3,1422.3 923.1,1424.0 924.0,1423.7 924.8,1422.4 925.7,1433.6 926.5,1424.2 927.4,1427.4 928.2,1422.2 929.1,1424.5 929.9,1426.2 930.8,1423.6 931.6,1426.7 932.5,1424.6 933.3,1431.3 934.2,1424.9 935.0,1428.2 935.9,1425.5 936.7,1429.1 937.6,1434.0 938.4,1427.6 939.3,1435.0 940.1,1425.4 941.0,1430.1 941.8,1427.7 942.7,1425.2 943.5,1431.9 944.4,1428.0 945.2,1424.7 946.1,1426.0 946.9,1429.3 947.8,1430.7 948.6,1432.2 949.5,1422.5 950.3,1426.1 951.2,1428.1 952.0,1431.3 952.9,1431.4 953.7,1431.2 954.6,1429.1 955.4,1424.7 956.3,1427.9 957.1,1434.1 958.0,1429.2 958.8,1429.0 959.7,1426.7 960.5,1425.2 961.4,1429.7 962.2,1428.2 963.1,1427.6 963.9,1435.8 964.8,1426.9 965.6,1428.1 966.5,1426.4 967.3,1429.5 968.2,1427.0 969.0,1434.2 969.9,1429.4 970.7,1425.9 971.6,1423.6 972.4,1429.6 973.3,1430.1 974.1,1432.1 975.0,1427.7 975.8,1428.6 976.7,1430.4 977.5,1424.6 978.4,1431.3 979.2,1428.9 980.1,1430.2 980.9,1425.5 981.8,1432.9 982.6,1431.2 983.5,1430.6 984.3,1432.2 985.2,1424.7 986.0,1428.7 986.9,1428.6 987.7,1425.7 988.6,1429.3 989.4,1427.0 990.3,1426.3 991.1,1429.5 992.0,1429.3 992.8,1428.1 993.7,1434.6 994.5,1426.5 995.4,1425.8 996.2,1422.9 997.1,1424.0 997.9,1417.8 998.8,1422.3 999.6,1422.7 1000.5,1419.5 1001.3,1420.3 1002.2,1423.9 1003.0,1415.4 1003.9,1415.4 1004.7,1414.3 1005.6,1409.1 1006.4,1405.4 1007.3,1396.7 1008.1,1396.6 1009.0,1387.1 1009.8,1375.0 1010.7,1373.6 1011.5,1369.9 1012.4,1360.6 1013.2,1363.3 1014.1,1352.8 1014.9,1344.2 1015.8,1342.4 1016.6,1334.2 1017.5,1325.4 1018.3,1325.3 1019.2,1307.6 1020.0,1299.6 1020.9,1289.5 1021.7,1282.7 1022.6,1274.1 1023.4,1270.3 1024.3,1267.4 1025.1,1276.6 1026.0,1283.1 1026.8,1284.7 1027.7,1295.7 1028.5,1304.3 1029.4,1320.9 1030.2,1323.6 1031.1,1333.6 1031.9,1344.4 1032.8,1346.6 1033.6,1352.4 1034.5,1355.6 1035.3,1359.3 1036.2,1364.4 1037.0,1369.8 1037.9,1366.9 1038.7,1378.1 1039.6,1382.4 1040.4,1386.7 1041.3,1392.4 1042.1,1392.8 1043.0,1399.1 1043.8,1402.1 1044.7,1405.6 1045.5,1408.0 1046.4,1413.4 1047.2,1413.5 1048.1,1413.5 1048.9,1424.3 1049.8,1411.2 1050.6,1422.0 1051.5,1419.8 1052.3,1420.7 1053.2,1422.0 1054.0,1423.3 1054.9,1426.4 1055.7,1426.9 1056.6,1426.9 1057.4,1428.3 1058.3,1426.7 1059.1,1426.9 1060.0,1431.3 1060.8,1430.8 1061.7,1440.1 1062.5,1432.4 1063.4,1431.7 1064.2,1433.1 1065.1,1434.9 1065.9,1433.4 1066.8,1438.1 1067.6,1439.1 1068.5,1436.0 1069.3,1438.1 1070.2,1439.7 1071.0,1436.7 1071.9,1443.6 1072.7,1439.5 1073.6,1437.1 1074.4,1438.9 1075.3,1442.7 1076.1,1439.5 1077.0,1441.8 1077.8,1442.7 1078.7,1434.7 1079.5,1441.5 1080.4,1456.1 1081.2,1441.1 1082.1,1439.7 1082.9,1439.5 1083.8,1439.4 1084.6,1445.1 1085.5,1444.5 1086.3,1444.1 1087.2,1443.0 1088.0,1442.2 1088.9,1440.5 1089.7,1443.7 1090.6,1447.0 1091.4,1446.4 1092.3,1445.7 1093.1,1445.0 1094.0,1444.4 1094.8,1445.5 1095.7,1443.1 1096.5,1446.4 1097.4,1444.6 1098.2,1434.2 1099.1,1445.0 1099.9,1452.0 1100.8,1443.0 1101.6,1442.7 1102.5,1448.9 1103.3,1441.8 1104.2,1446.7 1105.0,1445.0 1105.9,1445.6 1106.7,1446.0 1107.6,1444.3 1108.4,1440.2 1109.3,1446.9 1110.1,1435.3 1111.0,1443.4 1111.8,1444.9 1112.7,1450.4 1113.5,1444.9 1114.4,1445.2 1115.2,1448.9 1116.1,1444.8 1116.9,1446.7 1117.8,1439.2 1118.6,1448.4 1119.5,1442.2 1120.3,1443.6 1121.2,1449.3 1122.0,1446.8 1122.9,1447.2 1123.7,1444.8 1124.6,1445.3 1125.4,1445.0 1126.3,1442.3 1127.1,1442.4 1128.0,1442.4 1128.8,1442.6 1129.7,1445.1 1130.5,1442.7 1131.4,1445.3 1132.2,1446.7 1133.1,1446.8 1133.9,1445.2 1134.8,1444.7 1135.6,1445.9 1136.5,1443.0 1137.3,1446.9 1138.2,1443.4 1139.0,1444.3 1139.9,1446.2 1140.7,1444.2 1141.6,1441.7 1142.4,1448.1 1143.3,1448.0 1144.1,1439.4 1145.0,1447.4 1145.8,1445.7 1146.7,1449.5 1147.5,1446.8 1148.4,1451.4 1149.2,1443.4 1150.1,1442.9 1150.9,1445.6 1151.8,1447.0 1152.6,1449.7 1153.5,1443.5 1154.3,1439.0 1155.2,1444.6 1156.0,1442.0 1156.9,1446.5 1157.7,1443.6 1158.6,1437.5 1159.4,1443.7 1160.3,1440.2 1161.1,1445.4 1162.0,1443.7 1162.8,1448.0 1163.7,1451.9 1164.5,1450.5 1165.4,1451.0 1166.2,1447.0 1167.1,1450.7 1167.9,1445.4 1168.8,1448.6 1169.6,1445.6 1170.5,1443.9 1171.3,1445.7 1172.2,1446.9 1173.0,1443.3 1173.9,1452.4 1174.7,1439.5 1175.6,1446.9 1176.4,1447.0 1177.3,1450.9 1178.1,1447.4 1179.0,1443.6 1179.8,1450.9 1180.7,1443.0 1181.5,1451.5 1182.4,1449.8 1183.2,1449.0 1184.1,1449.1 1184.9,1448.9 1185.8,1447.9 1186.6,1446.4 1187.5,1447.2 1188.3,1438.0 1189.2,1444.3 1190.0,1449.5 1190.9,1446.5 1191.7,1444.4 1192.6,1458.6 1193.4,1448.9 1194.3,1448.0 1195.1,1445.5 1196.0,1451.5 1196.8,1441.7 1197.7,1450.4 1198.5,1442.1 1199.4,1446.2 1200.2,1445.1 1201.1,1448.5 1201.9,1448.0 1202.8,1449.8 1203.6,1451.1 1204.5,1445.1 1205.3,1444.0 1206.2,1448.3 1207.0,1449.8 1207.9,1449.1 1208.7,1444.2 1209.6,1443.3 1210.4,1444.8 1211.3,1443.2 1212.1,1455.0 1213.0,1447.6 1213.8,1443.5 1214.7,1445.0 1215.5,1450.3 1216.4,1442.4 1217.2,1446.7 1218.1,1443.1 1218.9,1441.4 1219.8,1448.1 1220.6,1445.0 1221.5,1444.1 1222.3,1451.0 1223.2,1447.2 1224.0,1446.9 1224.9,1449.3 1225.7,1443.6 1226.6,1446.1 1227.4,1447.8 1228.3,1446.1 1229.1,1448.7 1230.0,1445.0 1230.8,1445.7 1231.7,1447.7 1232.5,1442.0 1233.4,1443.7 1234.2,1443.2 1235.1,1443.8 1235.9,1444.8 1236.8,1454.3 1237.6,1443.0 1238.5,1448.7 1239.3,1440.8 1240.2,1444.2 1241.0,1445.4 1241.9,1446.2 1242.7,1440.7 1243.6,1448.4 1244.4,1448.8 1245.3,1441.0 1246.1,1444.0 1247.0,1445.8 1247.8,1447.9 1248.7,1446.6 1249.5,1441.5 1250.4,1442.2 1251.2,1447.3 1252.1,1443.4 1252.9,1443.5 1253.8,1440.9 1254.6,1438.9 1255.5,1440.6 1256.3,1440.6 1257.2,1437.2 1258.0,1438.4 1258.9,1435.9 1259.7,1435.6 1260.6,1442.0 1261.4,1438.0 1262.3,1434.0 1263.1,1438.8 1264.0,1440.6 1264.8,1437.8 1265.7,1438.0 1266.5,1438.0 1267.4,1434.7 1268.2,1437.5 1269.1,1434.7 1269.9,1432.5 1270.8,1436.2 1271.6,1433.8 1272.5,1427.0 1273.3,1429.0 1274.2,1431.3 1275.0,1424.0 1275.9,1415.3 1276.7,1419.6 1277.6,1416.7 1278.4,1413.9 1279.3,1406.3 1280.1,1407.4 1281.0,1397.0 1281.8,1388.7 1282.7,1390.1 1283.5,1389.5 1284.4,1382.1 1285.2,1379.0 1286.1,1375.0 1286.9,1371.5 1287.8,1369.9 1288.6,1373.2 1289.5,1372.1 1290.3,1376.3 1291.2,1377.7 1292.0,1382.5 1292.9,1386.3 1293.7,1386.3 1294.6,1391.3 1295.4,1394.2 1296.3,1397.4 1297.1,1392.8 1298.0,1401.9 1298.8,1405.1 1299.7,1405.9 1300.5,1412.2 1301.4,1412.1 1302.2,1411.8 1303.1,1411.2 1303.9,1408.8 1304.8,1415.3 1305.6,1416.3 1306.5,1418.8 1307.3,1417.3 1308.2,1414.2 1309.0,1420.5 1309.9,1419.4 1310.7,1424.5 1311.6,1423.9 1312.4,1431.4 1313.3,1426.2 1314.1,1430.1 1315.0,1428.2 1315.8,1432.5 1316.7,1432.2 1317.5,1439.0 1318.4,1434.6 1319.2,1433.3 1320.1,1430.4 1320.9,1436.6 1321.8,1438.5 1322.6,1436.8 1323.5,1436.4 1324.3,1433.2 1325.2,1438.8 1326.0,1433.5 1326.9,1435.8 1327.7,1434.3 1328.6,1437.9 1329.4,1437.3 1330.3,1436.1 1331.1,1438.0 1332.0,1438.0 1332.8,1438.2 1333.7,1430.0 1334.5,1434.4 1335.4,1436.0 1336.2,1430.8 1337.1,1434.6 1337.9,1438.2 1338.8,1431.7 1339.6,1435.0 1340.5,1433.0 1341.3,1436.8 1342.2,1436.0 1343.0,1431.4 1343.9,1431.5 1344.7,1433.3 1345.6,1429.6 1346.4,1433.1 1347.3,1431.1 1348.1,1437.0 1349.0,1429.2 1349.8,1427.6 1350.7,1424.8 1351.5,1424.7 1352.4,1425.7 1353.2,1422.5 1354.1,1432.0 1354.9,1425.0 1355.8,1419.9 1356.6,1413.1 1357.5,1415.0 1358.3,1413.4 1359.2,1409.1 1360.0,1415.2 1360.9,1406.8 1361.7,1402.4 1362.6,1399.9 1363.4,1396.1 1364.3,1398.0 1365.1,1386.9 1366.0,1387.1 1366.8,1380.2 1367.7,1377.7 1368.5,1367.7 1369.4,1362.3 1370.2,1349.9 1371.1,1345.6 1371.9,1329.7 1372.8,1317.4 1373.6,1305.4 1374.5,1292.6 1375.3,1280.2 1376.2,1267.7 1377.0,1257.2 1377.9,1241.6 1378.7,1239.7 1379.6,1236.0 1380.4,1238.3 1381.3,1241.6 1382.1,1245.1 1383.0,1252.9 1383.8,1265.5 1384.7,1275.6 1385.5,1288.0 1386.4,1292.1 1387.2,1297.8 1388.1,1306.4 1388.9,1307.2 1389.8,1314.9 1390.6,1315.1 1391.5,1325.0 1392.3,1333.9 1393.2,1343.1 1394.0,1353.1 1394.9,1369.7 1395.7,1361.1 1396.6,1374.3 1397.4,1379.1 1398.3,1379.2 1399.1,1385.3 1400.0,1393.6 1400.8,1405.5 1401.7,1409.4 1402.5,1401.9 1403.4,1409.7 1404.2,1409.1 1405.1,1412.8 1405.9,1412.5 1406.8,1422.3 1407.6,1419.7 1408.5,1422.6 1409.3,1422.6 1410.2,1427.3 1411.0,1427.8 1411.9,1426.9 1412.7,1431.2 1413.6,1435.8 1414.4,1435.4 1415.3,1434.6 1416.1,1433.5 1417.0,1434.2 1417.8,1441.0 1418.7,1439.8 1419.5,1439.9 1420.4,1434.8 1421.2,1442.7 1422.1,1439.9 1422.9,1443.6 1423.8,1442.7 1424.6,1441.4 1425.5,1442.6 1426.3,1444.9 1427.2,1443.9 1428.0,1444.2 1428.9,1447.4 1429.7,1447.5 1430.6,1446.5 1431.4,1447.8 1432.3,1447.0 1433.1,1449.1 1434.0,1447.0 1434.8,1448.5 1435.7,1445.3 1436.5,1446.7 1437.4,1449.9 1438.2,1449.0 1439.1,1446.6 1439.9,1446.7 1440.8,1447.3 1441.6,1454.2 1442.5,1448.4 1443.3,1448.1 1444.2,1449.0 1445.0,1452.8 1445.9,1454.6 1446.7,1452.7 1447.6,1448.3 1448.4,1451.1 1449.3,1449.8 1450.1,1447.8 1451.0,1448.9 1451.8,1450.5 1452.7,1450.6 1453.5,1445.6 1454.4,1451.9 1455.2,1451.2 1456.1,1454.5 1456.9,1451.1 1457.8,1449.0 1458.6,1448.1 1459.5,1450.5 1460.3,1452.5 1461.2,1445.9 1462.0,1446.4 1462.9,1455.2 1463.7,1444.5 1464.6,1450.4 1465.4,1452.3 1466.3,1450.7 1467.1,1450.3 1468.0,1451.1 1468.8,1452.0 1469.7,1437.7 1470.5,1448.8 1471.4,1450.7 1472.2,1445.7 1473.1,1448.3 1473.9,1448.9 1474.8,1449.7 1475.6,1447.0 1476.5,1445.2 1477.3,1447.3 1478.2,1444.7 1479.0,1445.7 1479.9,1449.5 1480.7,1450.7 1481.6,1446.8 1482.4,1441.8 1483.3,1446.2 1484.1,1441.7 1485.0,1443.3 1485.8,1442.4 1486.7,1441.1 1487.5,1437.2 1488.4,1440.6 1489.2,1443.8 1490.1,1439.3 1490.9,1439.8 1491.8,1438.7 1492.6,1435.8 1493.5,1439.3 1494.3,1438.9 1495.2,1437.6 1496.0,1431.0 1496.9,1425.5 1497.7,1427.8 1498.6,1420.3 1499.4,1424.0 1500.3,1415.8 1501.1,1415.7 1502.0,1408.2 1502.8,1401.1 1503.7,1395.4 1504.5,1386.4 1505.4,1390.6 1506.2,1382.0 1507.1,1374.6 1507.9,1371.0 1508.8,1362.9 1509.6,1359.9 1510.5,1357.1 1511.3,1345.0 1512.2,1335.0 1513.0,1326.3 1513.9,1320.8 1514.7,1308.6 1515.6,1285.9 1516.4,1273.4 1517.3,1259.8 1518.1,1237.1 1519.0,1210.7 1519.8,1196.8 1520.7,1170.0 1521.5,1151.3 1522.4,1139.4 1523.2,1136.2 1524.1,1140.1 1524.9,1149.4 1525.8,1167.9 1526.6,1186.8 1527.5,1211.3 1528.3,1232.6 1529.2,1256.1 1530.0,1267.8 1530.9,1287.3 1531.7,1296.2 1532.6,1314.3 1533.4,1324.4 1534.3,1329.7 1535.1,1338.5 1536.0,1349.4 1536.8,1357.3 1537.7,1360.1 1538.5,1371.0 1539.4,1369.4 1540.2,1382.2 1541.1,1382.6 1541.9,1380.1 1542.8,1393.7 1543.6,1396.6 1544.5,1402.6 1545.3,1406.4 1546.2,1411.1 1547.0,1413.7 1547.9,1413.5 1548.7,1415.7 1549.6,1422.0 1550.4,1421.9 1551.3,1420.3 1552.1,1429.3 1553.0,1426.0 1553.8,1428.6 1554.7,1434.2 1555.5,1439.6 1556.4,1440.1 1557.2,1436.0 1558.1,1442.8 1558.9,1444.3 1559.8,1435.4 1560.6,1440.9 1561.5,1444.5 1562.3,1447.0 1563.2,1444.8 1564.0,1443.0 1564.9,1450.2 1565.7,1444.1 1566.6,1447.6 1567.4,1444.5 1568.3,1444.8 1569.1,1441.4 1570.0,1448.2 1570.8,1450.1 1571.7,1445.3 1572.5,1457.2 1573.4,1453.0 1574.2,1448.0 1575.1,1451.7 1575.9,1448.9 1576.8,1453.0 1577.6,1448.7 1578.5,1453.2 1579.3,1455.1 1580.2,1452.6 1581.0,1456.6 1581.9,1450.6 1582.7,1450.9 1583.6,1456.8 1584.4,1448.1 1585.3,1449.0 1586.1,1453.5 1587.0,1455.3 1587.8,1454.5 1588.7,1449.3 1589.5,1449.3 1590.4,1449.1 1591.2,1453.3 1592.1,1448.3 1592.9,1456.7 1593.8,1450.5 1594.6,1452.8 1595.5,1450.9 1596.3,1451.1 1597.2,1456.9 1598.0,1456.5 1598.9,1450.6 1599.7,1451.2 1600.6,1450.7 1601.4,1444.3 1602.3,1454.3 1603.1,1451.0 1604.0,1451.3 1604.8,1461.2 1605.7,1450.8 1606.5,1446.7 1607.4,1452.6 1608.2,1449.4 1609.1,1454.8 1609.9,1455.8 1610.8,1454.3 1611.6,1454.0 1612.5,1450.7 1613.3,1457.5 1614.2,1454.8 1615.0,1451.7 1615.9,1454.6 1616.7,1459.4 1617.6,1452.8 1618.4,1453.0 1619.3,1455.4 1620.1,1455.2 1621.0,1457.6 1621.8,1454.6 1622.7,1454.9 1623.5,1453.3 1624.4,1457.5 1625.2,1458.5 1626.1,1456.1 1626.9,1457.0 1627.8,1460.9 1628.6,1455.0 1629.5,1461.3 1630.3,1455.4 1631.2,1460.8 1632.0,1455.3 1632.9,1456.8 1633.7,1459.2 1634.6,1459.6 1635.4,1459.4 1636.3,1458.3 1637.1,1457.9 1638.0,1459.0 1638.8,1457.2 1639.7,1459.1 1640.5,1457.2 1641.4,1458.6 1642.2,1460.8 1643.1,1458.4 1643.9,1457.1 1644.8,1456.2 1645.6,1458.6 1646.5,1462.7 1647.3,1455.5 1648.2,1456.5 1649.0,1460.2 1649.9,1458.1 1650.7,1457.2 1651.6,1458.7 1652.4,1460.4 1653.3,1452.2 1654.1,1455.7 1655.0,1453.1 1655.8,1461.0 1656.7,1455.0 1657.5,1454.6 1658.4,1458.4 1659.2,1459.8 1660.1,1459.8 1660.9,1463.6 1661.8,1460.2 1662.6,1460.8 1663.5,1462.8 1664.3,1460.2 1665.2,1455.1 1666.0,1463.0 1666.9,1459.8 1667.7,1460.3 1668.6,1459.2 1669.4,1459.6 1670.3,1455.7 1671.1,1455.6 1672.0,1457.1 1672.8,1458.9 1673.7,1456.2 1674.5,1457.7 1675.4,1463.4 1676.2,1456.9 1677.1,1459.8 1677.9,1459.7 1678.8,1458.0 1679.6,1454.9 1680.5,1457.9 1681.3,1453.1 1682.2,1457.6 1683.0,1459.4 1683.9,1458.2 1684.7,1462.9 1685.6,1459.3 1686.4,1456.5 1687.3,1458.7 1688.1,1454.1 1689.0,1457.5 1689.8,1456.9 1690.7,1455.9 1691.5,1456.0 1692.4,1456.9 1693.2,1457.6 1694.1,1459.1 1694.9,1459.3 1695.8,1456.6 1696.6,1454.9 1697.5,1460.0 1698.3,1453.7 1699.2,1453.2 1700.0,1460.9 1700.9,1455.8 1701.7,1459.2 1702.6,1457.0 1703.4,1456.5 1704.3,1455.8 1705.1,1455.7 1706.0,1459.0 1706.8,1453.4 1707.7,1447.8 1708.5,1452.0 1709.4,1453.0 1710.2,1453.2 1711.1,1448.7 1711.9,1450.8 1712.8,1446.7 1713.6,1450.4 1714.5,1448.8 1715.3,1447.5 1716.2,1448.3 1717.0,1453.9 1717.9,1448.6 1718.7,1448.3 1719.6,1450.2 1720.4,1447.5 1721.3,1448.2 1722.1,1443.5 1723.0,1444.2 1723.8,1451.8 1724.7,1446.7 1725.5,1446.5 1726.4,1444.5 1727.2,1443.3 1728.1,1442.1 1728.9,1437.9 1729.8,1442.7 1730.6,1440.0 1731.5,1439.9 1732.3,1435.5 1733.2,1440.6 1734.0,1438.9 1734.9,1440.6 1735.7,1435.5 1736.6,1441.6 1737.4,1437.6 1738.3,1438.0 1739.1,1438.3 1740.0,1435.5 1740.8,1437.1 1741.7,1439.9 1742.5,1438.5 1743.4,1439.4 1744.2,1440.9 1745.1,1442.2 1745.9,1444.2 1746.8,1440.8 1747.6,1443.1 1748.5,1449.5 1749.3,1443.4 1750.2,1446.7 1751.0,1451.0 1751.9,1446.6 1752.7,1446.7 1753.6,1450.3 1754.4,1452.7 1755.3,1453.0 1756.1,1449.6 1757.0,1451.8 1757.8,1448.1 1758.7,1453.8 1759.5,1449.3 1760.4,1453.7 1761.2,1454.7 1762.1,1458.2 1762.9,1453.1 1763.8,1457.4 1764.6,1460.1 1765.5,1463.0 1766.3,1455.1 1767.2,1448.6 1768.0,1454.8 1768.9,1456.0 1769.7,1460.6 1770.6,1456.0 1771.4,1456.4 1772.3,1458.8 1773.1,1455.0 1774.0,1458.6 1774.8,1453.7 1775.7,1455.2 1776.5,1458.0 1777.4,1456.9 1778.2,1459.4 1779.1,1450.9 1779.9,1458.9 1780.8,1456.3 1781.6,1454.5 1782.5,1454.3 1783.3,1448.8 1784.2,1455.9 1785.0,1446.1 1785.9,1455.4 1786.7,1447.6 1787.6,1453.7 1788.4,1465.9 1789.3,1454.3 1790.1,1449.6 1791.0,1443.5 1791.8,1451.3 1792.7,1448.1 1793.5,1454.0 1794.4,1445.9 1795.2,1449.7 1796.1,1449.3 1796.9,1446.4 1797.8,1444.7 1798.6,1442.8 1799.5,1445.0 1800.3,1446.4 1801.2,1446.2 1802.0,1441.8 1802.9,1436.0 1803.7,1436.0 1804.6,1435.5 1805.4,1431.6 1806.3,1431.8 1807.1,1434.3 1808.0,1430.7 1808.8,1423.4 1809.7,1421.7 1810.5,1422.2 1811.4,1421.6 1812.2,1415.0 1813.1,1415.1 1813.9,1415.5 1814.8,1414.2 1815.6,1413.9 1816.5,1411.9 1817.3,1410.4 1818.2,1410.4 1819.0,1413.9 1819.9,1416.1 1820.7,1416.7 1821.6,1413.7 1822.4,1424.3 1823.3,1417.8 1824.1,1421.3 1825.0,1422.2 1825.8,1424.9 1826.7,1423.9 1827.5,1424.9 1828.4,1424.1 1829.2,1429.2 1830.1,1429.2 1830.9,1421.9 1831.8,1425.3 1832.6,1433.3 1833.5,1434.3 1834.3,1430.1 1835.2,1433.0 1836.0,1430.2 1836.9,1427.2 1837.7,1435.7 1838.6,1429.3 1839.4,1430.9 1840.3,1435.0 1841.1,1433.6 1842.0,1438.2 1842.8,1439.2 1843.7,1437.1 1844.5,1435.3 1845.4,1437.0 1846.2,1437.6 1847.1,1440.3 1847.9,1434.6 1848.8,1441.7 1849.6,1435.5 1850.5,1443.7 1851.3,1441.1 1852.2,1442.4 1853.0,1443.6 1853.9,1438.7 1854.7,1440.1 1855.6,1446.9 1856.4,1445.8 1857.3,1450.3 1858.1,1446.5 1859.0,1444.7 1859.8,1448.4 1860.7,1446.7 1861.5,1452.1 1862.4,1456.7 1863.2,1447.3 1864.1,1450.6 1864.9,1450.1 1865.8,1452.3 1866.6,1456.2 1867.5,1451.1 1868.3,1450.9 1869.2,1455.7 1870.0,1457.0 1870.9,1458.6 1871.7,1459.4 1872.6,1455.4 1873.4,1449.5 1874.3,1456.3 1875.1,1451.2 1876.0,1457.0 1876.8,1457.9 1877.7,1460.2 1878.5,1458.7 1879.4,1457.1 1880.2,1457.8 1881.1,1453.6 1881.9,1457.0 1882.8,1459.7 1883.6,1460.5 1884.5,1457.7 1885.3,1460.3 1886.2,1458.7 1887.0,1457.6 1887.9,1461.8 1888.7,1461.4 1889.6,1463.1 1890.4,1448.1 1891.3,1460.2 1892.1,1464.1 1893.0,1468.7 1893.8,1462.0 1894.7,1463.0 1895.5,1464.1 1896.4,1463.5 1897.2,1462.4 1898.1,1463.7 1898.9,1460.3 1899.8,1461.9 1900.6,1463.1 1901.5,1461.8 1902.3,1467.8 1903.2,1463.6 1904.0,1464.4 1904.9,1462.7 1905.7,1463.3 1906.6,1457.3 1907.4,1461.2 1908.3,1460.3 1909.1,1462.5 1910.0,1463.6 1910.8,1455.9 1911.7,1463.4 1912.5,1460.2 1913.4,1466.5 1914.2,1462.9 1915.1,1460.5 1915.9,1459.3 1916.8,1460.4 1917.6,1470.0 1918.5,1460.7 1919.3,1463.4 1920.2,1454.7 1921.0,1462.8 1921.9,1464.8 1922.7,1460.9 1923.6,1456.5 1924.4,1459.1 1925.3,1462.3 1926.1,1458.2 1927.0,1454.7 1927.8,1456.4 1928.7,1455.5 1929.5,1457.6 1930.4,1458.6 1931.2,1452.4 1932.1,1454.9 1932.9,1454.4 1933.8,1454.3 1934.6,1453.7 1935.5,1451.2 1936.3,1450.2 1937.2,1451.3 1938.0,1444.9 1938.9,1449.5 1939.7,1449.0 1940.6,1444.9 1941.4,1447.3 1942.3,1450.8 1943.1,1446.6 1944.0,1449.0 1944.8,1451.9 1945.7,1445.5 1946.5,1452.3 1947.4,1450.0 1948.2,1448.5 1949.1,1451.8 1949.9,1453.6 1950.8,1453.9 1951.6,1453.9 1952.5,1451.5 1953.3,1456.7 1954.2,1456.8 1955.0,1453.5 1955.9,1459.4 1956.7,1460.8 1957.6,1460.1 1958.4,1459.7 1959.3,1463.9 1960.1,1457.6 1961.0,1461.7 1961.8,1460.9 1962.7,1459.3 1963.5,1457.9 1964.4,1463.0 1965.2,1463.2 1966.1,1458.5 1966.9,1461.3 1967.8,1459.8 1968.6,1456.3 1969.5,1452.8 1970.3,1459.3 1971.2,1454.5 1972.0,1459.8 1972.9,1464.3 1973.7,1463.9 1974.6,1462.7 1975.4,1461.0 1976.3,1459.7 1977.1,1463.0 1978.0,1461.1 1978.8,1465.0 1979.7,1459.4 1980.5,1461.0 1981.4,1461.0 1982.2,1465.1 1983.1,1458.4 1983.9,1468.9 1984.8,1460.5 1985.6,1458.6 1986.5,1463.8 1987.3,1461.0 1988.2,1465.0 1989.0,1463.5 1989.9,1462.3 1990.7,1467.3 1991.6,1463.0 1992.4,1460.5 1993.3,1460.4 1994.1,1458.9 1995.0,1460.0 1995.8,1460.8 1996.7,1463.5 1997.5,1464.3 1998.4,1466.6 1999.2,1464.9 2000.1,1463.8 2000.9,1461.2 2001.8,1466.0 2002.6,1463.1 2003.5,1457.3 2004.3,1465.6 2005.2,1460.4 2006.0,1462.5 2006.9,1458.9 2007.7,1462.4 2008.6,1466.2 2009.4,1460.3 2010.3,1461.0 2011.1,1460.8 2012.0,1461.7 2012.8,1458.2 2013.7,1467.3 2014.5,1461.2 2015.4,1460.4 2016.2,1464.8 2017.1,1463.9 2017.9,1465.5 2018.8,1467.5 2019.6,1461.6 2020.5,1464.8 2021.3,1463.9 2022.2,1458.9 2023.0,1461.2 2023.9,1465.8 2024.7,1462.8 2025.6,1465.2 2026.4,1466.0 2027.3,1464.6 2028.1,1464.7 2029.0,1467.4 2029.8,1464.8 2030.7,1463.3 2031.5,1468.7 2032.4,1462.6 2033.2,1468.2 2034.1,1467.3 2034.9,1467.5 2035.8,1468.5 2036.6,1468.0 2037.5,1460.4 2038.3,1465.9 2039.2,1465.3 2040.0,1464.6 2040.9,1455.2 2041.7,1464.9 2042.6,1463.7 2043.4,1474.3 2044.3,1468.6 2045.1,1464.8 2046.0,1465.3 2046.8,1469.4 2047.7,1467.1 2048.5,1462.9 2049.4,1461.2 2050.2,1464.6 2051.1,1467.4 2051.9,1470.0 2052.8,1469.2 2053.6,1460.2 2054.5,1470.3 2055.3,1463.8 2056.2,1466.0 2057.0,1465.1 2057.9,1466.2 2058.7,1471.6 2059.6,1458.3 2060.4,1457.8 2061.3,1466.4 2062.1,1465.4 2063.0,1463.4 2063.8,1465.3 2064.7,1463.7 2065.5,1457.3 2066.4,1464.8 2067.2,1460.6 2068.1,1463.9 2068.9,1462.4 2069.8,1470.4 2070.6,1468.0 2071.5,1467.2 2072.3,1465.1 2073.2,1466.8 2074.0,1465.3 2074.9,1463.6 2075.7,1462.0 2076.6,1469.7 2077.4,1474.6 2078.3,1470.0 2079.1,1463.3 2080.0,1466.2 2080.8,1467.0 2081.7,1461.7 2082.5,1464.6 2083.4,1464.0 2084.2,1461.1 2085.1,1458.5 2085.9,1460.2 2086.8,1465.4 2087.6,1466.8 2088.5,1463.6 2089.3,1466.7" stroke="#874B4B"/>
</g>
<g stroke="#000" stroke-width="2">
<line x1="391" y1="372" x2="391" y2="1556"/>
<line x1="691" y1="430.8" x2="691" y2="1556"/>
<line x1="824" y1="157" x2="824" y2="1556"/>
<line x1="866" y1="590" x2="866" y2="1556"/>
<line x1="1023" y1="509.4" x2="1023" y2="1556"/>
<line x1="1286" y1="624.9" x2="1286" y2="1556"/>
<line x1="1377" y1="485" x2="1377" y2="1556"/>
<line x1="1521" y1="424.8" x2="1521" y2="1556"/>
<line x1="1735" y1="681" x2="1735" y2="1556"/>
<line x1="1807" y1="644" x2="1807" y2="1556"/>
<line x1="1834" y1="641.6" x2="1834" y2="1556"/>
<line x1="1940" y1="674" x2="1940" y2="1556"/>
</g>
<g fill="#000">
<rect x="177" y="37" width="7" height="1551"/>
<rect x="177" y="1550" width="2043" height="6"/>
<rect x="432" y="1550" width="7" height="38"/>
<rect x="686" y="1550" width="7" height="38"/>
<rect x="941" y="1550" width="7" height="38"/>
<rect x="1195" y="1550" width="7" height="38"/>
<rect x="1450" y="1550" width="7" height="38"/>
<rect x="1704" y="1550" width="7" height="38"/>
<rect x="1959" y="1550" width="7" height="38"/>
<rect x="2213" y="1550" width="7" height="38"/>
<rect x="304" y="1550" width="7" height="20"/>
<rect x="559" y="1550" width="7" height="20"/>
<rect x="813" y="1550" width="7" height="20"/>
<rect x="1068" y="1550" width="7" height="20"/>
<rect x="1322" y="1550" width="7" height="20"/>
<rect x="1577" y="1550" width="7" height="20"/>
<rect x="1831" y="1550" width="7" height="20"/>
<rect x="2086" y="1550" width="7" height="20"/>
</g>
<g font-size="65.5" text-anchor="middle" fill="#000">
<text x="180.5" y="1662">10</text>
<text x="435.0" y="1662">20</text>
<text x="689.5" y="1662">30</text>
<text x="943.9" y="1662">40</text>
<text x="1198.4" y="1662">50</text>
<text x="1452.9" y="1662">60</text>
<text x="1707.4" y="1662">70</text>
<text x="1961.8" y="1662">80</text>
<text x="2216.3" y="1662">90</text>
</g>
<g font-size="65.5" fill="#000">
<text transform="translate(408.3,372.2) rotate(-90)">(111)</text>
<text transform="translate(708.7,425.5) rotate(-90)">(220)</text>
<text transform="translate(907,188.8) rotate(-90)">(311)</text>
<text transform="translate(911.3,582.7) rotate(-90)">(222)</text>
<text transform="translate(1041.7,499.7) rotate(-90)">(400)</text>
<text transform="translate(1309.8,623.7) rotate(-90)">(422)</text>
<text transform="translate(1397.8,472.8) rotate(-90)">(511)</text>
<text transform="translate(1532.6,422.9) rotate(-90)">(440)</text>
<text transform="translate(1729.6,678.7) rotate(-90)">(620)</text>
<text transform="translate(1803,639.6) rotate(-90)">(533)</text>
<text transform="translate(1885,641.9) rotate(-90)">(622)</text>
<text transform="translate(1974,670.1) rotate(-90)">(444)</text>
</g>
<g font-size="72.5" fill="#000">
<text x="2096.5" y="711.8">x=1</text>
<text x="2096.5" y="825.1">x=0.95</text>
<text x="2096.5" y="938.5">x=0.9</text>
<text x="2096.5" y="1051.8">x=0.8</text>
<text x="2096.5" y="1165.2">x=0.7</text>
<text x="2096.5" y="1278.5">x=0.5</text>
<text x="2096.5" y="1391.9">x=0.3</text>
<text x="2096.5" y="1505.2">x=0</text>
</g>
<text font-size="77" transform="translate(106,1073.7) rotate(-90)">Intensity [relativ]</text>
<text font-size="77" y="1793.5"><tspan x="974.6">position [°2</tspan><tspan x="1356" font-family="Liberation Serif, serif">θ</tspan><tspan x="1399">]</tspan></text>
</svg></body></html>
